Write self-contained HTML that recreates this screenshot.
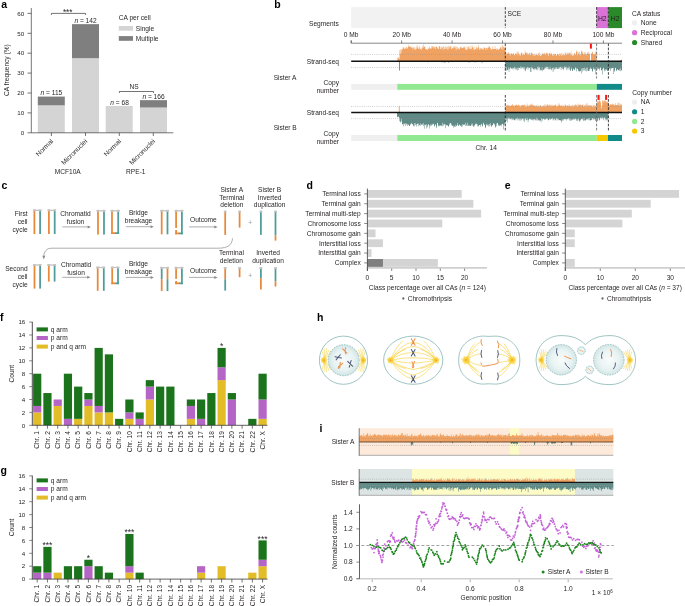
<!DOCTYPE html>
<html><head><meta charset="utf-8"><style>
html,body{margin:0;padding:0;background:#fff;}
body{width:685px;height:606px;overflow:hidden;font-family:"Liberation Sans",sans-serif;}
svg{display:block;will-change:transform;}
</style></head><body>
<svg width="685" height="606" viewBox="0 0 685 606" font-family="Liberation Sans, sans-serif" fill="#231f20"><defs><radialGradient id="nuc" cx="0.5" cy="0.5" r="0.5"><stop offset="0" stop-color="#f8fbfb"/><stop offset="0.65" stop-color="#e9f3f3"/><stop offset="1" stop-color="#d2e5e5"/></radialGradient><radialGradient id="ast" cx="0.5" cy="0.5" r="0.5"><stop offset="0" stop-color="#f9d040" stop-opacity="1"/><stop offset="0.55" stop-color="#fad84e" stop-opacity="0.75"/><stop offset="1" stop-color="#fbe680" stop-opacity="0"/></radialGradient></defs><text x="1.3" y="8.2" font-size="10.5" font-weight="bold" fill="#000">a</text>
<rect x="37.8" y="105.34" width="27" height="27.46" fill="#d4d4d4" />
<rect x="37.8" y="96.58" width="27" height="8.76" fill="#7f7f7f" />
<rect x="72" y="58.18" width="27" height="74.62" fill="#d4d4d4" />
<rect x="72" y="24.15" width="27" height="34.03" fill="#7f7f7f" />
<rect x="105.7" y="105.94" width="27" height="26.86" fill="#d4d4d4" />
<rect x="140" y="107.53" width="27" height="25.27" fill="#d4d4d4" />
<rect x="140" y="100.16" width="27" height="7.36" fill="#7f7f7f" />
<line x1="31.3" y1="8.1" x2="31.3" y2="132.8" stroke="#3a3a3a" stroke-width="0.7" />
<line x1="31.3" y1="132.8" x2="173.3" y2="132.8" stroke="#3a3a3a" stroke-width="0.7" />
<line x1="27.5" y1="132.8" x2="31.3" y2="132.8" stroke="#3a3a3a" stroke-width="0.7" />
<text x="24.2" y="135" font-size="6.2" text-anchor="end">0</text>
<line x1="27.5" y1="112.9" x2="31.3" y2="112.9" stroke="#3a3a3a" stroke-width="0.7" />
<text x="24.2" y="115.1" font-size="6.2" text-anchor="end">10</text>
<line x1="27.5" y1="93" x2="31.3" y2="93" stroke="#3a3a3a" stroke-width="0.7" />
<text x="24.2" y="95.2" font-size="6.2" text-anchor="end">20</text>
<line x1="27.5" y1="73.1" x2="31.3" y2="73.1" stroke="#3a3a3a" stroke-width="0.7" />
<text x="24.2" y="75.3" font-size="6.2" text-anchor="end">30</text>
<line x1="27.5" y1="53.2" x2="31.3" y2="53.2" stroke="#3a3a3a" stroke-width="0.7" />
<text x="24.2" y="55.4" font-size="6.2" text-anchor="end">40</text>
<line x1="27.5" y1="33.3" x2="31.3" y2="33.3" stroke="#3a3a3a" stroke-width="0.7" />
<text x="24.2" y="35.5" font-size="6.2" text-anchor="end">50</text>
<line x1="27.5" y1="13.4" x2="31.3" y2="13.4" stroke="#3a3a3a" stroke-width="0.7" />
<text x="24.2" y="15.6" font-size="6.2" text-anchor="end">60</text>
<line x1="51.4" y1="132.8" x2="51.4" y2="136" stroke="#3a3a3a" stroke-width="0.7" />
<line x1="85.5" y1="132.8" x2="85.5" y2="136" stroke="#3a3a3a" stroke-width="0.7" />
<line x1="119.3" y1="132.8" x2="119.3" y2="136" stroke="#3a3a3a" stroke-width="0.7" />
<line x1="153.3" y1="132.8" x2="153.3" y2="136" stroke="#3a3a3a" stroke-width="0.7" />
<text x="9.3" y="70.1" font-size="6.6" text-anchor="middle" transform="rotate(-90 9.3 70.1)">CA frequency (%)</text>
<text x="51.4" y="94.6" font-size="6.6" text-anchor="middle"><tspan font-style="italic">n</tspan> = 115</text>
<text x="85.5" y="22.7" font-size="6.6" text-anchor="middle"><tspan font-style="italic">n</tspan> = 142</text>
<text x="119.6" y="104.8" font-size="6.6" text-anchor="middle"><tspan font-style="italic">n</tspan> = 68</text>
<text x="153.5" y="99" font-size="6.6" text-anchor="middle"><tspan font-style="italic">n</tspan> = 166</text>
<path d="M51.4 15 V13.4 H85.6 V15" stroke="#3a3a3a" stroke-width="0.7" fill="none" />
<text x="67.7" y="14.6" font-size="8.2" text-anchor="middle">***</text>
<path d="M119.4 93 V91.5 H153.5 V93" stroke="#3a3a3a" stroke-width="0.7" fill="none" />
<text x="134.2" y="88.9" font-size="6.6" text-anchor="middle">NS</text>
<text x="118.8" y="20" font-size="6.6">CA per cell</text>
<rect x="118.8" y="26" width="14.2" height="4.7" fill="#d4d4d4" />
<rect x="118.8" y="36.1" width="14.2" height="4.7" fill="#7f7f7f" />
<text x="135.8" y="30.6" font-size="6.6">Single</text>
<text x="135.8" y="40.9" font-size="6.6">Multiple</text>
<text x="53.6" y="141.7" font-size="6.6" text-anchor="end" transform="rotate(-45 53.6 141.7)">Normal</text>
<text x="87.7" y="141.7" font-size="6.6" text-anchor="end" transform="rotate(-45 87.7 141.7)">Micronuclei</text>
<text x="121.5" y="141.7" font-size="6.6" text-anchor="end" transform="rotate(-45 121.5 141.7)">Normal</text>
<text x="155.5" y="141.7" font-size="6.6" text-anchor="end" transform="rotate(-45 155.5 141.7)">Micronuclei</text>
<text x="67.7" y="174" font-size="6.6" text-anchor="middle">MCF10A</text>
<text x="135.8" y="174" font-size="6.6" text-anchor="middle">RPE-1</text>
<text x="274.2" y="8" font-size="10.5" font-weight="bold" fill="#000">b</text>
<rect x="351.2" y="7.1" width="245.4" height="21" fill="#f2f2f2" />
<rect x="596.6" y="7.1" width="11.7" height="21" fill="#da72d8" />
<rect x="608.3" y="7.1" width="13.7" height="21" fill="#2a8a2a" />
<text x="338.7" y="25.8" font-size="6.6" text-anchor="end">Segments</text>
<text x="507.5" y="15.5" font-size="6.6">SCE</text>
<text x="602.3" y="20.6" font-size="6.8" text-anchor="middle">H2</text>
<text x="615.1" y="20.6" font-size="6.8" text-anchor="middle">H2</text>
<line x1="351.2" y1="43.2" x2="622" y2="43.2" stroke="#555" stroke-width="0.7" />
<line x1="351.2" y1="40.4" x2="351.2" y2="43.2" stroke="#555" stroke-width="0.7" />
<text x="351.2" y="37" font-size="6.6" text-anchor="middle">0 Mb</text>
<line x1="401.64" y1="40.4" x2="401.64" y2="43.2" stroke="#555" stroke-width="0.7" />
<text x="401.64" y="37" font-size="6.6" text-anchor="middle">20 Mb</text>
<line x1="452.08" y1="40.4" x2="452.08" y2="43.2" stroke="#555" stroke-width="0.7" />
<text x="452.08" y="37" font-size="6.6" text-anchor="middle">40 Mb</text>
<line x1="502.52" y1="40.4" x2="502.52" y2="43.2" stroke="#555" stroke-width="0.7" />
<text x="502.52" y="37" font-size="6.6" text-anchor="middle">60 Mb</text>
<line x1="552.96" y1="40.4" x2="552.96" y2="43.2" stroke="#555" stroke-width="0.7" />
<text x="552.96" y="37" font-size="6.6" text-anchor="middle">80 Mb</text>
<line x1="603.4" y1="40.4" x2="603.4" y2="43.2" stroke="#555" stroke-width="0.7" />
<text x="603.4" y="37" font-size="6.6" text-anchor="middle">100 Mb</text>
<line x1="351.2" y1="40.4" x2="351.2" y2="43.2" stroke="#555" stroke-width="0.7" />
<path d="M397.3 61.2 L397.3 58.55 L397.8 58.55 L397.8 57.04 L398.3 57.04 L398.3 57.66 L398.8 57.66 L398.8 59.13 L399.3 59.13 L399.3 58.38 L399.5 58.38 L399.5 50.24 L400 50.24 L400 53.86 L400.5 53.86 L400.5 49.51 L401 49.51 L401 52.82 L401.3 52.82 L401.3 49.81 L401.8 49.81 L401.8 48.84 L402.3 48.84 L402.3 49.53 L402.8 49.53 L402.8 46.74 L403.3 46.74 L403.3 47.67 L403.8 47.67 L403.8 48.51 L404.3 48.51 L404.3 49.09 L404.8 49.09 L404.8 47.28 L405.3 47.28 L405.3 48.74 L405.8 48.74 L405.8 48.19 L406.3 48.19 L406.3 46.82 L406.8 46.82 L406.8 49.02 L407.3 49.02 L407.3 47.9 L407.8 47.9 L407.8 47.08 L408.3 47.08 L408.3 44.74 L408.8 44.74 L408.8 46.97 L409.3 46.97 L409.3 45.91 L409.8 45.91 L409.8 46.94 L410.3 46.94 L410.3 46.5 L410.8 46.5 L410.8 47.22 L411.3 47.22 L411.3 47.68 L411.8 47.68 L411.8 46.64 L412.3 46.64 L412.3 48.1 L412.8 48.1 L412.8 49.76 L413.3 49.76 L413.3 47.41 L413.8 47.41 L413.8 46.71 L414.3 46.71 L414.3 48.46 L414.8 48.46 L414.8 49.91 L415.3 49.91 L415.3 49.14 L415.8 49.14 L415.8 46.93 L416.3 46.93 L416.3 49.01 L416.8 49.01 L416.8 45.08 L417.3 45.08 L417.3 47.8 L417.8 47.8 L417.8 46.72 L418.3 46.72 L418.3 48.89 L418.8 48.89 L418.8 48.56 L419.3 48.56 L419.3 46.17 L419.8 46.17 L419.8 49.3 L420.3 49.3 L420.3 49.07 L420.8 49.07 L420.8 47.64 L421.3 47.64 L421.3 49.98 L421.8 49.98 L421.8 48.52 L422.3 48.52 L422.3 46.19 L422.8 46.19 L422.8 47.94 L423.3 47.94 L423.3 44.42 L423.8 44.42 L423.8 46.88 L424.3 46.88 L424.3 46.81 L424.8 46.81 L424.8 46.37 L425.3 46.37 L425.3 49.08 L425.8 49.08 L425.8 49.35 L426.3 49.35 L426.3 49.31 L426.8 49.31 L426.8 49.59 L427.3 49.59 L427.3 49.9 L427.8 49.9 L427.8 47.54 L428.3 47.54 L428.3 48.99 L428.8 48.99 L428.8 48.54 L429.3 48.54 L429.3 46.6 L429.8 46.6 L429.8 48.14 L430.3 48.14 L430.3 48.56 L430.8 48.56 L430.8 48.94 L431.3 48.94 L431.3 46.31 L431.8 46.31 L431.8 47.89 L432.3 47.89 L432.3 46.14 L432.8 46.14 L432.8 46.09 L433.3 46.09 L433.3 47.22 L433.8 47.22 L433.8 48.53 L434.3 48.53 L434.3 46.91 L434.8 46.91 L434.8 46.88 L435.3 46.88 L435.3 49.11 L435.8 49.11 L435.8 46.06 L436.3 46.06 L436.3 46.78 L436.8 46.78 L436.8 47.04 L437.3 47.04 L437.3 47.93 L437.8 47.93 L437.8 48.99 L438.3 48.99 L438.3 48.96 L438.8 48.96 L438.8 46.17 L439.3 46.17 L439.3 46.25 L439.8 46.25 L439.8 46.18 L440.3 46.18 L440.3 49.12 L440.8 49.12 L440.8 49.21 L441.3 49.21 L441.3 47.5 L441.8 47.5 L441.8 46.64 L442.3 46.64 L442.3 47.39 L442.8 47.39 L442.8 49.66 L443.3 49.66 L443.3 46.36 L443.8 46.36 L443.8 47 L444.3 47 L444.3 49.29 L444.8 49.29 L444.8 48.67 L445.3 48.67 L445.3 46.11 L445.8 46.11 L445.8 48.39 L446.3 48.39 L446.3 47.1 L446.8 47.1 L446.8 49.49 L447.3 49.49 L447.3 46.38 L447.8 46.38 L447.8 49.42 L448.3 49.42 L448.3 46.08 L448.8 46.08 L448.8 48.6 L449.3 48.6 L449.3 46.37 L449.8 46.37 L449.8 47.4 L450.3 47.4 L450.3 46.27 L450.8 46.27 L450.8 46.51 L451.3 46.51 L451.3 49.16 L451.8 49.16 L451.8 48.83 L452.3 48.83 L452.3 47.65 L452.8 47.65 L452.8 48.32 L453.3 48.32 L453.3 46.36 L453.8 46.36 L453.8 48.17 L454.3 48.17 L454.3 46.38 L454.8 46.38 L454.8 46.33 L455.3 46.33 L455.3 47.87 L455.8 47.87 L455.8 49.93 L456.3 49.93 L456.3 46.71 L456.8 46.71 L456.8 49.31 L457.3 49.31 L457.3 47.1 L457.8 47.1 L457.8 48.7 L458.3 48.7 L458.3 47.78 L458.8 47.78 L458.8 49.58 L459.3 49.58 L459.3 49.01 L459.8 49.01 L459.8 46.91 L460.3 46.91 L460.3 47.75 L460.8 47.75 L460.8 46.35 L461.3 46.35 L461.3 47.55 L461.8 47.55 L461.8 47.95 L462.3 47.95 L462.3 48.19 L462.8 48.19 L462.8 48.09 L463.3 48.09 L463.3 47.2 L463.8 47.2 L463.8 46.23 L464.3 46.23 L464.3 47.76 L464.8 47.76 L464.8 46.64 L465.3 46.64 L465.3 49.51 L465.8 49.51 L465.8 49.71 L466.3 49.71 L466.3 49.71 L466.8 49.71 L466.8 46.86 L467.3 46.86 L467.3 49.38 L467.8 49.38 L467.8 47.36 L468.3 47.36 L468.3 46.47 L468.8 46.47 L468.8 49.12 L469.3 49.12 L469.3 48.41 L469.8 48.41 L469.8 46.04 L470.3 46.04 L470.3 49.35 L470.8 49.35 L470.8 47.94 L471.3 47.94 L471.3 49.22 L471.8 49.22 L471.8 45.34 L472.3 45.34 L472.3 47.18 L472.8 47.18 L472.8 47.5 L473.3 47.5 L473.3 49.74 L473.8 49.74 L473.8 46.85 L474.3 46.85 L474.3 49.58 L474.8 49.58 L474.8 49.84 L475.3 49.84 L475.3 48.92 L475.8 48.92 L475.8 48.31 L476.3 48.31 L476.3 46.72 L476.8 46.72 L476.8 49.4 L477.3 49.4 L477.3 47.72 L477.8 47.72 L477.8 47.44 L478.3 47.44 L478.3 45.3 L478.8 45.3 L478.8 47.46 L479.3 47.46 L479.3 49.67 L479.8 49.67 L479.8 49.73 L480.3 49.73 L480.3 48.18 L480.8 48.18 L480.8 47.79 L481.3 47.79 L481.3 48.93 L481.8 48.93 L481.8 47.89 L482.3 47.89 L482.3 49.56 L482.8 49.56 L482.8 49.8 L483.3 49.8 L483.3 48.75 L483.8 48.75 L483.8 46.96 L484.3 46.96 L484.3 48 L484.8 48 L484.8 47.81 L485.3 47.81 L485.3 49.94 L485.8 49.94 L485.8 47.8 L486.3 47.8 L486.3 48.1 L486.8 48.1 L486.8 49.57 L487.3 49.57 L487.3 48.27 L487.8 48.27 L487.8 46.66 L488.3 46.66 L488.3 47.97 L488.8 47.97 L488.8 46.07 L489.3 46.07 L489.3 46.67 L489.8 46.67 L489.8 47.46 L490.3 47.46 L490.3 48.19 L490.8 48.19 L490.8 49.72 L491.3 49.72 L491.3 48.98 L491.8 48.98 L491.8 49.66 L492.3 49.66 L492.3 46.52 L492.8 46.52 L492.8 48.87 L493.3 48.87 L493.3 48.83 L493.8 48.83 L493.8 49.37 L494.3 49.37 L494.3 48.95 L494.8 48.95 L494.8 46.11 L495.3 46.11 L495.3 49.02 L495.8 49.02 L495.8 48.76 L496.3 48.76 L496.3 50 L496.8 50 L496.8 48.1 L497.3 48.1 L497.3 49.2 L497.8 49.2 L497.8 49.98 L498.3 49.98 L498.3 49.64 L498.8 49.64 L498.8 48.86 L499.3 48.86 L499.3 49.07 L499.8 49.07 L499.8 47.88 L500.3 47.88 L500.3 47.37 L500.8 47.37 L500.8 46.48 L501.3 46.48 L501.3 48.7 L501.8 48.7 L501.8 49.4 L502.3 49.4 L502.3 44.75 L502.8 44.75 L502.8 46.43 L503.3 46.43 L503.3 47.06 L503.8 47.06 L503.8 49.44 L504.3 49.44 L504.3 47.98 L504.8 47.98 L504.8 46.78 L505.3 46.78 L505.3 53.9 L505.8 53.9 L505.8 53.54 L506.3 53.54 L506.3 54.79 L506.8 54.79 L506.8 52.29 L507.3 52.29 L507.3 53.99 L507.8 53.99 L507.8 53.75 L508.3 53.75 L508.3 51.94 L508.8 51.94 L508.8 53.31 L509.3 53.31 L509.3 54.07 L509.8 54.07 L509.8 55.76 L510.3 55.76 L510.3 54.33 L510.8 54.33 L510.8 53.37 L511.3 53.37 L511.3 53.34 L511.8 53.34 L511.8 54.22 L512.3 54.22 L512.3 54.28 L512.8 54.28 L512.8 53.24 L513.3 53.24 L513.3 53.26 L513.8 53.26 L513.8 55.09 L514.3 55.09 L514.3 54.9 L514.8 54.9 L514.8 55.18 L515.3 55.18 L515.3 53.58 L515.8 53.58 L515.8 53.57 L516.3 53.57 L516.3 54.14 L516.8 54.14 L516.8 51.75 L517.3 51.75 L517.3 55.28 L517.8 55.28 L517.8 51.31 L518.3 51.31 L518.3 53.05 L518.8 53.05 L518.8 54.38 L519.3 54.38 L519.3 55.24 L519.8 55.24 L519.8 55.24 L520.3 55.24 L520.3 55.49 L520.8 55.49 L520.8 52.57 L521.3 52.57 L521.3 53.05 L521.8 53.05 L521.8 52.81 L522.3 52.81 L522.3 55.17 L522.8 55.17 L522.8 54.24 L523.3 54.24 L523.3 54.23 L523.8 54.23 L523.8 54.91 L524.3 54.91 L524.3 54.76 L524.8 54.76 L524.8 50.81 L525.3 50.81 L525.3 52.98 L525.8 52.98 L525.8 52.66 L526.3 52.66 L526.3 52.75 L526.8 52.75 L526.8 54.66 L527.3 54.66 L527.3 52.4 L527.8 52.4 L527.8 54.7 L528.3 54.7 L528.3 54.72 L528.8 54.72 L528.8 53 L529.3 53 L529.3 52.63 L529.8 52.63 L529.8 55.04 L530.3 55.04 L530.3 55.32 L530.8 55.32 L530.8 52.56 L531.3 52.56 L531.3 53.08 L531.8 53.08 L531.8 52.71 L532.3 52.71 L532.3 54.02 L532.8 54.02 L532.8 55.82 L533.3 55.82 L533.3 54.38 L533.8 54.38 L533.8 53.68 L534.3 53.68 L534.3 55.82 L534.8 55.82 L534.8 55.54 L535.3 55.54 L535.3 54.76 L535.8 54.76 L535.8 53.34 L536.3 53.34 L536.3 55.06 L536.8 55.06 L536.8 54.92 L537.3 54.92 L537.3 54.58 L537.8 54.58 L537.8 55.42 L538.3 55.42 L538.3 52.74 L538.8 52.74 L538.8 55.21 L539.3 55.21 L539.3 52.41 L539.8 52.41 L539.8 55.5 L540.3 55.5 L540.3 55.67 L540.8 55.67 L540.8 55.67 L541.3 55.67 L541.3 55.07 L541.8 55.07 L541.8 52.81 L542.3 52.81 L542.3 54.51 L542.8 54.51 L542.8 54.11 L543.3 54.11 L543.3 53.98 L543.8 53.98 L543.8 52.52 L544.3 52.52 L544.3 54.19 L544.8 54.19 L544.8 52.89 L545.3 52.89 L545.3 55.02 L545.8 55.02 L545.8 54.56 L546.3 54.56 L546.3 52.57 L546.8 52.57 L546.8 52.76 L547.3 52.76 L547.3 53.45 L547.8 53.45 L547.8 54.3 L548.3 54.3 L548.3 56 L548.8 56 L548.8 52.66 L549.3 52.66 L549.3 52.92 L549.8 52.92 L549.8 54.66 L550.3 54.66 L550.3 54.12 L550.8 54.12 L550.8 52.61 L551.3 52.61 L551.3 53.67 L551.8 53.67 L551.8 54.35 L552.3 54.35 L552.3 55.86 L552.8 55.86 L552.8 55.16 L553.3 55.16 L553.3 53.68 L553.8 53.68 L553.8 55.54 L554.3 55.54 L554.3 53.71 L554.8 53.71 L554.8 54.09 L555.3 54.09 L555.3 53.9 L555.8 53.9 L555.8 55.2 L556.3 55.2 L556.3 55.96 L556.8 55.96 L556.8 54.34 L557.3 54.34 L557.3 53.68 L557.8 53.68 L557.8 54.29 L558.3 54.29 L558.3 55.11 L558.8 55.11 L558.8 53.46 L559.3 53.46 L559.3 55.92 L559.8 55.92 L559.8 53.57 L560.3 53.57 L560.3 55.07 L560.8 55.07 L560.8 52.67 L561.3 52.67 L561.3 55.88 L561.8 55.88 L561.8 54.49 L562.3 54.49 L562.3 55.29 L562.8 55.29 L562.8 53.34 L563.3 53.34 L563.3 55.26 L563.8 55.26 L563.8 54.88 L564.3 54.88 L564.3 55.17 L564.8 55.17 L564.8 53.26 L565.3 53.26 L565.3 52.57 L565.8 52.57 L565.8 55.33 L566.3 55.33 L566.3 54.5 L566.8 54.5 L566.8 52.58 L567.3 52.58 L567.3 54.58 L567.8 54.58 L567.8 52.49 L568.3 52.49 L568.3 54.68 L568.8 54.68 L568.8 52.77 L569.3 52.77 L569.3 53.36 L569.8 53.36 L569.8 52.65 L570.3 52.65 L570.3 55.33 L570.8 55.33 L570.8 51.4 L571.3 51.4 L571.3 54.64 L571.8 54.64 L571.8 54.81 L572.3 54.81 L572.3 55.99 L572.8 55.99 L572.8 54.73 L573.3 54.73 L573.3 55.55 L573.8 55.55 L573.8 55.25 L574.3 55.25 L574.3 53.04 L574.8 53.04 L574.8 53.08 L575 53.08 L575 53.96 L575.5 53.96 L575.5 54.75 L576 54.75 L576 50.21 L576.5 50.21 L576.5 52.03 L577 52.03 L577 55.2 L577.5 55.2 L577.5 51.55 L578 51.55 L578 52.31 L578.5 52.31 L578.5 54.11 L579 54.11 L579 51.39 L579.5 51.39 L579.5 54.45 L580 54.45 L580 54.21 L580.5 54.21 L580.5 55.58 L581 55.58 L581 51.57 L581.5 51.57 L581.5 50.63 L582 50.63 L582 53.51 L582.5 53.51 L582.5 51.4 L583 51.4 L583 54.5 L583.5 54.5 L583.5 53.43 L584 53.43 L584 54.8 L584.5 54.8 L584.5 52.35 L585 52.35 L585 52.2 L585.5 52.2 L585.5 54.16 L586 54.16 L586 54.01 L586.5 54.01 L586.5 55.25 L587 55.25 L587 52.29 L587.5 52.29 L587.5 53.37 L588 53.37 L588 54.17 L588.5 54.17 L588.5 51.71 L589 51.71 L589 54.1 L589.5 54.1 L589.5 53.41 L590 53.41 L590 61.2 Z" stroke="none" stroke-width="0.7" fill="#f0a262" />
<path d="M591 61.2 L591 53.43 L591.5 53.43 L591.5 53.57 L592 53.57 L592 52.43 L592.5 52.43 L592.5 51.67 L593 51.67 L593 54.87 L593.5 54.87 L593.5 54.11 L594 54.11 L594 53.76 L594.5 53.76 L594.5 54.52 L595 54.52 L595 54.32 L595.5 54.32 L595.5 51.51 L596 51.51 L596 53.96 L596.5 53.96 L596.5 51.03 L596.6 51.03 L596.6 61.2 Z" stroke="none" stroke-width="0.7" fill="#f0a262" />
<path d="M620.5 61.2 L620.5 59.97 L621 59.97 L621 59.55 L621.5 59.55 L621.5 60.1 L622 60.1 L622 61.2 Z" stroke="none" stroke-width="0.7" fill="#f0a262" />
<path d="M505.3 61.2 L505.3 69.68 L505.8 69.68 L505.8 71 L506.3 71 L506.3 66.88 L506.8 66.88 L506.8 70.29 L507.3 70.29 L507.3 70.12 L507.8 70.12 L507.8 69.86 L508.3 69.86 L508.3 67.44 L508.8 67.44 L508.8 72.09 L509.3 72.09 L509.3 68.88 L509.8 68.88 L509.8 67.87 L510.3 67.87 L510.3 67.22 L510.8 67.22 L510.8 68.8 L511.3 68.8 L511.3 68.26 L511.8 68.26 L511.8 69.11 L512.3 69.11 L512.3 67.65 L512.8 67.65 L512.8 69.58 L513.3 69.58 L513.3 67.92 L513.8 67.92 L513.8 68.6 L514.3 68.6 L514.3 66.76 L514.8 66.76 L514.8 69.18 L515.3 69.18 L515.3 67.53 L515.8 67.53 L515.8 70.21 L516.3 70.21 L516.3 68.67 L516.8 68.67 L516.8 68.07 L517.3 68.07 L517.3 70.39 L517.8 70.39 L517.8 67.19 L518.3 67.19 L518.3 70.1 L518.8 70.1 L518.8 68.1 L519.3 68.1 L519.3 68.02 L519.8 68.02 L519.8 68.24 L520.3 68.24 L520.3 66.46 L520.8 66.46 L520.8 68.96 L521.3 68.96 L521.3 66.76 L521.8 66.76 L521.8 67.88 L522.3 67.88 L522.3 66.98 L522.8 66.98 L522.8 68.48 L523.3 68.48 L523.3 66.84 L523.8 66.84 L523.8 69.62 L524.3 69.62 L524.3 67.19 L524.8 67.19 L524.8 70.17 L525.3 70.17 L525.3 71.29 L525.8 71.29 L525.8 67.95 L526.3 67.95 L526.3 68.88 L526.8 68.88 L526.8 67.04 L527.3 67.04 L527.3 67.29 L527.8 67.29 L527.8 69.79 L528.3 69.79 L528.3 67.13 L528.8 67.13 L528.8 68 L529.3 68 L529.3 67.93 L529.8 67.93 L529.8 67.39 L530.3 67.39 L530.3 71.79 L530.8 71.79 L530.8 72.11 L531.3 72.11 L531.3 66.87 L531.8 66.87 L531.8 68.6 L532.3 68.6 L532.3 67.62 L532.8 67.62 L532.8 68.73 L533.3 68.73 L533.3 69.04 L533.8 69.04 L533.8 70.13 L534.3 70.13 L534.3 68.36 L534.8 68.36 L534.8 69.45 L535.3 69.45 L535.3 68.23 L535.8 68.23 L535.8 68.7 L536.3 68.7 L536.3 69.54 L536.8 69.54 L536.8 70.48 L537.3 70.48 L537.3 66.73 L537.8 66.73 L537.8 69.51 L538.3 69.51 L538.3 66.62 L538.8 66.62 L538.8 67.91 L539.3 67.91 L539.3 66.94 L539.8 66.94 L539.8 70.38 L540.3 70.38 L540.3 69.66 L540.8 69.66 L540.8 70.33 L541.3 70.33 L541.3 70.23 L541.8 70.23 L541.8 67.06 L542.3 67.06 L542.3 71.25 L542.8 71.25 L542.8 69.42 L543.3 69.42 L543.3 69.99 L543.8 69.99 L543.8 69.66 L544.3 69.66 L544.3 68.41 L544.8 68.41 L544.8 67.23 L545.3 67.23 L545.3 68.42 L545.8 68.42 L545.8 66.55 L546.3 66.55 L546.3 67.04 L546.8 67.04 L546.8 69.12 L547.3 69.12 L547.3 67.07 L547.8 67.07 L547.8 66.86 L548.3 66.86 L548.3 68.95 L548.8 68.95 L548.8 69.89 L549.3 69.89 L549.3 68.72 L549.8 68.72 L549.8 66.82 L550.3 66.82 L550.3 68.92 L550.8 68.92 L550.8 69.59 L551.3 69.59 L551.3 70.36 L551.8 70.36 L551.8 67.84 L552.3 67.84 L552.3 68.17 L552.8 68.17 L552.8 72 L553.3 72 L553.3 67.41 L553.8 67.41 L553.8 70.34 L554.3 70.34 L554.3 69.05 L554.8 69.05 L554.8 66.89 L555.3 66.89 L555.3 68.86 L555.8 68.86 L555.8 68.45 L556.3 68.45 L556.3 66.93 L556.8 66.93 L556.8 69.02 L557.3 69.02 L557.3 68.96 L557.8 68.96 L557.8 67.3 L558.3 67.3 L558.3 68.76 L558.8 68.76 L558.8 68.9 L559.3 68.9 L559.3 66.94 L559.8 66.94 L559.8 67.37 L560.3 67.37 L560.3 66.78 L560.8 66.78 L560.8 69.89 L561.3 69.89 L561.3 68.01 L561.8 68.01 L561.8 66.45 L562.3 66.45 L562.3 68.65 L562.8 68.65 L562.8 68.98 L563.3 68.98 L563.3 70.15 L563.8 70.15 L563.8 67.39 L564.3 67.39 L564.3 66.58 L564.8 66.58 L564.8 68.02 L565.3 68.02 L565.3 66.63 L565.8 66.63 L565.8 66.45 L566.3 66.45 L566.3 70.16 L566.8 70.16 L566.8 67.2 L567.3 67.2 L567.3 68.43 L567.8 68.43 L567.8 69.65 L568.3 69.65 L568.3 67.64 L568.8 67.64 L568.8 66.59 L569.3 66.59 L569.3 69.53 L569.8 69.53 L569.8 66.43 L570 66.43 L570 70.63 L570.5 70.63 L570.5 70.61 L571 70.61 L571 69.09 L571.5 69.09 L571.5 67.38 L572 67.38 L572 70.65 L572.5 70.65 L572.5 71.09 L573 71.09 L573 68.42 L573.5 68.42 L573.5 69.21 L574 69.21 L574 69.61 L574.5 69.61 L574.5 70.15 L575 70.15 L575 68.2 L575.5 68.2 L575.5 67.27 L576 67.27 L576 68.29 L576.5 68.29 L576.5 71.55 L577 71.55 L577 68.7 L577.5 68.7 L577.5 68.71 L578 68.71 L578 71.37 L578.5 71.37 L578.5 70.39 L579 70.39 L579 71.7 L579.5 71.7 L579.5 71.06 L580 71.06 L580 71.14 L580.5 71.14 L580.5 70.53 L581 70.53 L581 68.62 L581.5 68.62 L581.5 73.42 L582 73.42 L582 68.26 L582.5 68.26 L582.5 71.47 L583 71.47 L583 68.01 L583.5 68.01 L583.5 70.39 L584 70.39 L584 70.41 L584.5 70.41 L584.5 67.5 L585 67.5 L585 68.87 L585.5 68.87 L585.5 70.97 L586 70.97 L586 67.5 L586.5 67.5 L586.5 71.41 L587 71.41 L587 67.69 L587.5 67.69 L587.5 70.83 L588 70.83 L588 70.94 L588.5 70.94 L588.5 71 L589 71 L589 68.88 L589.5 68.88 L589.5 70.68 L590 70.68 L590 68.67 L590.5 68.67 L590.5 67.3 L591 67.3 L591 68.5 L591.5 68.5 L591.5 68.89 L592 68.89 L592 71.63 L592.5 71.63 L592.5 71.12 L593 71.12 L593 67.34 L593.5 67.34 L593.5 69.21 L594 69.21 L594 68.8 L594.5 68.8 L594.5 69.67 L595 69.67 L595 74.18 L595.5 74.18 L595.5 68.73 L596 68.73 L596 70.71 L596.5 70.71 L596.5 67.22 L597 67.22 L597 69.46 L597.5 69.46 L597.5 68.05 L598 68.05 L598 68.8 L598.5 68.8 L598.5 68.4 L599 68.4 L599 68.51 L599.5 68.51 L599.5 70.42 L600 70.42 L600 67.71 L600.5 67.71 L600.5 67.57 L601 67.57 L601 70.41 L601.5 70.41 L601.5 70.09 L602 70.09 L602 69.05 L602.5 69.05 L602.5 74.57 L603 74.57 L603 67.32 L603.5 67.32 L603.5 68.41 L604 68.41 L604 69.51 L604.5 69.51 L604.5 71.27 L605 71.27 L605 69.32 L605.5 69.32 L605.5 70.67 L606 70.67 L606 70.17 L606.5 70.17 L606.5 68.7 L607 68.7 L607 71.08 L607.5 71.08 L607.5 70.61 L608 70.61 L608 69.22 L608.5 69.22 L608.5 69.86 L609 69.86 L609 69.33 L609.5 69.33 L609.5 68.29 L610 68.29 L610 68.59 L610.5 68.59 L610.5 71.08 L611 71.08 L611 67.92 L611.5 67.92 L611.5 68.7 L612 68.7 L612 67.94 L612.5 67.94 L612.5 68.07 L613 68.07 L613 74.09 L613.5 74.09 L613.5 67.67 L614 67.67 L614 71.73 L614.5 71.73 L614.5 70.57 L615 70.57 L615 68.1 L615.5 68.1 L615.5 67.69 L616 67.69 L616 70.45 L616.5 70.45 L616.5 70.84 L617 70.84 L617 69.5 L617.5 69.5 L617.5 69.33 L618 69.33 L618 69.98 L618.5 69.98 L618.5 70.61 L619 70.61 L619 69.18 L619.5 69.18 L619.5 70.65 L620 70.65 L620 68.25 L620.5 68.25 L620.5 71.25 L621 71.25 L621 70.42 L621.5 70.42 L621.5 70.33 L622 70.33 L622 61.2 Z" stroke="none" stroke-width="0.7" fill="#5f8a86" />
<rect x="448.3" y="61.2" width="0.6" height="1.04" fill="#5f8a86" />
<rect x="466.08" y="61.2" width="0.6" height="0.74" fill="#5f8a86" />
<rect x="444.8" y="61.2" width="0.6" height="1.7" fill="#5f8a86" />
<rect x="474.74" y="61.2" width="0.6" height="1.48" fill="#5f8a86" />
<rect x="427.51" y="61.2" width="0.6" height="1.19" fill="#5f8a86" />
<rect x="448.43" y="61.2" width="0.6" height="1.47" fill="#5f8a86" />
<rect x="443.75" y="61.2" width="0.6" height="1.55" fill="#5f8a86" />
<rect x="496.88" y="61.2" width="0.6" height="0.86" fill="#5f8a86" />
<rect x="468.76" y="61.2" width="0.6" height="1.69" fill="#5f8a86" />
<rect x="441.65" y="61.2" width="0.6" height="1.29" fill="#5f8a86" />
<rect x="501.41" y="61.2" width="0.6" height="0.65" fill="#5f8a86" />
<rect x="457.42" y="61.2" width="0.6" height="0.83" fill="#5f8a86" />
<rect x="481.74" y="61.2" width="0.6" height="1.92" fill="#5f8a86" />
<rect x="454.96" y="61.2" width="0.6" height="0.74" fill="#5f8a86" />
<rect x="399" y="61.2" width="0.9" height="9.3" fill="#5f8a86" />
<line x1="351.2" y1="54.4" x2="622" y2="54.4" stroke="#8c8c8c" stroke-width="0.6" stroke-dasharray="0.8 1.3" stroke-opacity="0.85"/>
<line x1="351.2" y1="67.5" x2="622" y2="67.5" stroke="#8c8c8c" stroke-width="0.6" stroke-dasharray="0.8 1.3" stroke-opacity="0.85"/>
<line x1="351.2" y1="61.2" x2="622" y2="61.2" stroke="#111" stroke-width="1.35" />
<rect x="589.9" y="43.6" width="2" height="5" fill="#ff1414" />
<path d="M397 112.5 L397 116.72 L397.5 116.72 L397.5 117.15 L398 117.15 L398 116.92 L398.5 116.92 L398.5 116.57 L399 116.57 L399 117.84 L399.5 117.84 L399.5 121.24 L400 121.24 L400 121.55 L400.5 121.55 L400.5 122.44 L401 122.44 L401 118.73 L401.5 118.73 L401.5 121.44 L402 121.44 L402 124.38 L402.5 124.38 L402.5 124.11 L403 124.11 L403 123.6 L403.5 123.6 L403.5 126.46 L404 126.46 L404 123.58 L404.5 123.58 L404.5 124.27 L405 124.27 L405 123.22 L405.5 123.22 L405.5 125.94 L406 125.94 L406 124.58 L406.5 124.58 L406.5 123.6 L407 123.6 L407 124.11 L407.5 124.11 L407.5 125.97 L408 125.97 L408 124.57 L408.5 124.57 L408.5 124.89 L409 124.89 L409 126.03 L409.5 126.03 L409.5 126.1 L410 126.1 L410 124.2 L410.5 124.2 L410.5 124.4 L411 124.4 L411 122.71 L411.5 122.71 L411.5 123.82 L412 123.82 L412 123.91 L412.5 123.91 L412.5 124.41 L413 124.41 L413 125.34 L413.5 125.34 L413.5 126.41 L414 126.41 L414 122.93 L414.5 122.93 L414.5 126.32 L415 126.32 L415 123.26 L415.5 123.26 L415.5 125.27 L416 125.27 L416 126.51 L416.5 126.51 L416.5 124.16 L417 124.16 L417 123.63 L417.5 123.63 L417.5 124.09 L418 124.09 L418 126.32 L418.5 126.32 L418.5 123.37 L419 123.37 L419 125.13 L419.5 125.13 L419.5 125.37 L420 125.37 L420 125.85 L420.5 125.85 L420.5 123.49 L421 123.49 L421 124.82 L421.5 124.82 L421.5 124.45 L422 124.45 L422 124.92 L422.5 124.92 L422.5 123.64 L423 123.64 L423 126.17 L423.5 126.17 L423.5 123.28 L424 123.28 L424 124.69 L424.5 124.69 L424.5 128.84 L425 128.84 L425 124.57 L425.5 124.57 L425.5 125.36 L426 125.36 L426 124.2 L426.5 124.2 L426.5 128.58 L427 128.58 L427 127.2 L427.5 127.2 L427.5 125.43 L428 125.43 L428 124.02 L428.5 124.02 L428.5 124.74 L429 124.74 L429 128.59 L429.5 128.59 L429.5 125.2 L430 125.2 L430 126.15 L430.5 126.15 L430.5 124.6 L431 124.6 L431 125.78 L431.5 125.78 L431.5 124.44 L432 124.44 L432 124.92 L432.5 124.92 L432.5 123.87 L433 123.87 L433 124.31 L433.5 124.31 L433.5 123.79 L434 123.79 L434 126.6 L434.5 126.6 L434.5 125.87 L435 125.87 L435 123.97 L435.5 123.97 L435.5 125.05 L436 125.05 L436 128.15 L436.5 128.15 L436.5 126.24 L437 126.24 L437 122.9 L437.5 122.9 L437.5 122.72 L438 122.72 L438 126.39 L438.5 126.39 L438.5 125.33 L439 125.33 L439 126.34 L439.5 126.34 L439.5 125.17 L440 125.17 L440 125.49 L440.5 125.49 L440.5 125.42 L441 125.42 L441 125.37 L441.5 125.37 L441.5 126.33 L442 126.33 L442 122.85 L442.5 122.85 L442.5 126.36 L443 126.36 L443 124.18 L443.5 124.18 L443.5 125.85 L444 125.85 L444 123.73 L444.5 123.73 L444.5 124.39 L445 124.39 L445 124.42 L445.5 124.42 L445.5 128.25 L446 128.25 L446 125.45 L446.5 125.45 L446.5 125 L447 125 L447 125.72 L447.5 125.72 L447.5 125.07 L448 125.07 L448 126.62 L448.5 126.62 L448.5 126.41 L449 126.41 L449 123.55 L449.5 123.55 L449.5 124.95 L450 124.95 L450 123.19 L450.5 123.19 L450.5 123.05 L451 123.05 L451 125.52 L451.5 125.52 L451.5 123.67 L452 123.67 L452 125.93 L452.5 125.93 L452.5 125.55 L453 125.55 L453 127.63 L453.5 127.63 L453.5 125.54 L454 125.54 L454 126.43 L454.5 126.43 L454.5 126.56 L455 126.56 L455 124.83 L455.5 124.83 L455.5 126.96 L456 126.96 L456 125.62 L456.5 125.62 L456.5 126.14 L457 126.14 L457 122.94 L457.5 122.94 L457.5 125 L458 125 L458 125.41 L458.5 125.41 L458.5 125.89 L459 125.89 L459 125.28 L459.5 125.28 L459.5 124.37 L460 124.37 L460 125.84 L460.5 125.84 L460.5 125.84 L461 125.84 L461 126.99 L461.5 126.99 L461.5 125.51 L462 125.51 L462 124.03 L462.5 124.03 L462.5 126.61 L463 126.61 L463 125.1 L463.5 125.1 L463.5 124.41 L464 124.41 L464 124.21 L464.5 124.21 L464.5 125.11 L465 125.11 L465 125.93 L465.5 125.93 L465.5 122.71 L466 122.71 L466 124.39 L466.5 124.39 L466.5 125.96 L467 125.96 L467 122.87 L467.5 122.87 L467.5 125.95 L468 125.95 L468 124.99 L468.5 124.99 L468.5 126.1 L469 126.1 L469 125.44 L469.5 125.44 L469.5 125.86 L470 125.86 L470 125.89 L470.5 125.89 L470.5 125.7 L471 125.7 L471 123.64 L471.5 123.64 L471.5 125.41 L472 125.41 L472 123.53 L472.5 123.53 L472.5 125.7 L473 125.7 L473 127.12 L473.5 127.12 L473.5 125.79 L474 125.79 L474 125.02 L474.5 125.02 L474.5 126.24 L475 126.24 L475 124.61 L475.5 124.61 L475.5 123.46 L476 123.46 L476 123.42 L476.5 123.42 L476.5 124.15 L477 124.15 L477 124.31 L477.5 124.31 L477.5 126.49 L478 126.49 L478 126.22 L478.5 126.22 L478.5 125.85 L479 125.85 L479 125.09 L479.5 125.09 L479.5 124.89 L480 124.89 L480 126.66 L480.5 126.66 L480.5 124.65 L481 124.65 L481 123.75 L481.5 123.75 L481.5 124.4 L482 124.4 L482 125.77 L482.5 125.77 L482.5 126.55 L483 126.55 L483 122.85 L483.5 122.85 L483.5 123.59 L484 123.59 L484 124.93 L484.5 124.93 L484.5 124.53 L485 124.53 L485 128.25 L485.5 128.25 L485.5 127.36 L486 127.36 L486 123.73 L486.5 123.73 L486.5 125.26 L487 125.26 L487 125.38 L487.5 125.38 L487.5 124.49 L488 124.49 L488 126.56 L488.5 126.56 L488.5 124.41 L489 124.41 L489 124.11 L489.5 124.11 L489.5 126.32 L490 126.32 L490 122.89 L490.5 122.89 L490.5 125.54 L491 125.54 L491 127.11 L491.5 127.11 L491.5 125.72 L492 125.72 L492 125.41 L492.5 125.41 L492.5 125.07 L493 125.07 L493 123.12 L493.5 123.12 L493.5 123.73 L494 123.73 L494 124.63 L494.5 124.63 L494.5 123.65 L495 123.65 L495 127.71 L495.5 127.71 L495.5 126.45 L496 126.45 L496 123.58 L496.5 123.58 L496.5 126.17 L497 126.17 L497 123.26 L497.5 123.26 L497.5 123.09 L498 123.09 L498 126.07 L498.5 126.07 L498.5 124.51 L499 124.51 L499 125.99 L499.5 125.99 L499.5 125.21 L500 125.21 L500 125.87 L500.5 125.87 L500.5 124.91 L501 124.91 L501 126.18 L501.5 126.18 L501.5 124.35 L502 124.35 L502 123.78 L502.5 123.78 L502.5 124.04 L503 124.04 L503 124.66 L503.5 124.66 L503.5 129.44 L504 129.44 L504 122.93 L504.5 122.93 L504.5 125.37 L505 125.37 L505 124.61 L505.3 124.61 L505.3 118.52 L505.8 118.52 L505.8 118.87 L506.3 118.87 L506.3 120.89 L506.8 120.89 L506.8 118.01 L507.3 118.01 L507.3 122.43 L507.8 122.43 L507.8 118.64 L508.3 118.64 L508.3 117.75 L508.8 117.75 L508.8 118.79 L509.3 118.79 L509.3 117.71 L509.8 117.71 L509.8 119.39 L510.3 119.39 L510.3 119.09 L510.8 119.09 L510.8 118.4 L511.3 118.4 L511.3 118.14 L511.8 118.14 L511.8 120.17 L512.3 120.17 L512.3 118.55 L512.8 118.55 L512.8 119.65 L513.3 119.65 L513.3 118.58 L513.8 118.58 L513.8 119.66 L514.3 119.66 L514.3 120.3 L514.8 120.3 L514.8 120.22 L515.3 120.22 L515.3 119.01 L515.8 119.01 L515.8 117.88 L516.3 117.88 L516.3 118.77 L516.8 118.77 L516.8 120.47 L517.3 120.47 L517.3 117.75 L517.8 117.75 L517.8 119.23 L518.3 119.23 L518.3 118.55 L518.8 118.55 L518.8 120.36 L519.3 120.36 L519.3 118.22 L519.8 118.22 L519.8 120.93 L520.3 120.93 L520.3 119.13 L520.8 119.13 L520.8 118.09 L521.3 118.09 L521.3 120.31 L521.8 120.31 L521.8 118.73 L522.3 118.73 L522.3 118.92 L522.8 118.92 L522.8 117.9 L523.3 117.9 L523.3 120.75 L523.8 120.75 L523.8 119.34 L524.3 119.34 L524.3 121.9 L524.8 121.9 L524.8 118.42 L525.3 118.42 L525.3 118.03 L525.8 118.03 L525.8 120.56 L526.3 120.56 L526.3 119.94 L526.8 119.94 L526.8 117.76 L527.3 117.76 L527.3 119.54 L527.8 119.54 L527.8 122.17 L528.3 122.17 L528.3 120.31 L528.8 120.31 L528.8 119.28 L529.3 119.28 L529.3 118.59 L529.8 118.59 L529.8 119 L530.3 119 L530.3 119.59 L530.8 119.59 L530.8 118.17 L531.3 118.17 L531.3 120.09 L531.8 120.09 L531.8 120.34 L532.3 120.34 L532.3 118.94 L532.8 118.94 L532.8 120.39 L533.3 120.39 L533.3 118.97 L533.8 118.97 L533.8 120.19 L534.3 120.19 L534.3 118.47 L534.8 118.47 L534.8 119.09 L535.3 119.09 L535.3 120.27 L535.8 120.27 L535.8 120.31 L536.3 120.31 L536.3 117.87 L536.8 117.87 L536.8 120.77 L537.3 120.77 L537.3 118.5 L537.8 118.5 L537.8 119.72 L538.3 119.72 L538.3 120.51 L538.8 120.51 L538.8 119.67 L539.3 119.67 L539.3 120.8 L539.8 120.8 L539.8 120.7 L540.3 120.7 L540.3 120.29 L540.8 120.29 L540.8 122.17 L541.3 122.17 L541.3 118.55 L541.8 118.55 L541.8 118.57 L542.3 118.57 L542.3 120.66 L542.8 120.66 L542.8 118.5 L543.3 118.5 L543.3 119.09 L543.8 119.09 L543.8 118.62 L544.3 118.62 L544.3 119.77 L544.8 119.77 L544.8 119.6 L545.3 119.6 L545.3 119.34 L545.8 119.34 L545.8 119.19 L546.3 119.19 L546.3 118.17 L546.8 118.17 L546.8 118.12 L547.3 118.12 L547.3 119 L547.8 119 L547.8 119.88 L548.3 119.88 L548.3 120.39 L548.8 120.39 L548.8 119.52 L549.3 119.52 L549.3 118.34 L549.8 118.34 L549.8 119.17 L550.3 119.17 L550.3 119.66 L550.8 119.66 L550.8 118.69 L551.3 118.69 L551.3 118.41 L551.8 118.41 L551.8 118.93 L552.3 118.93 L552.3 117.74 L552.8 117.74 L552.8 120.46 L553.3 120.46 L553.3 119.48 L553.8 119.48 L553.8 118.61 L554.3 118.61 L554.3 118.65 L554.8 118.65 L554.8 120.44 L555.3 120.44 L555.3 120.1 L555.8 120.1 L555.8 119.11 L556.3 119.11 L556.3 118.05 L556.8 118.05 L556.8 120.77 L557.3 120.77 L557.3 118.19 L557.8 118.19 L557.8 118.83 L558.3 118.83 L558.3 119.67 L558.8 119.67 L558.8 120.33 L559.3 120.33 L559.3 120.06 L559.8 120.06 L559.8 120.13 L560.3 120.13 L560.3 120.21 L560.8 120.21 L560.8 120.63 L561.3 120.63 L561.3 122.45 L561.8 122.45 L561.8 119.57 L562.3 119.57 L562.3 120.78 L562.8 120.78 L562.8 119.04 L563.3 119.04 L563.3 120.49 L563.8 120.49 L563.8 118.91 L564.3 118.91 L564.3 119.17 L564.8 119.17 L564.8 118.64 L565.3 118.64 L565.3 119.48 L565.8 119.48 L565.8 118.73 L566.3 118.73 L566.3 120.42 L566.8 120.42 L566.8 119.12 L567.3 119.12 L567.3 118.67 L567.8 118.67 L567.8 119.54 L568.3 119.54 L568.3 117.98 L568.8 117.98 L568.8 118.74 L569.3 118.74 L569.3 120.38 L569.8 120.38 L569.8 118.35 L570.3 118.35 L570.3 120.74 L570.8 120.74 L570.8 119.51 L571.3 119.51 L571.3 120.64 L571.8 120.64 L571.8 119.42 L572.3 119.42 L572.3 119.36 L572.8 119.36 L572.8 119.89 L573.3 119.89 L573.3 118.84 L573.8 118.84 L573.8 118.82 L574.3 118.82 L574.3 119.86 L574.8 119.86 L574.8 118.02 L575.3 118.02 L575.3 118.98 L575.8 118.98 L575.8 119.54 L576.3 119.54 L576.3 120.79 L576.8 120.79 L576.8 119.11 L577.3 119.11 L577.3 120.89 L577.8 120.89 L577.8 119.4 L578.3 119.4 L578.3 118.25 L578.8 118.25 L578.8 120.83 L579.3 120.83 L579.3 121.63 L579.8 121.63 L579.8 119.91 L580.3 119.91 L580.3 120.87 L580.8 120.87 L580.8 119.05 L581.3 119.05 L581.3 118.63 L581.8 118.63 L581.8 119.32 L582.3 119.32 L582.3 118.28 L582.8 118.28 L582.8 119.63 L583.3 119.63 L583.3 120.88 L583.8 120.88 L583.8 117.84 L584.3 117.84 L584.3 120.22 L584.8 120.22 L584.8 120.69 L585.3 120.69 L585.3 120.39 L585.8 120.39 L585.8 119.84 L586.3 119.84 L586.3 119.29 L586.8 119.29 L586.8 118.55 L587.3 118.55 L587.3 119.4 L587.8 119.4 L587.8 119.54 L588.3 119.54 L588.3 118.09 L588.8 118.09 L588.8 120.39 L589.3 120.39 L589.3 118.25 L589.8 118.25 L589.8 120.33 L590.3 120.33 L590.3 120.31 L590.8 120.31 L590.8 120.17 L591.3 120.17 L591.3 119.99 L591.8 119.99 L591.8 118.24 L592.3 118.24 L592.3 118.02 L592.8 118.02 L592.8 119.56 L593.3 119.56 L593.3 119.14 L593.8 119.14 L593.8 117.87 L594.3 117.87 L594.3 119.56 L594.8 119.56 L594.8 119.11 L595.3 119.11 L595.3 120.88 L595.8 120.88 L595.8 120.44 L596.3 120.44 L596.3 120.58 L596.6 120.58 L596.6 118.25 L597.1 118.25 L597.1 120.75 L597.6 120.75 L597.6 120.71 L598.1 120.71 L598.1 118.58 L598.6 118.58 L598.6 117.94 L599.1 117.94 L599.1 120.43 L599.6 120.43 L599.6 120.11 L600.1 120.11 L600.1 117.76 L600.6 117.76 L600.6 117.81 L601.1 117.81 L601.1 118.2 L601.6 118.2 L601.6 117.54 L602.1 117.54 L602.1 118.57 L602.6 118.57 L602.6 117.35 L603.1 117.35 L603.1 120.24 L603.6 120.24 L603.6 118.03 L604.1 118.03 L604.1 118.18 L604.6 118.18 L604.6 117.23 L605.1 117.23 L605.1 118.4 L605.6 118.4 L605.6 120.6 L606.1 120.6 L606.1 120.27 L606.6 120.27 L606.6 118.78 L607.1 118.78 L607.1 120.16 L607.6 120.16 L607.6 118.44 L608.1 118.44 L608.1 118.53 L608.4 118.53 L608.4 112.5 Z" stroke="none" stroke-width="0.7" fill="#5f8a86" />
<path d="M505.3 112.5 L505.3 106.46 L505.8 106.46 L505.8 105.69 L506.3 105.69 L506.3 105.82 L506.8 105.82 L506.8 105.16 L507.3 105.16 L507.3 104.66 L507.8 104.66 L507.8 106.04 L508.3 106.04 L508.3 105.42 L508.8 105.42 L508.8 104.73 L509.3 104.73 L509.3 105.67 L509.8 105.67 L509.8 106.3 L510.3 106.3 L510.3 106 L510.8 106 L510.8 105.52 L511.3 105.52 L511.3 105.62 L511.8 105.62 L511.8 104.79 L512.3 104.79 L512.3 104.11 L512.8 104.11 L512.8 106.06 L513.3 106.06 L513.3 105.58 L513.8 105.58 L513.8 106.41 L514.3 106.41 L514.3 105.14 L514.8 105.14 L514.8 105.95 L515.3 105.95 L515.3 104.99 L515.8 104.99 L515.8 104.76 L516.3 104.76 L516.3 104.87 L516.8 104.87 L516.8 105.27 L517.3 105.27 L517.3 105.93 L517.8 105.93 L517.8 105.18 L518.3 105.18 L518.3 104.8 L518.8 104.8 L518.8 105.37 L519.3 105.37 L519.3 106.7 L519.8 106.7 L519.8 105.09 L520.3 105.09 L520.3 106.56 L520.8 106.56 L520.8 106.48 L521.3 106.48 L521.3 105.36 L521.8 105.36 L521.8 105.34 L522.3 105.34 L522.3 104.82 L522.8 104.82 L522.8 105.14 L523.3 105.14 L523.3 105.87 L523.8 105.87 L523.8 104.36 L524.3 104.36 L524.3 104.98 L524.8 104.98 L524.8 106.89 L525.3 106.89 L525.3 104.91 L525.8 104.91 L525.8 106.71 L526.3 106.71 L526.3 106.45 L526.8 106.45 L526.8 103.61 L527.3 103.61 L527.3 105.98 L527.8 105.98 L527.8 104.85 L528.3 104.85 L528.3 106.77 L528.8 106.77 L528.8 105.9 L529.3 105.9 L529.3 105.2 L529.8 105.2 L529.8 104.84 L530.3 104.84 L530.3 104.37 L530.8 104.37 L530.8 105.89 L531.3 105.89 L531.3 104.59 L531.8 104.59 L531.8 103.56 L532.3 103.56 L532.3 104.91 L532.8 104.91 L532.8 105.58 L533.3 105.58 L533.3 105.34 L533.8 105.34 L533.8 105.61 L534.3 105.61 L534.3 105.93 L534.8 105.93 L534.8 106.19 L535.3 106.19 L535.3 105.16 L535.8 105.16 L535.8 106.38 L536.3 106.38 L536.3 105.66 L536.8 105.66 L536.8 104.57 L537.3 104.57 L537.3 106.22 L537.8 106.22 L537.8 106.63 L538.3 106.63 L538.3 106.13 L538.8 106.13 L538.8 105.57 L539.3 105.57 L539.3 106.56 L539.8 106.56 L539.8 105.44 L540.3 105.44 L540.3 105.01 L540.8 105.01 L540.8 106.7 L541.3 106.7 L541.3 106.06 L541.8 106.06 L541.8 106.84 L542.3 106.84 L542.3 106.49 L542.8 106.49 L542.8 105.16 L543.3 105.16 L543.3 105.78 L543.8 105.78 L543.8 106.54 L544.3 106.54 L544.3 104.42 L544.8 104.42 L544.8 106.78 L545.3 106.78 L545.3 104.45 L545.8 104.45 L545.8 106.72 L546.3 106.72 L546.3 105.87 L546.8 105.87 L546.8 103.68 L547.3 103.68 L547.3 105.32 L547.8 105.32 L547.8 104.57 L548.3 104.57 L548.3 106.35 L548.8 106.35 L548.8 105.03 L549.3 105.03 L549.3 104.82 L549.8 104.82 L549.8 106.52 L550.3 106.52 L550.3 104.8 L550.8 104.8 L550.8 106.56 L551.3 106.56 L551.3 104.84 L551.8 104.84 L551.8 106.15 L552.3 106.15 L552.3 104.85 L552.8 104.85 L552.8 106.04 L553.3 106.04 L553.3 106.04 L553.8 106.04 L553.8 105.2 L554.3 105.2 L554.3 105.37 L554.8 105.37 L554.8 105.17 L555.3 105.17 L555.3 104.54 L555.8 104.54 L555.8 105.7 L556.3 105.7 L556.3 106.22 L556.8 106.22 L556.8 106.79 L557.3 106.79 L557.3 106.57 L557.8 106.57 L557.8 104.4 L558.3 104.4 L558.3 105.86 L558.8 105.86 L558.8 103.37 L559.3 103.37 L559.3 104.78 L559.8 104.78 L559.8 105.89 L560.3 105.89 L560.3 105.28 L560.8 105.28 L560.8 105.9 L561.3 105.9 L561.3 105.86 L561.8 105.86 L561.8 104.85 L562.3 104.85 L562.3 106.57 L562.8 106.57 L562.8 105.85 L563.3 105.85 L563.3 106.09 L563.8 106.09 L563.8 106.78 L564.3 106.78 L564.3 105.8 L564.8 105.8 L564.8 104.64 L565.3 104.64 L565.3 104.47 L565.8 104.47 L565.8 105.39 L566.3 105.39 L566.3 106.84 L566.8 106.84 L566.8 105.42 L567.3 105.42 L567.3 105.52 L567.8 105.52 L567.8 105.75 L568.3 105.75 L568.3 106.22 L568.8 106.22 L568.8 104.31 L569.3 104.31 L569.3 105.24 L569.8 105.24 L569.8 106.78 L570.3 106.78 L570.3 106.03 L570.8 106.03 L570.8 105.92 L571.3 105.92 L571.3 105.53 L571.8 105.53 L571.8 106.7 L572.3 106.7 L572.3 104.69 L572.8 104.69 L572.8 106.71 L573.3 106.71 L573.3 105.24 L573.8 105.24 L573.8 106.35 L574.3 106.35 L574.3 105.56 L574.8 105.56 L574.8 104.44 L575.3 104.44 L575.3 104.62 L575.8 104.62 L575.8 106.81 L576.3 106.81 L576.3 104.75 L576.8 104.75 L576.8 105.14 L577.3 105.14 L577.3 106.7 L577.8 106.7 L577.8 103.4 L578.3 103.4 L578.3 105.98 L578.8 105.98 L578.8 104.5 L579.3 104.5 L579.3 104.99 L579.8 104.99 L579.8 104.49 L580.3 104.49 L580.3 104.8 L580.8 104.8 L580.8 106.45 L581.3 106.45 L581.3 105.16 L581.8 105.16 L581.8 104.69 L582.3 104.69 L582.3 104.73 L582.8 104.73 L582.8 104.61 L583.3 104.61 L583.3 106.56 L583.8 106.56 L583.8 106.11 L584.3 106.11 L584.3 105.23 L584.8 105.23 L584.8 106.68 L585.3 106.68 L585.3 105.08 L585.8 105.08 L585.8 103.87 L586.3 103.87 L586.3 106.74 L586.8 106.74 L586.8 102.99 L587.3 102.99 L587.3 105.24 L587.8 105.24 L587.8 106.5 L588.3 106.5 L588.3 104.82 L588.8 104.82 L588.8 106.48 L589.3 106.48 L589.3 104.92 L589.8 104.92 L589.8 105.56 L590.3 105.56 L590.3 105.21 L590.8 105.21 L590.8 106.62 L591.3 106.62 L591.3 105.6 L591.8 105.6 L591.8 104.9 L592.3 104.9 L592.3 106.96 L592.8 106.96 L592.8 106.61 L593.3 106.61 L593.3 104.73 L593.8 104.73 L593.8 106.91 L594.3 106.91 L594.3 104.87 L594.8 104.87 L594.8 105.98 L595.3 105.98 L595.3 106.59 L595.8 106.59 L595.8 105.98 L596.3 105.98 L596.3 104.73 L596.6 104.73 L596.6 103.25 L597.1 103.25 L597.1 101.01 L597.6 101.01 L597.6 102.61 L598.1 102.61 L598.1 101.66 L598.6 101.66 L598.6 100.61 L599.1 100.61 L599.1 101.11 L599.6 101.11 L599.6 99.35 L600.1 99.35 L600.1 101.25 L600.6 101.25 L600.6 103 L601 103 L601 107.98 L601.5 107.98 L601.5 107.44 L602 107.44 L602 105.62 L602.2 105.62 L602.2 100.51 L602.7 100.51 L602.7 100.49 L603.2 100.49 L603.2 101.11 L603.7 101.11 L603.7 102.66 L604.2 102.66 L604.2 100.06 L604.7 100.06 L604.7 100.9 L605.2 100.9 L605.2 100.54 L605.7 100.54 L605.7 101.66 L606.2 101.66 L606.2 102.36 L606.7 102.36 L606.7 100.93 L607.2 100.93 L607.2 102.48 L607.7 102.48 L607.7 101.78 L608.2 101.78 L608.2 102.83 L608.4 102.83 L608.4 104.78 L608.9 104.78 L608.9 105.88 L609.4 105.88 L609.4 104.45 L609.9 104.45 L609.9 104.08 L610.4 104.08 L610.4 104.59 L610.9 104.59 L610.9 104.91 L611.4 104.91 L611.4 104.14 L611.9 104.14 L611.9 104.81 L612.4 104.81 L612.4 103.58 L612.9 103.58 L612.9 104.04 L613.4 104.04 L613.4 104.76 L613.9 104.76 L613.9 104.53 L614.4 104.53 L614.4 105.68 L614.9 105.68 L614.9 103.02 L615.4 103.02 L615.4 104.65 L615.9 104.65 L615.9 105.04 L616.4 105.04 L616.4 105.2 L616.9 105.2 L616.9 105.26 L617.4 105.26 L617.4 103.13 L617.9 103.13 L617.9 105.27 L618.4 105.27 L618.4 102.82 L618.9 102.82 L618.9 105.65 L619.4 105.65 L619.4 103.1 L619.9 103.1 L619.9 105.46 L620.4 105.46 L620.4 104.18 L620.9 104.18 L620.9 103.85 L621.4 103.85 L621.4 105.22 L621.9 105.22 L621.9 103.5 L622 103.5 L622 112.5 Z" stroke="none" stroke-width="0.7" fill="#f0a262" />
<rect x="398.8" y="106" width="0.9" height="6.5" fill="#f0a262" />
<line x1="351.2" y1="106.4" x2="622" y2="106.4" stroke="#8c8c8c" stroke-width="0.6" stroke-dasharray="0.8 1.3" stroke-opacity="0.85"/>
<line x1="351.2" y1="118.6" x2="622" y2="118.6" stroke="#8c8c8c" stroke-width="0.6" stroke-dasharray="0.8 1.3" stroke-opacity="0.85"/>
<line x1="351.2" y1="112.5" x2="622" y2="112.5" stroke="#111" stroke-width="1.35" />
<rect x="597.5" y="94.9" width="2.1" height="5" fill="#ff1414" />
<rect x="605.1" y="94.9" width="2" height="5" fill="#ff1414" />
<line x1="505.3" y1="7.1" x2="505.3" y2="28.1" stroke="#222" stroke-width="0.85" stroke-dasharray="2.6 1.5"/>
<line x1="596.6" y1="7.1" x2="596.6" y2="28.1" stroke="#222" stroke-width="0.85" stroke-dasharray="2.6 1.5"/>
<line x1="608.3" y1="7.1" x2="608.3" y2="28.1" stroke="#222" stroke-width="0.85" stroke-dasharray="2.6 1.5"/>
<line x1="505.3" y1="43.5" x2="505.3" y2="78.5" stroke="#222" stroke-width="0.85" stroke-dasharray="2.6 1.5"/>
<line x1="505.3" y1="95" x2="505.3" y2="130.5" stroke="#222" stroke-width="0.85" stroke-dasharray="2.6 1.5"/>
<line x1="596.6" y1="43.5" x2="596.6" y2="78.5" stroke="#666" stroke-width="0.85" stroke-dasharray="2.6 1.5"/>
<line x1="596.6" y1="95" x2="596.6" y2="130.5" stroke="#666" stroke-width="0.85" stroke-dasharray="2.6 1.5"/>
<line x1="608.4" y1="43.5" x2="608.4" y2="78.5" stroke="#222" stroke-width="0.85" stroke-dasharray="2.6 1.5"/>
<line x1="608.4" y1="95" x2="608.4" y2="130.5" stroke="#222" stroke-width="0.85" stroke-dasharray="2.6 1.5"/>
<rect x="351.2" y="83.9" width="46.1" height="5.9" fill="#efefef" />
<rect x="397.3" y="83.9" width="199.5" height="5.9" fill="#90e890" />
<rect x="596.8" y="83.9" width="25.2" height="5.9" fill="#118a8a" />
<rect x="351.2" y="135" width="46.1" height="6" fill="#efefef" />
<rect x="397.3" y="135" width="199.5" height="6" fill="#90e890" />
<rect x="596.8" y="135" width="11.2" height="6" fill="#f5c800" />
<rect x="608" y="135" width="14" height="6" fill="#118a8a" />
<text x="339" y="63.9" font-size="6.6" text-anchor="end">Strand-seq</text>
<text x="339" y="115.2" font-size="6.6" text-anchor="end">Strand-seq</text>
<text x="273.7" y="79.8" font-size="6.6">Sister A</text>
<text x="273.7" y="130.3" font-size="6.6">Sister B</text>
<text x="339" y="84.6" font-size="6.6" text-anchor="end">Copy</text>
<text x="339" y="92.5" font-size="6.6" text-anchor="end">number</text>
<text x="339" y="136.3" font-size="6.6" text-anchor="end">Copy</text>
<text x="339" y="143.9" font-size="6.6" text-anchor="end">number</text>
<text x="486.2" y="149.7" font-size="6.6" text-anchor="middle">Chr. 14</text>
<text x="632" y="15.9" font-size="6.6">CA status</text>
<circle cx="634.6" cy="22.8" r="2.6" fill="#efefef" />
<text x="640.8" y="25" font-size="6.6">None</text>
<circle cx="634.6" cy="32.65" r="2.6" fill="#da72d8" />
<text x="640.8" y="34.85" font-size="6.6">Reciprocal</text>
<circle cx="634.6" cy="42.5" r="2.6" fill="#2a8a2a" />
<text x="640.8" y="44.7" font-size="6.6">Shared</text>
<text x="632.3" y="95" font-size="6.6">Copy number</text>
<circle cx="634.6" cy="102.1" r="2.6" fill="#efefef" />
<text x="640.8" y="104.3" font-size="6.6">NA</text>
<circle cx="634.6" cy="111.75" r="2.6" fill="#118a8a" />
<text x="640.8" y="113.95" font-size="6.6">1</text>
<circle cx="634.6" cy="121.4" r="2.6" fill="#90e890" />
<text x="640.8" y="123.6" font-size="6.6">2</text>
<circle cx="634.6" cy="131.05" r="2.6" fill="#f5c800" />
<text x="640.8" y="133.25" font-size="6.6">3</text>
<text x="1.5" y="189.2" font-size="10.5" font-weight="bold" fill="#000">c</text>
<rect x="33.52" y="210.3" width="1.75" height="23.7" fill="#e8893a" />
<rect x="39.23" y="210.3" width="1.75" height="23.7" fill="#4f9c9a" />
<rect x="33.25" y="209.7" width="8" height="1.3" fill="#c4c4c4" />
<rect x="32.95" y="209.3" width="2.9" height="2" fill="#c4c4c4" rx="0.5"/>
<rect x="38.65" y="209.3" width="2.9" height="2" fill="#c4c4c4" rx="0.5"/>
<rect x="48.02" y="210.3" width="1.75" height="23.7" fill="#e8893a" />
<rect x="53.83" y="210.3" width="1.75" height="23.7" fill="#4f9c9a" />
<rect x="47.75" y="209.7" width="8.1" height="1.3" fill="#c4c4c4" />
<rect x="47.45" y="209.3" width="2.9" height="2" fill="#c4c4c4" rx="0.5"/>
<rect x="53.25" y="209.3" width="2.9" height="2" fill="#c4c4c4" rx="0.5"/>
<line x1="62.4" y1="226.9" x2="88.4" y2="226.9" stroke="#8a8a8a" stroke-width="0.7" />
<path d="M90.9 226.9 L87.7 225.4 L87.7 228.4 Z" stroke="none" stroke-width="0.7" fill="#8a8a8a" />
<rect x="97.12" y="210.7" width="1.75" height="23.9" fill="#e8893a" />
<rect x="103.12" y="210.7" width="1.75" height="23.9" fill="#4f9c9a" />
<rect x="96.85" y="210.1" width="8.3" height="1.3" fill="#c4c4c4" />
<rect x="96.55" y="209.7" width="2.9" height="2" fill="#c4c4c4" rx="0.5"/>
<rect x="102.55" y="209.7" width="2.9" height="2" fill="#c4c4c4" rx="0.5"/>
<rect x="111.12" y="210.7" width="1.75" height="23.3" fill="#e8893a" />
<rect x="117.33" y="210.7" width="1.75" height="23.3" fill="#4f9c9a" />
<rect x="111.12" y="232.25" width="3.97" height="1.75" fill="#e8893a" />
<rect x="115.1" y="232.25" width="3.98" height="1.75" fill="#4f9c9a" />
<rect x="110.85" y="210.1" width="8.5" height="1.3" fill="#c4c4c4" />
<rect x="110.55" y="209.7" width="2.9" height="2" fill="#c4c4c4" rx="0.5"/>
<rect x="116.75" y="209.7" width="2.9" height="2" fill="#c4c4c4" rx="0.5"/>
<line x1="125.8" y1="226.7" x2="151.3" y2="226.7" stroke="#8a8a8a" stroke-width="0.7" />
<path d="M153.8 226.7 L150.6 225.2 L150.6 228.2 Z" stroke="none" stroke-width="0.7" fill="#8a8a8a" />
<rect x="160.82" y="210.7" width="1.75" height="23.6" fill="#e8893a" />
<rect x="166.62" y="210.7" width="1.75" height="23.6" fill="#4f9c9a" />
<rect x="160.55" y="210.1" width="8.1" height="1.3" fill="#c4c4c4" />
<rect x="160.25" y="209.7" width="2.9" height="2" fill="#c4c4c4" rx="0.5"/>
<rect x="166.05" y="209.7" width="2.9" height="2" fill="#c4c4c4" rx="0.5"/>
<rect x="175.22" y="210.7" width="1.75" height="17.3" fill="#e8893a" />
<rect x="175.22" y="230" width="1.75" height="4.3" fill="#e8893a" />
<rect x="181.03" y="210.7" width="1.75" height="23.6" fill="#4f9c9a" />
<rect x="175.22" y="232.55" width="3.78" height="1.75" fill="#e8893a" />
<rect x="179" y="232.55" width="3.78" height="1.75" fill="#4f9c9a" />
<rect x="174.95" y="210.1" width="8.1" height="1.3" fill="#c4c4c4" />
<rect x="174.65" y="209.7" width="2.9" height="2" fill="#c4c4c4" rx="0.5"/>
<rect x="180.45" y="209.7" width="2.9" height="2" fill="#c4c4c4" rx="0.5"/>
<line x1="189.1" y1="226.9" x2="215.1" y2="226.9" stroke="#8a8a8a" stroke-width="0.7" />
<path d="M217.6 226.9 L214.4 225.4 L214.4 228.4 Z" stroke="none" stroke-width="0.7" fill="#8a8a8a" />
<rect x="224.32" y="211.4" width="1.75" height="23.5" fill="#e8893a" />
<rect x="223.75" y="210.4" width="2.9" height="2" fill="#c4c4c4" rx="0.5"/>
<rect x="238.72" y="211.4" width="1.75" height="16.2" fill="#e8893a" />
<rect x="238.15" y="210.4" width="2.9" height="2" fill="#c4c4c4" rx="0.5"/>
<text x="250.2" y="225.3" font-size="6.6" text-anchor="middle" fill="#999">+</text>
<rect x="260.02" y="211.4" width="1.75" height="23.5" fill="#4f9c9a" />
<rect x="259.45" y="210.4" width="2.9" height="2" fill="#c4c4c4" rx="0.5"/>
<rect x="274.62" y="211.4" width="1.75" height="23.9" fill="#4f9c9a" />
<rect x="274.62" y="235.3" width="1.75" height="5.3" fill="#e8893a" />
<rect x="274.05" y="210.4" width="2.9" height="2" fill="#c4c4c4" rx="0.5"/>
<rect x="33.62" y="265" width="1.75" height="23.6" fill="#e8893a" />
<rect x="39.23" y="265" width="1.75" height="23.6" fill="#4f9c9a" />
<rect x="33.35" y="264.4" width="7.9" height="1.3" fill="#c4c4c4" />
<rect x="33.05" y="264" width="2.9" height="2" fill="#c4c4c4" rx="0.5"/>
<rect x="38.65" y="264" width="2.9" height="2" fill="#c4c4c4" rx="0.5"/>
<rect x="47.92" y="265" width="1.75" height="16.6" fill="#e8893a" />
<rect x="53.73" y="265" width="1.75" height="16.6" fill="#4f9c9a" />
<rect x="47.65" y="264.4" width="8.1" height="1.3" fill="#c4c4c4" />
<rect x="47.35" y="264" width="2.9" height="2" fill="#c4c4c4" rx="0.5"/>
<rect x="53.15" y="264" width="2.9" height="2" fill="#c4c4c4" rx="0.5"/>
<line x1="62.2" y1="277.3" x2="87.9" y2="277.3" stroke="#8a8a8a" stroke-width="0.7" />
<path d="M90.4 277.3 L87.2 275.8 L87.2 278.8 Z" stroke="none" stroke-width="0.7" fill="#8a8a8a" />
<rect x="96.83" y="267.4" width="1.75" height="23.4" fill="#e8893a" />
<rect x="102.92" y="267.4" width="1.75" height="23.4" fill="#4f9c9a" />
<rect x="96.55" y="266.8" width="8.4" height="1.3" fill="#c4c4c4" />
<rect x="96.25" y="266.4" width="2.9" height="2" fill="#c4c4c4" rx="0.5"/>
<rect x="102.35" y="266.4" width="2.9" height="2" fill="#c4c4c4" rx="0.5"/>
<rect x="111.33" y="267.4" width="1.75" height="16.8" fill="#e8893a" />
<rect x="117.12" y="267.4" width="1.75" height="16.8" fill="#4f9c9a" />
<rect x="111.33" y="282.45" width="3.77" height="1.75" fill="#e8893a" />
<rect x="115.1" y="282.45" width="3.78" height="1.75" fill="#4f9c9a" />
<rect x="111.05" y="266.8" width="8.1" height="1.3" fill="#c4c4c4" />
<rect x="110.75" y="266.4" width="2.9" height="2" fill="#c4c4c4" rx="0.5"/>
<rect x="116.55" y="266.4" width="2.9" height="2" fill="#c4c4c4" rx="0.5"/>
<line x1="125.8" y1="277.4" x2="151.3" y2="277.4" stroke="#8a8a8a" stroke-width="0.7" />
<path d="M153.8 277.4 L150.6 275.9 L150.6 278.9 Z" stroke="none" stroke-width="0.7" fill="#8a8a8a" />
<rect x="160.82" y="267.7" width="1.75" height="11.5" fill="#4f9c9a" />
<rect x="160.82" y="279.2" width="1.75" height="11.9" fill="#e8893a" />
<rect x="166.62" y="267.7" width="1.75" height="11.5" fill="#e8893a" />
<rect x="166.62" y="279.2" width="1.75" height="11.9" fill="#4f9c9a" />
<rect x="160.55" y="267.1" width="8.1" height="1.3" fill="#c4c4c4" />
<rect x="160.25" y="266.7" width="2.9" height="2" fill="#c4c4c4" rx="0.5"/>
<rect x="166.05" y="266.7" width="2.9" height="2" fill="#c4c4c4" rx="0.5"/>
<rect x="175.22" y="267.7" width="1.75" height="11.2" fill="#e8893a" />
<rect x="175.22" y="281" width="1.75" height="3.2" fill="#e8893a" />
<rect x="181.03" y="267.7" width="1.75" height="16.5" fill="#4f9c9a" />
<rect x="175.22" y="282.45" width="3.78" height="1.75" fill="#e8893a" />
<rect x="179" y="282.45" width="3.78" height="1.75" fill="#4f9c9a" />
<rect x="174.95" y="267.1" width="8.1" height="1.3" fill="#c4c4c4" />
<rect x="174.65" y="266.7" width="2.9" height="2" fill="#c4c4c4" rx="0.5"/>
<rect x="180.45" y="266.7" width="2.9" height="2" fill="#c4c4c4" rx="0.5"/>
<line x1="189.1" y1="277.4" x2="215.1" y2="277.4" stroke="#8a8a8a" stroke-width="0.7" />
<path d="M217.6 277.4 L214.4 275.9 L214.4 278.9 Z" stroke="none" stroke-width="0.7" fill="#8a8a8a" />
<rect x="224.32" y="267.9" width="1.75" height="11.3" fill="#e8893a" />
<rect x="224.32" y="279.2" width="1.75" height="11.4" fill="#4f9c9a" />
<rect x="223.75" y="266.9" width="2.9" height="2" fill="#c4c4c4" rx="0.5"/>
<rect x="238.72" y="267.9" width="1.75" height="9.3" fill="#e8893a" />
<rect x="238.15" y="266.9" width="2.9" height="2" fill="#c4c4c4" rx="0.5"/>
<text x="250.2" y="278.3" font-size="6.6" text-anchor="middle" fill="#999">+</text>
<rect x="260.02" y="267.9" width="1.75" height="10.3" fill="#4f9c9a" />
<rect x="260.02" y="278.2" width="1.75" height="11.3" fill="#e8893a" />
<rect x="259.45" y="266.9" width="2.9" height="2" fill="#c4c4c4" rx="0.5"/>
<rect x="274.62" y="267.9" width="1.75" height="13.4" fill="#4f9c9a" />
<rect x="274.62" y="281.3" width="1.75" height="5.2" fill="#e8893a" />
<rect x="274.05" y="266.9" width="2.9" height="2" fill="#c4c4c4" rx="0.5"/>
<path d="M232.5 238.3 C232 245 228 248.2 218 248.2 L52 248.2 C46 248.2 44 252 43.8 256.5" stroke="#8a8a8a" stroke-width="0.7" fill="none" />
<path d="M43.8 259.6 L42.3 255.8 L45.3 255.8 Z" stroke="none" stroke-width="0.7" fill="#8a8a8a" />
<text x="27.6" y="216.2" font-size="6.6" text-anchor="end">First</text>
<text x="27.6" y="223.8" font-size="6.6" text-anchor="end">cell</text>
<text x="27.6" y="231.9" font-size="6.6" text-anchor="end">cycle</text>
<text x="27.6" y="270.8" font-size="6.6" text-anchor="end">Second</text>
<text x="27.6" y="279.2" font-size="6.6" text-anchor="end">cell</text>
<text x="27.6" y="286.9" font-size="6.6" text-anchor="end">cycle</text>
<text x="75.5" y="216.2" font-size="6.6" text-anchor="middle">Chromatid</text>
<text x="75.5" y="223.8" font-size="6.6" text-anchor="middle">fusion</text>
<text x="76.1" y="267.1" font-size="6.6" text-anchor="middle">Chromatid</text>
<text x="76.1" y="274.7" font-size="6.6" text-anchor="middle">fusion</text>
<text x="138.5" y="215.1" font-size="6.6" text-anchor="middle">Bridge</text>
<text x="138.5" y="222.8" font-size="6.6" text-anchor="middle">breakage</text>
<text x="138.5" y="265.9" font-size="6.6" text-anchor="middle">Bridge</text>
<text x="138.5" y="273.5" font-size="6.6" text-anchor="middle">breakage</text>
<text x="203.4" y="222.1" font-size="6.6" text-anchor="middle">Outcome</text>
<text x="203.4" y="272.9" font-size="6.6" text-anchor="middle">Outcome</text>
<text x="231.8" y="191.7" font-size="6.6" text-anchor="middle">Sister A</text>
<text x="231.8" y="199.5" font-size="6.6" text-anchor="middle">Terminal</text>
<text x="231.8" y="207.4" font-size="6.6" text-anchor="middle">deletion</text>
<text x="269.6" y="191.7" font-size="6.6" text-anchor="middle">Sister B</text>
<text x="269.6" y="199.5" font-size="6.6" text-anchor="middle">Inverted</text>
<text x="269.6" y="207.4" font-size="6.6" text-anchor="middle">duplication</text>
<text x="231.4" y="255.2" font-size="6.6" text-anchor="middle">Terminal</text>
<text x="231.4" y="262.9" font-size="6.6" text-anchor="middle">deletion</text>
<text x="268.1" y="255.2" font-size="6.6" text-anchor="middle">Inverted</text>
<text x="268.1" y="262.9" font-size="6.6" text-anchor="middle">duplication</text>
<text x="306.4" y="189" font-size="10.5" font-weight="bold" fill="#000">d</text>
<rect x="367.4" y="190" width="94.28" height="7.8" fill="#d4d4d4" />
<line x1="364.2" y1="193.9" x2="367.4" y2="193.9" stroke="#3a3a3a" stroke-width="0.6" />
<text x="360.7" y="196.2" font-size="6.6" text-anchor="end">Terminal loss</text>
<rect x="367.4" y="199.86" width="105.95" height="7.8" fill="#d4d4d4" />
<line x1="364.2" y1="203.76" x2="367.4" y2="203.76" stroke="#3a3a3a" stroke-width="0.6" />
<text x="360.7" y="206.06" font-size="6.6" text-anchor="end">Terminal gain</text>
<rect x="367.4" y="209.72" width="113.72" height="7.8" fill="#d4d4d4" />
<line x1="364.2" y1="213.62" x2="367.4" y2="213.62" stroke="#3a3a3a" stroke-width="0.6" />
<text x="360.7" y="215.92" font-size="6.6" text-anchor="end">Terminal multi-step</text>
<rect x="367.4" y="219.58" width="74.84" height="7.8" fill="#d4d4d4" />
<line x1="364.2" y1="223.48" x2="367.4" y2="223.48" stroke="#3a3a3a" stroke-width="0.6" />
<text x="360.7" y="225.78" font-size="6.6" text-anchor="end">Chromosome loss</text>
<rect x="367.4" y="229.44" width="8.12" height="7.8" fill="#d4d4d4" />
<line x1="364.2" y1="233.34" x2="367.4" y2="233.34" stroke="#3a3a3a" stroke-width="0.6" />
<text x="360.7" y="235.64" font-size="6.6" text-anchor="end">Chromosome gain</text>
<rect x="367.4" y="239.3" width="15.55" height="7.8" fill="#d4d4d4" />
<line x1="364.2" y1="243.2" x2="367.4" y2="243.2" stroke="#3a3a3a" stroke-width="0.6" />
<text x="360.7" y="245.5" font-size="6.6" text-anchor="end">Interstitial loss</text>
<rect x="367.4" y="249.16" width="4.08" height="7.8" fill="#d4d4d4" />
<line x1="364.2" y1="253.06" x2="367.4" y2="253.06" stroke="#3a3a3a" stroke-width="0.6" />
<text x="360.7" y="255.36" font-size="6.6" text-anchor="end">Interstitial gain</text>
<rect x="367.4" y="259.02" width="70.47" height="7.8" fill="#d4d4d4" />
<line x1="364.2" y1="262.92" x2="367.4" y2="262.92" stroke="#3a3a3a" stroke-width="0.6" />
<text x="360.7" y="265.22" font-size="6.6" text-anchor="end">Complex</text>
<rect x="367.4" y="259.02" width="15.55" height="7.8" fill="#7f7f7f" />
<line x1="366.6" y1="267.9" x2="486.9" y2="267.9" stroke="#cfcfcf" stroke-width="1.6" />
<line x1="367.4" y1="188.6" x2="367.4" y2="271" stroke="#3a3a3a" stroke-width="0.8" />
<line x1="367.4" y1="268.5" x2="367.4" y2="271" stroke="#3a3a3a" stroke-width="0.6" />
<text x="367.4" y="279.5" font-size="6.6" text-anchor="middle">0</text>
<line x1="391.7" y1="268.5" x2="391.7" y2="271" stroke="#3a3a3a" stroke-width="0.6" />
<text x="391.7" y="279.5" font-size="6.6" text-anchor="middle">5</text>
<line x1="416" y1="268.5" x2="416" y2="271" stroke="#3a3a3a" stroke-width="0.6" />
<text x="416" y="279.5" font-size="6.6" text-anchor="middle">10</text>
<line x1="440.3" y1="268.5" x2="440.3" y2="271" stroke="#3a3a3a" stroke-width="0.6" />
<text x="440.3" y="279.5" font-size="6.6" text-anchor="middle">15</text>
<line x1="464.6" y1="268.5" x2="464.6" y2="271" stroke="#3a3a3a" stroke-width="0.6" />
<text x="464.6" y="279.5" font-size="6.6" text-anchor="middle">20</text>
<text x="427.3" y="289.7" font-size="6.6" text-anchor="middle">Class percentage over all CAs (<tspan font-style="italic">n</tspan> = 124)</text>
<circle cx="403.3" cy="298.5" r="1.15" fill="#6a6a6a" />
<text x="407.7" y="300.8" font-size="6.6">Chromothripsis</text>
<text x="504.8" y="189" font-size="10.5" font-weight="bold" fill="#000">e</text>
<rect x="565.3" y="190" width="113.75" height="7.8" fill="#d4d4d4" />
<line x1="562.1" y1="193.9" x2="565.3" y2="193.9" stroke="#3a3a3a" stroke-width="0.6" />
<text x="558.9" y="196.2" font-size="6.6" text-anchor="end">Terminal loss</text>
<rect x="565.3" y="199.86" width="85.4" height="7.8" fill="#d4d4d4" />
<line x1="562.1" y1="203.76" x2="565.3" y2="203.76" stroke="#3a3a3a" stroke-width="0.6" />
<text x="558.9" y="206.06" font-size="6.6" text-anchor="end">Terminal gain</text>
<rect x="565.3" y="209.72" width="66.5" height="7.8" fill="#d4d4d4" />
<line x1="562.1" y1="213.62" x2="565.3" y2="213.62" stroke="#3a3a3a" stroke-width="0.6" />
<text x="558.9" y="215.92" font-size="6.6" text-anchor="end">Terminal multi-step</text>
<rect x="565.3" y="219.58" width="57.05" height="7.8" fill="#d4d4d4" />
<line x1="562.1" y1="223.48" x2="565.3" y2="223.48" stroke="#3a3a3a" stroke-width="0.6" />
<text x="558.9" y="225.78" font-size="6.6" text-anchor="end">Chromosome loss</text>
<rect x="565.3" y="229.44" width="9.45" height="7.8" fill="#d4d4d4" />
<line x1="562.1" y1="233.34" x2="565.3" y2="233.34" stroke="#3a3a3a" stroke-width="0.6" />
<text x="558.9" y="235.64" font-size="6.6" text-anchor="end">Chromosome gain</text>
<rect x="565.3" y="239.3" width="9.45" height="7.8" fill="#d4d4d4" />
<line x1="562.1" y1="243.2" x2="565.3" y2="243.2" stroke="#3a3a3a" stroke-width="0.6" />
<text x="558.9" y="245.5" font-size="6.6" text-anchor="end">Interstitial loss</text>
<line x1="562.1" y1="253.06" x2="565.3" y2="253.06" stroke="#3a3a3a" stroke-width="0.6" />
<text x="558.9" y="255.36" font-size="6.6" text-anchor="end">Interstitial gain</text>
<rect x="565.3" y="259.02" width="9.45" height="7.8" fill="#d4d4d4" />
<line x1="562.1" y1="262.92" x2="565.3" y2="262.92" stroke="#3a3a3a" stroke-width="0.6" />
<text x="558.9" y="265.22" font-size="6.6" text-anchor="end">Complex</text>
<line x1="564.5" y1="267.9" x2="685" y2="267.9" stroke="#cfcfcf" stroke-width="1.6" />
<line x1="565.3" y1="188.6" x2="565.3" y2="271" stroke="#3a3a3a" stroke-width="0.8" />
<line x1="565.3" y1="268.5" x2="565.3" y2="271" stroke="#3a3a3a" stroke-width="0.6" />
<text x="565.3" y="279.5" font-size="6.6" text-anchor="middle">0</text>
<line x1="600.3" y1="268.5" x2="600.3" y2="271" stroke="#3a3a3a" stroke-width="0.6" />
<text x="600.3" y="279.5" font-size="6.6" text-anchor="middle">10</text>
<line x1="635.3" y1="268.5" x2="635.3" y2="271" stroke="#3a3a3a" stroke-width="0.6" />
<text x="635.3" y="279.5" font-size="6.6" text-anchor="middle">20</text>
<line x1="670.3" y1="268.5" x2="670.3" y2="271" stroke="#3a3a3a" stroke-width="0.6" />
<text x="670.3" y="279.5" font-size="6.6" text-anchor="middle">30</text>
<text x="625.2" y="289.7" font-size="6.6" text-anchor="middle">Class percentage over all CAs (<tspan font-style="italic">n</tspan> = 37)</text>
<circle cx="602.5" cy="298.5" r="1.15" fill="#6a6a6a" />
<text x="606.9" y="300.8" font-size="6.6">Chromothripsis</text>
<text x="0" y="320.5" font-size="10.5" font-weight="bold" fill="#000">f</text>
<rect x="33.1" y="412.4" width="8.2" height="12.9" fill="#e2bd28" />
<rect x="33.1" y="405.95" width="8.2" height="6.45" fill="#b565c6" />
<rect x="33.1" y="373.7" width="8.2" height="32.25" fill="#1b731b" />
<line x1="37.2" y1="425.3" x2="37.2" y2="428.7" stroke="#3a3a3a" stroke-width="0.7" />
<text x="39.5" y="431.1" font-size="6.6" text-anchor="end" transform="rotate(-90 39.5 431.1)">Chr. 1</text>
<rect x="43.34" y="393.05" width="8.2" height="32.25" fill="#1b731b" />
<line x1="47.45" y1="425.3" x2="47.45" y2="428.7" stroke="#3a3a3a" stroke-width="0.7" />
<text x="49.74" y="431.1" font-size="6.6" text-anchor="end" transform="rotate(-90 49.74 431.1)">Chr. 2</text>
<rect x="53.59" y="405.95" width="8.2" height="19.35" fill="#e2bd28" />
<rect x="53.59" y="399.5" width="8.2" height="6.45" fill="#b565c6" />
<line x1="57.69" y1="425.3" x2="57.69" y2="428.7" stroke="#3a3a3a" stroke-width="0.7" />
<text x="59.99" y="431.1" font-size="6.6" text-anchor="end" transform="rotate(-90 59.99 431.1)">Chr. 3</text>
<rect x="63.84" y="418.85" width="8.2" height="6.45" fill="#b565c6" />
<rect x="63.84" y="373.7" width="8.2" height="45.15" fill="#1b731b" />
<line x1="67.94" y1="425.3" x2="67.94" y2="428.7" stroke="#3a3a3a" stroke-width="0.7" />
<text x="70.23" y="431.1" font-size="6.6" text-anchor="end" transform="rotate(-90 70.23 431.1)">Chr. 4</text>
<rect x="74.08" y="418.85" width="8.2" height="6.45" fill="#e2bd28" />
<rect x="74.08" y="386.6" width="8.2" height="32.25" fill="#1b731b" />
<line x1="78.18" y1="425.3" x2="78.18" y2="428.7" stroke="#3a3a3a" stroke-width="0.7" />
<text x="80.48" y="431.1" font-size="6.6" text-anchor="end" transform="rotate(-90 80.48 431.1)">Chr. 5</text>
<rect x="84.33" y="405.95" width="8.2" height="19.35" fill="#e2bd28" />
<rect x="84.33" y="399.5" width="8.2" height="6.45" fill="#b565c6" />
<rect x="84.33" y="393.05" width="8.2" height="6.45" fill="#1b731b" />
<line x1="88.42" y1="425.3" x2="88.42" y2="428.7" stroke="#3a3a3a" stroke-width="0.7" />
<text x="90.72" y="431.1" font-size="6.6" text-anchor="end" transform="rotate(-90 90.72 431.1)">Chr. 6</text>
<rect x="94.57" y="412.4" width="8.2" height="12.9" fill="#e2bd28" />
<rect x="94.57" y="405.95" width="8.2" height="6.45" fill="#b565c6" />
<rect x="94.57" y="347.9" width="8.2" height="58.05" fill="#1b731b" />
<line x1="98.67" y1="425.3" x2="98.67" y2="428.7" stroke="#3a3a3a" stroke-width="0.7" />
<text x="100.97" y="431.1" font-size="6.6" text-anchor="end" transform="rotate(-90 100.97 431.1)">Chr. 7</text>
<rect x="104.81" y="412.4" width="8.2" height="12.9" fill="#e2bd28" />
<rect x="104.81" y="354.35" width="8.2" height="58.05" fill="#1b731b" />
<line x1="108.91" y1="425.3" x2="108.91" y2="428.7" stroke="#3a3a3a" stroke-width="0.7" />
<text x="111.21" y="431.1" font-size="6.6" text-anchor="end" transform="rotate(-90 111.21 431.1)">Chr. 8</text>
<rect x="115.06" y="418.85" width="8.2" height="6.45" fill="#1b731b" />
<line x1="119.16" y1="425.3" x2="119.16" y2="428.7" stroke="#3a3a3a" stroke-width="0.7" />
<text x="121.46" y="431.1" font-size="6.6" text-anchor="end" transform="rotate(-90 121.46 431.1)">Chr. 9</text>
<rect x="125.31" y="418.85" width="8.2" height="6.45" fill="#e2bd28" />
<rect x="125.31" y="412.4" width="8.2" height="6.45" fill="#b565c6" />
<rect x="125.31" y="399.5" width="8.2" height="12.9" fill="#1b731b" />
<line x1="129.41" y1="425.3" x2="129.41" y2="428.7" stroke="#3a3a3a" stroke-width="0.7" />
<text x="131.71" y="431.1" font-size="6.6" text-anchor="end" transform="rotate(-90 131.71 431.1)">Chr. 10</text>
<rect x="135.55" y="418.85" width="8.2" height="6.45" fill="#b565c6" />
<rect x="135.55" y="412.4" width="8.2" height="6.45" fill="#1b731b" />
<line x1="139.65" y1="425.3" x2="139.65" y2="428.7" stroke="#3a3a3a" stroke-width="0.7" />
<text x="141.95" y="431.1" font-size="6.6" text-anchor="end" transform="rotate(-90 141.95 431.1)">Chr. 11</text>
<rect x="145.79" y="399.5" width="8.2" height="25.8" fill="#e2bd28" />
<rect x="145.79" y="386.6" width="8.2" height="12.9" fill="#b565c6" />
<rect x="145.79" y="380.15" width="8.2" height="6.45" fill="#1b731b" />
<line x1="149.89" y1="425.3" x2="149.89" y2="428.7" stroke="#3a3a3a" stroke-width="0.7" />
<text x="152.19" y="431.1" font-size="6.6" text-anchor="end" transform="rotate(-90 152.19 431.1)">Chr. 12</text>
<rect x="156.04" y="386.6" width="8.2" height="38.7" fill="#1b731b" />
<line x1="160.14" y1="425.3" x2="160.14" y2="428.7" stroke="#3a3a3a" stroke-width="0.7" />
<text x="162.44" y="431.1" font-size="6.6" text-anchor="end" transform="rotate(-90 162.44 431.1)">Chr. 13</text>
<rect x="166.28" y="386.6" width="8.2" height="38.7" fill="#1b731b" />
<line x1="170.38" y1="425.3" x2="170.38" y2="428.7" stroke="#3a3a3a" stroke-width="0.7" />
<text x="172.69" y="431.1" font-size="6.6" text-anchor="end" transform="rotate(-90 172.69 431.1)">Chr. 14</text>
<line x1="180.63" y1="425.3" x2="180.63" y2="428.7" stroke="#3a3a3a" stroke-width="0.7" />
<text x="182.93" y="431.1" font-size="6.6" text-anchor="end" transform="rotate(-90 182.93 431.1)">Chr. 15</text>
<rect x="186.78" y="418.85" width="8.2" height="6.45" fill="#e2bd28" />
<rect x="186.78" y="405.95" width="8.2" height="12.9" fill="#b565c6" />
<rect x="186.78" y="399.5" width="8.2" height="6.45" fill="#1b731b" />
<line x1="190.88" y1="425.3" x2="190.88" y2="428.7" stroke="#3a3a3a" stroke-width="0.7" />
<text x="193.18" y="431.1" font-size="6.6" text-anchor="end" transform="rotate(-90 193.18 431.1)">Chr. 16</text>
<rect x="197.02" y="418.85" width="8.2" height="6.45" fill="#b565c6" />
<rect x="197.02" y="399.5" width="8.2" height="19.35" fill="#1b731b" />
<line x1="201.12" y1="425.3" x2="201.12" y2="428.7" stroke="#3a3a3a" stroke-width="0.7" />
<text x="203.42" y="431.1" font-size="6.6" text-anchor="end" transform="rotate(-90 203.42 431.1)">Chr. 17</text>
<rect x="207.27" y="393.05" width="8.2" height="32.25" fill="#1b731b" />
<line x1="211.37" y1="425.3" x2="211.37" y2="428.7" stroke="#3a3a3a" stroke-width="0.7" />
<text x="213.67" y="431.1" font-size="6.6" text-anchor="end" transform="rotate(-90 213.67 431.1)">Chr. 18</text>
<rect x="217.51" y="380.15" width="8.2" height="45.15" fill="#e2bd28" />
<rect x="217.51" y="367.25" width="8.2" height="12.9" fill="#b565c6" />
<rect x="217.51" y="347.9" width="8.2" height="19.35" fill="#1b731b" />
<line x1="221.61" y1="425.3" x2="221.61" y2="428.7" stroke="#3a3a3a" stroke-width="0.7" />
<text x="223.91" y="431.1" font-size="6.6" text-anchor="end" transform="rotate(-90 223.91 431.1)">Chr. 19</text>
<text x="221.61" y="349" font-size="8.6" text-anchor="middle">*</text>
<rect x="227.75" y="399.5" width="8.2" height="25.8" fill="#b565c6" />
<rect x="227.75" y="393.05" width="8.2" height="6.45" fill="#1b731b" />
<line x1="231.85" y1="425.3" x2="231.85" y2="428.7" stroke="#3a3a3a" stroke-width="0.7" />
<text x="234.15" y="431.1" font-size="6.6" text-anchor="end" transform="rotate(-90 234.15 431.1)">Chr. 20</text>
<line x1="242.1" y1="425.3" x2="242.1" y2="428.7" stroke="#3a3a3a" stroke-width="0.7" />
<text x="244.4" y="431.1" font-size="6.6" text-anchor="end" transform="rotate(-90 244.4 431.1)">Chr. 21</text>
<rect x="248.24" y="418.85" width="8.2" height="6.45" fill="#1b731b" />
<line x1="252.34" y1="425.3" x2="252.34" y2="428.7" stroke="#3a3a3a" stroke-width="0.7" />
<text x="254.64" y="431.1" font-size="6.6" text-anchor="end" transform="rotate(-90 254.64 431.1)">Chr. 22</text>
<rect x="258.49" y="418.85" width="8.2" height="6.45" fill="#e2bd28" />
<rect x="258.49" y="399.5" width="8.2" height="19.35" fill="#b565c6" />
<rect x="258.49" y="373.7" width="8.2" height="25.8" fill="#1b731b" />
<line x1="262.59" y1="425.3" x2="262.59" y2="428.7" stroke="#3a3a3a" stroke-width="0.7" />
<text x="264.89" y="431.1" font-size="6.6" text-anchor="end" transform="rotate(-90 264.89 431.1)">Chr. X</text>
<line x1="32.3" y1="321.8" x2="32.3" y2="425.7" stroke="#3a3a3a" stroke-width="0.9" />
<line x1="32.3" y1="425.3" x2="267.5" y2="425.3" stroke="#3a3a3a" stroke-width="0.8" />
<line x1="29.2" y1="425.3" x2="32.3" y2="425.3" stroke="#3a3a3a" stroke-width="0.6" />
<text x="25.3" y="427.5" font-size="6.2" text-anchor="end">0</text>
<line x1="29.2" y1="412.4" x2="32.3" y2="412.4" stroke="#3a3a3a" stroke-width="0.6" />
<text x="25.3" y="414.6" font-size="6.2" text-anchor="end">2</text>
<line x1="29.2" y1="399.5" x2="32.3" y2="399.5" stroke="#3a3a3a" stroke-width="0.6" />
<text x="25.3" y="401.7" font-size="6.2" text-anchor="end">4</text>
<line x1="29.2" y1="386.6" x2="32.3" y2="386.6" stroke="#3a3a3a" stroke-width="0.6" />
<text x="25.3" y="388.8" font-size="6.2" text-anchor="end">6</text>
<line x1="29.2" y1="373.7" x2="32.3" y2="373.7" stroke="#3a3a3a" stroke-width="0.6" />
<text x="25.3" y="375.9" font-size="6.2" text-anchor="end">8</text>
<line x1="29.2" y1="360.8" x2="32.3" y2="360.8" stroke="#3a3a3a" stroke-width="0.6" />
<text x="25.3" y="363" font-size="6.2" text-anchor="end">10</text>
<line x1="29.2" y1="347.9" x2="32.3" y2="347.9" stroke="#3a3a3a" stroke-width="0.6" />
<text x="25.3" y="350.1" font-size="6.2" text-anchor="end">12</text>
<line x1="29.2" y1="335" x2="32.3" y2="335" stroke="#3a3a3a" stroke-width="0.6" />
<text x="25.3" y="337.2" font-size="6.2" text-anchor="end">14</text>
<line x1="29.2" y1="322.1" x2="32.3" y2="322.1" stroke="#3a3a3a" stroke-width="0.6" />
<text x="25.3" y="324.3" font-size="6.2" text-anchor="end">16</text>
<text x="13.8" y="373.6" font-size="6.6" text-anchor="middle" transform="rotate(-90 13.8 373.6)">Count</text>
<rect x="36.6" y="327.4" width="11.3" height="4" fill="#1b731b" />
<text x="50.8" y="331.5" font-size="6.6">q arm</text>
<rect x="36.6" y="336" width="11.3" height="4" fill="#b565c6" />
<text x="50.8" y="340.1" font-size="6.6">p arm</text>
<rect x="36.6" y="344.6" width="11.3" height="4" fill="#e2bd28" />
<text x="50.8" y="348.7" font-size="6.6">p and q arm</text>
<text x="0.6" y="474.4" font-size="10.5" font-weight="bold" fill="#000">g</text>
<rect x="33.1" y="572.65" width="8.2" height="6.45" fill="#b565c6" />
<rect x="33.1" y="566.2" width="8.2" height="6.45" fill="#1b731b" />
<line x1="37.2" y1="579.1" x2="37.2" y2="582.5" stroke="#3a3a3a" stroke-width="0.7" />
<text x="39.5" y="584.9" font-size="6.6" text-anchor="end" transform="rotate(-90 39.5 584.9)">Chr. 1</text>
<rect x="43.34" y="572.65" width="8.2" height="6.45" fill="#b565c6" />
<rect x="43.34" y="546.85" width="8.2" height="25.8" fill="#1b731b" />
<line x1="47.45" y1="579.1" x2="47.45" y2="582.5" stroke="#3a3a3a" stroke-width="0.7" />
<text x="49.74" y="584.9" font-size="6.6" text-anchor="end" transform="rotate(-90 49.74 584.9)">Chr. 2</text>
<text x="47.45" y="547.95" font-size="8.6" text-anchor="middle">***</text>
<rect x="53.59" y="572.65" width="8.2" height="6.45" fill="#e2bd28" />
<line x1="57.69" y1="579.1" x2="57.69" y2="582.5" stroke="#3a3a3a" stroke-width="0.7" />
<text x="59.99" y="584.9" font-size="6.6" text-anchor="end" transform="rotate(-90 59.99 584.9)">Chr. 3</text>
<rect x="63.84" y="566.2" width="8.2" height="12.9" fill="#1b731b" />
<line x1="67.94" y1="579.1" x2="67.94" y2="582.5" stroke="#3a3a3a" stroke-width="0.7" />
<text x="70.23" y="584.9" font-size="6.6" text-anchor="end" transform="rotate(-90 70.23 584.9)">Chr. 4</text>
<rect x="74.08" y="566.2" width="8.2" height="12.9" fill="#1b731b" />
<line x1="78.18" y1="579.1" x2="78.18" y2="582.5" stroke="#3a3a3a" stroke-width="0.7" />
<text x="80.48" y="584.9" font-size="6.6" text-anchor="end" transform="rotate(-90 80.48 584.9)">Chr. 5</text>
<rect x="84.33" y="566.2" width="8.2" height="12.9" fill="#b565c6" />
<rect x="84.33" y="559.75" width="8.2" height="6.45" fill="#1b731b" />
<line x1="88.42" y1="579.1" x2="88.42" y2="582.5" stroke="#3a3a3a" stroke-width="0.7" />
<text x="90.72" y="584.9" font-size="6.6" text-anchor="end" transform="rotate(-90 90.72 584.9)">Chr. 6</text>
<text x="88.42" y="560.85" font-size="8.6" text-anchor="middle">*</text>
<rect x="94.57" y="566.2" width="8.2" height="12.9" fill="#1b731b" />
<line x1="98.67" y1="579.1" x2="98.67" y2="582.5" stroke="#3a3a3a" stroke-width="0.7" />
<text x="100.97" y="584.9" font-size="6.6" text-anchor="end" transform="rotate(-90 100.97 584.9)">Chr. 7</text>
<rect x="104.81" y="572.65" width="8.2" height="6.45" fill="#1b731b" />
<line x1="108.91" y1="579.1" x2="108.91" y2="582.5" stroke="#3a3a3a" stroke-width="0.7" />
<text x="111.21" y="584.9" font-size="6.6" text-anchor="end" transform="rotate(-90 111.21 584.9)">Chr. 8</text>
<line x1="119.16" y1="579.1" x2="119.16" y2="582.5" stroke="#3a3a3a" stroke-width="0.7" />
<text x="121.46" y="584.9" font-size="6.6" text-anchor="end" transform="rotate(-90 121.46 584.9)">Chr. 9</text>
<rect x="125.31" y="572.65" width="8.2" height="6.45" fill="#e2bd28" />
<rect x="125.31" y="566.2" width="8.2" height="6.45" fill="#b565c6" />
<rect x="125.31" y="533.95" width="8.2" height="32.25" fill="#1b731b" />
<line x1="129.41" y1="579.1" x2="129.41" y2="582.5" stroke="#3a3a3a" stroke-width="0.7" />
<text x="131.71" y="584.9" font-size="6.6" text-anchor="end" transform="rotate(-90 131.71 584.9)">Chr. 10</text>
<text x="129.41" y="535.05" font-size="8.6" text-anchor="middle">***</text>
<rect x="135.55" y="572.65" width="8.2" height="6.45" fill="#1b731b" />
<line x1="139.65" y1="579.1" x2="139.65" y2="582.5" stroke="#3a3a3a" stroke-width="0.7" />
<text x="141.95" y="584.9" font-size="6.6" text-anchor="end" transform="rotate(-90 141.95 584.9)">Chr. 11</text>
<line x1="149.89" y1="579.1" x2="149.89" y2="582.5" stroke="#3a3a3a" stroke-width="0.7" />
<text x="152.19" y="584.9" font-size="6.6" text-anchor="end" transform="rotate(-90 152.19 584.9)">Chr. 12</text>
<line x1="160.14" y1="579.1" x2="160.14" y2="582.5" stroke="#3a3a3a" stroke-width="0.7" />
<text x="162.44" y="584.9" font-size="6.6" text-anchor="end" transform="rotate(-90 162.44 584.9)">Chr. 13</text>
<line x1="170.38" y1="579.1" x2="170.38" y2="582.5" stroke="#3a3a3a" stroke-width="0.7" />
<text x="172.69" y="584.9" font-size="6.6" text-anchor="end" transform="rotate(-90 172.69 584.9)">Chr. 14</text>
<line x1="180.63" y1="579.1" x2="180.63" y2="582.5" stroke="#3a3a3a" stroke-width="0.7" />
<text x="182.93" y="584.9" font-size="6.6" text-anchor="end" transform="rotate(-90 182.93 584.9)">Chr. 15</text>
<line x1="190.88" y1="579.1" x2="190.88" y2="582.5" stroke="#3a3a3a" stroke-width="0.7" />
<text x="193.18" y="584.9" font-size="6.6" text-anchor="end" transform="rotate(-90 193.18 584.9)">Chr. 16</text>
<rect x="197.02" y="572.65" width="8.2" height="6.45" fill="#e2bd28" />
<rect x="197.02" y="566.2" width="8.2" height="6.45" fill="#b565c6" />
<line x1="201.12" y1="579.1" x2="201.12" y2="582.5" stroke="#3a3a3a" stroke-width="0.7" />
<text x="203.42" y="584.9" font-size="6.6" text-anchor="end" transform="rotate(-90 203.42 584.9)">Chr. 17</text>
<line x1="211.37" y1="579.1" x2="211.37" y2="582.5" stroke="#3a3a3a" stroke-width="0.7" />
<text x="213.67" y="584.9" font-size="6.6" text-anchor="end" transform="rotate(-90 213.67 584.9)">Chr. 18</text>
<rect x="217.51" y="566.2" width="8.2" height="12.9" fill="#e2bd28" />
<line x1="221.61" y1="579.1" x2="221.61" y2="582.5" stroke="#3a3a3a" stroke-width="0.7" />
<text x="223.91" y="584.9" font-size="6.6" text-anchor="end" transform="rotate(-90 223.91 584.9)">Chr. 19</text>
<line x1="231.85" y1="579.1" x2="231.85" y2="582.5" stroke="#3a3a3a" stroke-width="0.7" />
<text x="234.15" y="584.9" font-size="6.6" text-anchor="end" transform="rotate(-90 234.15 584.9)">Chr. 20</text>
<line x1="242.1" y1="579.1" x2="242.1" y2="582.5" stroke="#3a3a3a" stroke-width="0.7" />
<text x="244.4" y="584.9" font-size="6.6" text-anchor="end" transform="rotate(-90 244.4 584.9)">Chr. 21</text>
<rect x="248.24" y="572.65" width="8.2" height="6.45" fill="#e2bd28" />
<line x1="252.34" y1="579.1" x2="252.34" y2="582.5" stroke="#3a3a3a" stroke-width="0.7" />
<text x="254.64" y="584.9" font-size="6.6" text-anchor="end" transform="rotate(-90 254.64 584.9)">Chr. 22</text>
<rect x="258.49" y="566.2" width="8.2" height="12.9" fill="#e2bd28" />
<rect x="258.49" y="559.75" width="8.2" height="6.45" fill="#b565c6" />
<rect x="258.49" y="540.4" width="8.2" height="19.35" fill="#1b731b" />
<line x1="262.59" y1="579.1" x2="262.59" y2="582.5" stroke="#3a3a3a" stroke-width="0.7" />
<text x="264.89" y="584.9" font-size="6.6" text-anchor="end" transform="rotate(-90 264.89 584.9)">Chr. X</text>
<text x="262.59" y="541.5" font-size="8.6" text-anchor="middle">***</text>
<line x1="32.3" y1="475.6" x2="32.3" y2="579.5" stroke="#3a3a3a" stroke-width="0.9" />
<line x1="32.3" y1="579.1" x2="267.5" y2="579.1" stroke="#3a3a3a" stroke-width="0.8" />
<line x1="29.2" y1="579.1" x2="32.3" y2="579.1" stroke="#3a3a3a" stroke-width="0.6" />
<text x="25.3" y="581.3" font-size="6.2" text-anchor="end">0</text>
<line x1="29.2" y1="566.2" x2="32.3" y2="566.2" stroke="#3a3a3a" stroke-width="0.6" />
<text x="25.3" y="568.4" font-size="6.2" text-anchor="end">2</text>
<line x1="29.2" y1="553.3" x2="32.3" y2="553.3" stroke="#3a3a3a" stroke-width="0.6" />
<text x="25.3" y="555.5" font-size="6.2" text-anchor="end">4</text>
<line x1="29.2" y1="540.4" x2="32.3" y2="540.4" stroke="#3a3a3a" stroke-width="0.6" />
<text x="25.3" y="542.6" font-size="6.2" text-anchor="end">6</text>
<line x1="29.2" y1="527.5" x2="32.3" y2="527.5" stroke="#3a3a3a" stroke-width="0.6" />
<text x="25.3" y="529.7" font-size="6.2" text-anchor="end">8</text>
<line x1="29.2" y1="514.6" x2="32.3" y2="514.6" stroke="#3a3a3a" stroke-width="0.6" />
<text x="25.3" y="516.8" font-size="6.2" text-anchor="end">10</text>
<line x1="29.2" y1="501.7" x2="32.3" y2="501.7" stroke="#3a3a3a" stroke-width="0.6" />
<text x="25.3" y="503.9" font-size="6.2" text-anchor="end">12</text>
<line x1="29.2" y1="488.8" x2="32.3" y2="488.8" stroke="#3a3a3a" stroke-width="0.6" />
<text x="25.3" y="491" font-size="6.2" text-anchor="end">14</text>
<line x1="29.2" y1="475.9" x2="32.3" y2="475.9" stroke="#3a3a3a" stroke-width="0.6" />
<text x="25.3" y="478.1" font-size="6.2" text-anchor="end">16</text>
<text x="13.8" y="527.4" font-size="6.6" text-anchor="middle" transform="rotate(-90 13.8 527.4)">Count</text>
<rect x="36.6" y="478.4" width="11.3" height="4" fill="#1b731b" />
<text x="50.8" y="482.5" font-size="6.6">q arm</text>
<rect x="36.6" y="487" width="11.3" height="4" fill="#b565c6" />
<text x="50.8" y="491.1" font-size="6.6">p arm</text>
<rect x="36.6" y="495.6" width="11.3" height="4" fill="#e2bd28" />
<text x="50.8" y="499.7" font-size="6.6">p and q arm</text>
<text x="317" y="320.5" font-size="10.5" font-weight="bold" fill="#000">h</text>
<circle cx="343.5" cy="360.2" r="24.1" fill="#fff" stroke="#7db0ae" stroke-width="0.75"/>
<circle cx="324" cy="360.2" r="3.6" fill="url(#ast)" />
<line x1="324" y1="360.2" x2="326.67" y2="360.74" stroke="#f6cf34" stroke-width="0.5" />
<line x1="324" y1="360.2" x2="326.55" y2="362.45" stroke="#f6cf34" stroke-width="0.5" />
<line x1="324" y1="360.2" x2="325.3" y2="364.07" stroke="#f6cf34" stroke-width="0.5" />
<line x1="324" y1="360.2" x2="323.39" y2="363.2" stroke="#f6cf34" stroke-width="0.5" />
<line x1="324" y1="360.2" x2="321.52" y2="363" stroke="#f6cf34" stroke-width="0.5" />
<line x1="324" y1="360.2" x2="321.42" y2="361.06" stroke="#f6cf34" stroke-width="0.5" />
<line x1="324" y1="360.2" x2="320.67" y2="359.52" stroke="#f6cf34" stroke-width="0.5" />
<line x1="324" y1="360.2" x2="320.94" y2="357.5" stroke="#f6cf34" stroke-width="0.5" />
<line x1="324" y1="360.2" x2="323.03" y2="357.3" stroke="#f6cf34" stroke-width="0.5" />
<line x1="324" y1="360.2" x2="324.74" y2="356.53" stroke="#f6cf34" stroke-width="0.5" />
<line x1="324" y1="360.2" x2="325.8" y2="358.16" stroke="#f6cf34" stroke-width="0.5" />
<line x1="324" y1="360.2" x2="327.22" y2="359.12" stroke="#f6cf34" stroke-width="0.5" />
<path d="M324 360.2 Q328.81 355.58 331.22 350.96" stroke="#f6cf34" stroke-width="0.55" fill="none" stroke-linecap="round"/>
<path d="M324 360.2 Q327.58 355.2 328.77 350.2" stroke="#f6cf34" stroke-width="0.55" fill="none" stroke-linecap="round"/>
<path d="M324 360.2 Q326.51 354.51 326.63 348.83" stroke="#f6cf34" stroke-width="0.55" fill="none" stroke-linecap="round"/>
<path d="M324 360.2 Q325.25 354.43 324.1 348.66" stroke="#f6cf34" stroke-width="0.55" fill="none" stroke-linecap="round"/>
<path d="M324 360.2 Q324.26 355.76 322.11 351.32" stroke="#f6cf34" stroke-width="0.55" fill="none" stroke-linecap="round"/>
<path d="M324 360.2 Q328.81 364.82 331.22 369.44" stroke="#f6cf34" stroke-width="0.55" fill="none" stroke-linecap="round"/>
<path d="M324 360.2 Q327.58 365.2 328.77 370.2" stroke="#f6cf34" stroke-width="0.55" fill="none" stroke-linecap="round"/>
<path d="M324 360.2 Q326.51 365.89 326.63 371.57" stroke="#f6cf34" stroke-width="0.55" fill="none" stroke-linecap="round"/>
<path d="M324 360.2 Q325.25 365.97 324.1 371.74" stroke="#f6cf34" stroke-width="0.55" fill="none" stroke-linecap="round"/>
<path d="M324 360.2 Q324.26 364.64 322.11 369.08" stroke="#f6cf34" stroke-width="0.55" fill="none" stroke-linecap="round"/>
<circle cx="363.3" cy="360.2" r="3.6" fill="url(#ast)" />
<line x1="363.3" y1="360.2" x2="365.97" y2="360.74" stroke="#f6cf34" stroke-width="0.5" />
<line x1="363.3" y1="360.2" x2="365.85" y2="362.45" stroke="#f6cf34" stroke-width="0.5" />
<line x1="363.3" y1="360.2" x2="364.6" y2="364.07" stroke="#f6cf34" stroke-width="0.5" />
<line x1="363.3" y1="360.2" x2="362.69" y2="363.2" stroke="#f6cf34" stroke-width="0.5" />
<line x1="363.3" y1="360.2" x2="360.82" y2="363" stroke="#f6cf34" stroke-width="0.5" />
<line x1="363.3" y1="360.2" x2="360.72" y2="361.06" stroke="#f6cf34" stroke-width="0.5" />
<line x1="363.3" y1="360.2" x2="359.97" y2="359.52" stroke="#f6cf34" stroke-width="0.5" />
<line x1="363.3" y1="360.2" x2="360.24" y2="357.5" stroke="#f6cf34" stroke-width="0.5" />
<line x1="363.3" y1="360.2" x2="362.33" y2="357.3" stroke="#f6cf34" stroke-width="0.5" />
<line x1="363.3" y1="360.2" x2="364.04" y2="356.53" stroke="#f6cf34" stroke-width="0.5" />
<line x1="363.3" y1="360.2" x2="365.1" y2="358.16" stroke="#f6cf34" stroke-width="0.5" />
<line x1="363.3" y1="360.2" x2="366.52" y2="359.12" stroke="#f6cf34" stroke-width="0.5" />
<path d="M363.3 360.2 Q358.49 355.58 356.08 350.96" stroke="#f6cf34" stroke-width="0.55" fill="none" stroke-linecap="round"/>
<path d="M363.3 360.2 Q359.72 355.2 358.53 350.2" stroke="#f6cf34" stroke-width="0.55" fill="none" stroke-linecap="round"/>
<path d="M363.3 360.2 Q360.79 354.51 360.67 348.83" stroke="#f6cf34" stroke-width="0.55" fill="none" stroke-linecap="round"/>
<path d="M363.3 360.2 Q362.05 354.43 363.2 348.66" stroke="#f6cf34" stroke-width="0.55" fill="none" stroke-linecap="round"/>
<path d="M363.3 360.2 Q363.04 355.76 365.19 351.32" stroke="#f6cf34" stroke-width="0.55" fill="none" stroke-linecap="round"/>
<path d="M363.3 360.2 Q358.49 364.82 356.08 369.44" stroke="#f6cf34" stroke-width="0.55" fill="none" stroke-linecap="round"/>
<path d="M363.3 360.2 Q359.72 365.2 358.53 370.2" stroke="#f6cf34" stroke-width="0.55" fill="none" stroke-linecap="round"/>
<path d="M363.3 360.2 Q360.79 365.89 360.67 371.57" stroke="#f6cf34" stroke-width="0.55" fill="none" stroke-linecap="round"/>
<path d="M363.3 360.2 Q362.05 365.97 363.2 371.74" stroke="#f6cf34" stroke-width="0.55" fill="none" stroke-linecap="round"/>
<path d="M363.3 360.2 Q363.04 364.64 365.19 369.08" stroke="#f6cf34" stroke-width="0.55" fill="none" stroke-linecap="round"/>
<circle cx="343.7" cy="360.2" r="15.5" fill="url(#nuc)" stroke="#7db0ae" stroke-width="0.7" stroke-dasharray="1.6 1.1"/>
<circle cx="324" cy="360.2" r="2.1" fill="none" stroke="#f6cf34" stroke-width="0.6"/>
<path d="M323.4 359.2 L325 360.2 L323.4 361.2 Z" stroke="none" stroke-width="0.7" fill="#ef8a2a" />
<circle cx="363.3" cy="360.2" r="2.1" fill="none" stroke="#f6cf34" stroke-width="0.6"/>
<path d="M362.7 359.2 L364.3 360.2 L362.7 361.2 Z" stroke="none" stroke-width="0.7" fill="#ef8a2a" />
<g transform="translate(345 351) rotate(-20) scale(0.95)" stroke="#e8904a" stroke-width="1.05" fill="none" stroke-linecap="round"><path d="M-1.8 -3 Q-0.3 -0.5 0 0 Q0.3 -0.5 1.8 -3 M0 0 Q-0.4 1.5 -0.2 3.2 M0 0 Q0.6 1.5 1.4 2.8"/></g>
<g transform="translate(338.2 357.3) rotate(70) scale(0.9)" stroke="#4b5877" stroke-width="1.05" fill="none" stroke-linecap="round"><path d="M-1.9 -3.2 L1.9 3.2 M1.9 -3.2 L-1.9 3.2"/></g>
<g transform="translate(340 365.5) rotate(25) scale(0.95)" stroke="#e8904a" stroke-width="1.05" fill="none" stroke-linecap="round"><path d="M1.5 -3.5 Q0.2 -0.5 0 0 Q-1.6 2 -0.6 3.3 Q0.8 3.5 0.6 1.2 Q0.3 0.2 0 0 M-1.2 -3.2 Q-0.3 -1 0 0"/></g>
<g transform="translate(350.2 363.8) rotate(-15) scale(0.95)" stroke="#4b5877" stroke-width="1.05" fill="none" stroke-linecap="round"><path d="M-1.9 -3.2 L1.9 3.2 M1.9 -3.2 L-1.9 3.2"/></g>
<ellipse cx="413.2" cy="360.2" rx="29.6" ry="24.1" fill="#fff" stroke="#7db0ae" stroke-width="0.75"/>
<circle cx="390.4" cy="360.2" r="3.6" fill="url(#ast)" />
<line x1="390.4" y1="360.2" x2="393.38" y2="360.8" stroke="#f6cf34" stroke-width="0.5" />
<line x1="390.4" y1="360.2" x2="393.25" y2="362.72" stroke="#f6cf34" stroke-width="0.5" />
<line x1="390.4" y1="360.2" x2="391.85" y2="364.52" stroke="#f6cf34" stroke-width="0.5" />
<line x1="390.4" y1="360.2" x2="389.72" y2="363.55" stroke="#f6cf34" stroke-width="0.5" />
<line x1="390.4" y1="360.2" x2="387.63" y2="363.33" stroke="#f6cf34" stroke-width="0.5" />
<line x1="390.4" y1="360.2" x2="387.52" y2="361.17" stroke="#f6cf34" stroke-width="0.5" />
<line x1="390.4" y1="360.2" x2="386.68" y2="359.45" stroke="#f6cf34" stroke-width="0.5" />
<line x1="390.4" y1="360.2" x2="386.98" y2="357.18" stroke="#f6cf34" stroke-width="0.5" />
<line x1="390.4" y1="360.2" x2="389.31" y2="356.96" stroke="#f6cf34" stroke-width="0.5" />
<line x1="390.4" y1="360.2" x2="391.23" y2="356.1" stroke="#f6cf34" stroke-width="0.5" />
<line x1="390.4" y1="360.2" x2="392.41" y2="357.92" stroke="#f6cf34" stroke-width="0.5" />
<line x1="390.4" y1="360.2" x2="394" y2="358.99" stroke="#f6cf34" stroke-width="0.5" />
<path d="M390.4 360.2 Q401.8 342.7 413.2 342.2" stroke="#f6cf34" stroke-width="0.6" fill="none" stroke-linecap="round"/>
<path d="M390.4 360.2 Q401.8 346.85 413.2 346.5" stroke="#f6cf34" stroke-width="0.6" fill="none" stroke-linecap="round"/>
<path d="M390.4 360.2 Q401.8 351.95 413.2 352.7" stroke="#f6cf34" stroke-width="0.6" fill="none" stroke-linecap="round"/>
<path d="M390.4 360.2 Q401.8 357.5 413.2 357.8" stroke="#f6cf34" stroke-width="0.6" fill="none" stroke-linecap="round"/>
<path d="M390.4 360.2 Q401.8 362.55 413.2 363.3" stroke="#f6cf34" stroke-width="0.6" fill="none" stroke-linecap="round"/>
<path d="M390.4 360.2 Q401.8 367.85 413.2 369.5" stroke="#f6cf34" stroke-width="0.6" fill="none" stroke-linecap="round"/>
<path d="M390.4 360.2 Q401.8 373.1 413.2 375" stroke="#f6cf34" stroke-width="0.6" fill="none" stroke-linecap="round"/>
<path d="M390.4 360.2 Q401.8 377.7 413.2 379.2" stroke="#f6cf34" stroke-width="0.6" fill="none" stroke-linecap="round"/>
<path d="M390.4 360.2 Q396.5 345.2 402.6 341.2" stroke="#f6cf34" stroke-width="0.6" fill="none" stroke-linecap="round"/>
<path d="M390.4 360.2 Q397.9 351.35 405.4 349.5" stroke="#f6cf34" stroke-width="0.6" fill="none" stroke-linecap="round"/>
<path d="M390.4 360.2 Q398.1 367.35 405.8 368.5" stroke="#f6cf34" stroke-width="0.6" fill="none" stroke-linecap="round"/>
<circle cx="390.4" cy="360.2" r="2.1" fill="none" stroke="#f6cf34" stroke-width="0.6"/>
<path d="M389.8 359.2 L391.4 360.2 L389.8 361.2 Z" stroke="none" stroke-width="0.7" fill="#ef8a2a" />
<circle cx="436.1" cy="360.2" r="3.6" fill="url(#ast)" />
<line x1="436.1" y1="360.2" x2="439.08" y2="360.8" stroke="#f6cf34" stroke-width="0.5" />
<line x1="436.1" y1="360.2" x2="438.95" y2="362.72" stroke="#f6cf34" stroke-width="0.5" />
<line x1="436.1" y1="360.2" x2="437.55" y2="364.52" stroke="#f6cf34" stroke-width="0.5" />
<line x1="436.1" y1="360.2" x2="435.42" y2="363.55" stroke="#f6cf34" stroke-width="0.5" />
<line x1="436.1" y1="360.2" x2="433.33" y2="363.33" stroke="#f6cf34" stroke-width="0.5" />
<line x1="436.1" y1="360.2" x2="433.22" y2="361.17" stroke="#f6cf34" stroke-width="0.5" />
<line x1="436.1" y1="360.2" x2="432.38" y2="359.45" stroke="#f6cf34" stroke-width="0.5" />
<line x1="436.1" y1="360.2" x2="432.68" y2="357.18" stroke="#f6cf34" stroke-width="0.5" />
<line x1="436.1" y1="360.2" x2="435.01" y2="356.96" stroke="#f6cf34" stroke-width="0.5" />
<line x1="436.1" y1="360.2" x2="436.93" y2="356.1" stroke="#f6cf34" stroke-width="0.5" />
<line x1="436.1" y1="360.2" x2="438.11" y2="357.92" stroke="#f6cf34" stroke-width="0.5" />
<line x1="436.1" y1="360.2" x2="439.7" y2="358.99" stroke="#f6cf34" stroke-width="0.5" />
<path d="M436.1 360.2 Q424.65 342.7 413.2 342.2" stroke="#f6cf34" stroke-width="0.6" fill="none" stroke-linecap="round"/>
<path d="M436.1 360.2 Q424.65 346.85 413.2 346.5" stroke="#f6cf34" stroke-width="0.6" fill="none" stroke-linecap="round"/>
<path d="M436.1 360.2 Q424.65 351.95 413.2 352.7" stroke="#f6cf34" stroke-width="0.6" fill="none" stroke-linecap="round"/>
<path d="M436.1 360.2 Q424.65 357.5 413.2 357.8" stroke="#f6cf34" stroke-width="0.6" fill="none" stroke-linecap="round"/>
<path d="M436.1 360.2 Q424.65 362.55 413.2 363.3" stroke="#f6cf34" stroke-width="0.6" fill="none" stroke-linecap="round"/>
<path d="M436.1 360.2 Q424.65 367.85 413.2 369.5" stroke="#f6cf34" stroke-width="0.6" fill="none" stroke-linecap="round"/>
<path d="M436.1 360.2 Q424.65 373.1 413.2 375" stroke="#f6cf34" stroke-width="0.6" fill="none" stroke-linecap="round"/>
<path d="M436.1 360.2 Q424.65 377.7 413.2 379.2" stroke="#f6cf34" stroke-width="0.6" fill="none" stroke-linecap="round"/>
<path d="M436.1 360.2 Q429.95 345.2 423.8 341.2" stroke="#f6cf34" stroke-width="0.6" fill="none" stroke-linecap="round"/>
<path d="M436.1 360.2 Q428.55 351.35 421 349.5" stroke="#f6cf34" stroke-width="0.6" fill="none" stroke-linecap="round"/>
<path d="M436.1 360.2 Q428.35 367.35 420.6 368.5" stroke="#f6cf34" stroke-width="0.6" fill="none" stroke-linecap="round"/>
<circle cx="436.1" cy="360.2" r="2.1" fill="none" stroke="#f6cf34" stroke-width="0.6"/>
<path d="M435.5 359.2 L437.1 360.2 L435.5 361.2 Z" stroke="none" stroke-width="0.7" fill="#ef8a2a" />
<g transform="translate(413.2 342) rotate(0) scale(1.0)" stroke="#e8904a" stroke-width="1.05" fill="none" stroke-linecap="round"><path d="M-1.9 -3.2 L1.9 3.2 M1.9 -3.2 L-1.9 3.2"/></g>
<g transform="translate(413.2 352.8) rotate(0) scale(1.0)" stroke="#4b5877" stroke-width="1.05" fill="none" stroke-linecap="round"><path d="M-1.9 -3.2 L1.9 3.2 M1.9 -3.2 L-1.9 3.2"/></g>
<g transform="translate(413.2 364.8) rotate(0) scale(0.95)" stroke="#e8904a" stroke-width="1.05" fill="none" stroke-linecap="round"><path d="M1.5 -3.5 Q0.2 -0.5 0 0 Q-1.6 2 -0.6 3.3 Q0.8 3.5 0.6 1.2 Q0.3 0.2 0 0 M-1.2 -3.2 Q-0.3 -1 0 0"/></g>
<g transform="translate(413.2 379) rotate(0) scale(1.0)" stroke="#4b5877" stroke-width="1.05" fill="none" stroke-linecap="round"><path d="M-1.9 -3.2 L1.9 3.2 M1.9 -3.2 L-1.9 3.2"/></g>
<path d="M519.8 360.1 L519.76 361.89 L519.65 363.4 L519.47 364.83 L519.21 366.19 L518.87 367.5 L518.47 368.76 L517.99 369.98 L517.44 371.16 L516.82 372.29 L516.13 373.38 L515.38 374.43 L514.55 375.44 L513.67 376.4 L512.71 377.31 L511.7 378.18 L510.63 378.99 L509.49 379.76 L508.3 380.48 L507.05 381.14 L505.75 381.75 L504.39 382.3 L502.98 382.8 L501.52 383.23 L500.01 383.59 L498.44 383.87 L496.81 384.04 L495.12 384.09 L493.35 384.02 L491.47 383.89 L489.25 383.8 L487.03 383.89 L485.15 384.02 L483.38 384.09 L481.69 384.04 L480.06 383.87 L478.49 383.59 L476.98 383.23 L475.52 382.8 L474.11 382.3 L472.75 381.75 L471.45 381.14 L470.2 380.48 L469.01 379.76 L467.87 378.99 L466.8 378.18 L465.79 377.31 L464.83 376.4 L463.95 375.44 L463.12 374.43 L462.37 373.38 L461.68 372.29 L461.06 371.16 L460.51 369.98 L460.03 368.76 L459.63 367.5 L459.29 366.19 L459.03 364.83 L458.85 363.4 L458.74 361.89 L458.7 360.1 L458.74 358.31 L458.85 356.8 L459.03 355.37 L459.29 354.01 L459.63 352.7 L460.03 351.44 L460.51 350.22 L461.06 349.04 L461.68 347.91 L462.37 346.82 L463.12 345.77 L463.95 344.76 L464.83 343.8 L465.79 342.89 L466.8 342.02 L467.87 341.21 L469.01 340.44 L470.2 339.72 L471.45 339.06 L472.75 338.45 L474.11 337.9 L475.52 337.4 L476.98 336.97 L478.49 336.61 L480.06 336.33 L481.69 336.16 L483.38 336.11 L485.15 336.18 L487.03 336.31 L489.25 336.4 L491.47 336.31 L493.35 336.18 L495.12 336.11 L496.81 336.16 L498.44 336.33 L500.01 336.61 L501.52 336.97 L502.98 337.4 L504.39 337.9 L505.75 338.45 L507.05 339.06 L508.3 339.72 L509.49 340.44 L510.63 341.21 L511.7 342.02 L512.71 342.89 L513.67 343.8 L514.55 344.76 L515.38 345.77 L516.13 346.82 L516.82 347.91 L517.44 349.04 L517.99 350.22 L518.47 351.44 L518.87 352.7 L519.21 354.01 L519.47 355.37 L519.65 356.8 L519.76 358.31 Z" stroke="#7db0ae" stroke-width="0.75" fill="#fff" />
<circle cx="466.2" cy="360.1" r="4.8" fill="url(#ast)" />
<circle cx="466.2" cy="360.1" r="3.6" fill="url(#ast)" />
<line x1="466.2" y1="360.1" x2="469.65" y2="360.8" stroke="#f6cf34" stroke-width="0.5" />
<line x1="466.2" y1="360.1" x2="469.71" y2="362.76" stroke="#f6cf34" stroke-width="0.5" />
<line x1="466.2" y1="360.1" x2="468.61" y2="364.8" stroke="#f6cf34" stroke-width="0.5" />
<line x1="466.2" y1="360.1" x2="466.3" y2="364.06" stroke="#f6cf34" stroke-width="0.5" />
<line x1="466.2" y1="360.1" x2="464.21" y2="364.51" stroke="#f6cf34" stroke-width="0.5" />
<line x1="466.2" y1="360.1" x2="463.5" y2="362.36" stroke="#f6cf34" stroke-width="0.5" />
<line x1="466.2" y1="360.1" x2="461.94" y2="361.18" stroke="#f6cf34" stroke-width="0.5" />
<line x1="466.2" y1="360.1" x2="461.03" y2="359.05" stroke="#f6cf34" stroke-width="0.5" />
<line x1="466.2" y1="360.1" x2="463.04" y2="357.71" stroke="#f6cf34" stroke-width="0.5" />
<line x1="466.2" y1="360.1" x2="463.99" y2="355.79" stroke="#f6cf34" stroke-width="0.5" />
<line x1="466.2" y1="360.1" x2="466.11" y2="356.58" stroke="#f6cf34" stroke-width="0.5" />
<line x1="466.2" y1="360.1" x2="468.01" y2="356.09" stroke="#f6cf34" stroke-width="0.5" />
<line x1="466.2" y1="360.1" x2="470.25" y2="356.71" stroke="#f6cf34" stroke-width="0.5" />
<line x1="466.2" y1="360.1" x2="470.04" y2="359.12" stroke="#f6cf34" stroke-width="0.5" />
<path d="M466.2 360.1 Q473.35 345.55 480.5 342" stroke="#f6cf34" stroke-width="0.6" fill="none" stroke-linecap="round"/>
<path d="M466.2 360.1 Q473.6 353.95 481 353.8" stroke="#f6cf34" stroke-width="0.6" fill="none" stroke-linecap="round"/>
<path d="M466.2 360.1 Q473.4 364.35 480.6 365.6" stroke="#f6cf34" stroke-width="0.6" fill="none" stroke-linecap="round"/>
<path d="M466.2 360.1 Q473.5 373.45 480.8 376.8" stroke="#f6cf34" stroke-width="0.6" fill="none" stroke-linecap="round"/>
<path d="M466.2 360.1 Q470.25 348 474.3 343.9" stroke="#f6cf34" stroke-width="0.6" fill="none" stroke-linecap="round"/>
<path d="M466.2 360.1 Q471.95 351.8 477.7 349.5" stroke="#f6cf34" stroke-width="0.6" fill="none" stroke-linecap="round"/>
<path d="M466.2 360.1 Q472.6 369.15 479 372.2" stroke="#f6cf34" stroke-width="0.6" fill="none" stroke-linecap="round"/>
<path d="M466.2 360.1 Q471.35 367.3 476.5 369.5" stroke="#f6cf34" stroke-width="0.6" fill="none" stroke-linecap="round"/>
<circle cx="466.2" cy="360.1" r="2.1" fill="none" stroke="#f6cf34" stroke-width="0.6"/>
<path d="M465.6 359.1 L467.2 360.1 L465.6 361.1 Z" stroke="none" stroke-width="0.7" fill="#ef8a2a" />
<circle cx="512.2" cy="360.1" r="4.8" fill="url(#ast)" />
<circle cx="512.2" cy="360.1" r="3.6" fill="url(#ast)" />
<line x1="512.2" y1="360.1" x2="515.65" y2="360.8" stroke="#f6cf34" stroke-width="0.5" />
<line x1="512.2" y1="360.1" x2="515.71" y2="362.76" stroke="#f6cf34" stroke-width="0.5" />
<line x1="512.2" y1="360.1" x2="514.61" y2="364.8" stroke="#f6cf34" stroke-width="0.5" />
<line x1="512.2" y1="360.1" x2="512.3" y2="364.06" stroke="#f6cf34" stroke-width="0.5" />
<line x1="512.2" y1="360.1" x2="510.21" y2="364.51" stroke="#f6cf34" stroke-width="0.5" />
<line x1="512.2" y1="360.1" x2="509.5" y2="362.36" stroke="#f6cf34" stroke-width="0.5" />
<line x1="512.2" y1="360.1" x2="507.94" y2="361.18" stroke="#f6cf34" stroke-width="0.5" />
<line x1="512.2" y1="360.1" x2="507.03" y2="359.05" stroke="#f6cf34" stroke-width="0.5" />
<line x1="512.2" y1="360.1" x2="509.04" y2="357.71" stroke="#f6cf34" stroke-width="0.5" />
<line x1="512.2" y1="360.1" x2="509.99" y2="355.79" stroke="#f6cf34" stroke-width="0.5" />
<line x1="512.2" y1="360.1" x2="512.11" y2="356.58" stroke="#f6cf34" stroke-width="0.5" />
<line x1="512.2" y1="360.1" x2="514.01" y2="356.09" stroke="#f6cf34" stroke-width="0.5" />
<line x1="512.2" y1="360.1" x2="516.25" y2="356.71" stroke="#f6cf34" stroke-width="0.5" />
<line x1="512.2" y1="360.1" x2="516.04" y2="359.12" stroke="#f6cf34" stroke-width="0.5" />
<path d="M512.2 360.1 Q505.35 346.3 498.5 343.5" stroke="#f6cf34" stroke-width="0.6" fill="none" stroke-linecap="round"/>
<path d="M512.2 360.1 Q505 354.05 497.8 354" stroke="#f6cf34" stroke-width="0.6" fill="none" stroke-linecap="round"/>
<path d="M512.2 360.1 Q505.35 361.8 498.5 362.5" stroke="#f6cf34" stroke-width="0.6" fill="none" stroke-linecap="round"/>
<path d="M512.2 360.1 Q505.2 373.55 498.2 377" stroke="#f6cf34" stroke-width="0.6" fill="none" stroke-linecap="round"/>
<path d="M512.2 360.1 Q508.15 348 504.1 343.9" stroke="#f6cf34" stroke-width="0.6" fill="none" stroke-linecap="round"/>
<path d="M512.2 360.1 Q506.45 351.8 500.7 349.5" stroke="#f6cf34" stroke-width="0.6" fill="none" stroke-linecap="round"/>
<path d="M512.2 360.1 Q505.8 369.15 499.4 372.2" stroke="#f6cf34" stroke-width="0.6" fill="none" stroke-linecap="round"/>
<path d="M512.2 360.1 Q507.05 367.3 501.9 369.5" stroke="#f6cf34" stroke-width="0.6" fill="none" stroke-linecap="round"/>
<circle cx="512.2" cy="360.1" r="2.1" fill="none" stroke="#f6cf34" stroke-width="0.6"/>
<path d="M511.6 359.1 L513.2 360.1 L511.6 361.1 Z" stroke="none" stroke-width="0.7" fill="#ef8a2a" />
<path d="M481.2 339.5 Q480.2 342.5 482.2 345.5" stroke="#e8904a" stroke-width="0.95" fill="none" stroke-linecap="round"/>
<path d="M497.5 341 Q499.5 344.5 498.5 348" stroke="#e8904a" stroke-width="0.95" fill="none" stroke-linecap="round"/>
<path d="M481.5 350.5 Q480.15 354 481.8 357.5" stroke="#4b5877" stroke-width="0.95" fill="none" stroke-linecap="round"/>
<path d="M497.8 350.5 Q499.2 354 497.6 357.5" stroke="#4b5877" stroke-width="0.95" fill="none" stroke-linecap="round"/>
<path d="M481.5 372.5 Q480.15 376 481.8 379.5" stroke="#4b5877" stroke-width="0.95" fill="none" stroke-linecap="round"/>
<path d="M497.8 373 Q499.2 376.5 497.6 380" stroke="#4b5877" stroke-width="0.95" fill="none" stroke-linecap="round"/>
<path d="M481.0 363.0 Q481.3 366.5 484 366.2 Q492 365 497.6 363.5 Q499 362 497.6 359.0" stroke="#e8904a" stroke-width="0.95" fill="none" stroke-linecap="round"/>
<path d="M585.4 344.8 C580 339 573 335.6 561 335.6 C546 335.6 536.1 347 536.1 360.1 C536.1 373 546 384.6 561 384.6 C573 384.6 580 381.5 585.4 376.3 C590.8 381.5 598 384.6 610 384.6 C625 384.6 635.5 373 635.5 360.1 C635.5 347 625 335.6 610 335.6 C598 335.6 590.8 339 585.4 344.8 Z" stroke="#7db0ae" stroke-width="0.75" fill="#fff" />
<circle cx="541.3" cy="360.1" r="3.6" fill="url(#ast)" />
<line x1="541.3" y1="360.1" x2="543.97" y2="360.64" stroke="#f6cf34" stroke-width="0.5" />
<line x1="541.3" y1="360.1" x2="543.85" y2="362.35" stroke="#f6cf34" stroke-width="0.5" />
<line x1="541.3" y1="360.1" x2="542.6" y2="363.97" stroke="#f6cf34" stroke-width="0.5" />
<line x1="541.3" y1="360.1" x2="540.69" y2="363.1" stroke="#f6cf34" stroke-width="0.5" />
<line x1="541.3" y1="360.1" x2="538.82" y2="362.9" stroke="#f6cf34" stroke-width="0.5" />
<line x1="541.3" y1="360.1" x2="538.72" y2="360.96" stroke="#f6cf34" stroke-width="0.5" />
<line x1="541.3" y1="360.1" x2="537.97" y2="359.42" stroke="#f6cf34" stroke-width="0.5" />
<line x1="541.3" y1="360.1" x2="538.24" y2="357.4" stroke="#f6cf34" stroke-width="0.5" />
<line x1="541.3" y1="360.1" x2="540.33" y2="357.2" stroke="#f6cf34" stroke-width="0.5" />
<line x1="541.3" y1="360.1" x2="542.04" y2="356.43" stroke="#f6cf34" stroke-width="0.5" />
<line x1="541.3" y1="360.1" x2="543.1" y2="358.06" stroke="#f6cf34" stroke-width="0.5" />
<line x1="541.3" y1="360.1" x2="544.52" y2="359.02" stroke="#f6cf34" stroke-width="0.5" />
<path d="M541.3 360.1 Q545.83 355.84 547.96 351.57" stroke="#f6cf34" stroke-width="0.55" fill="none" stroke-linecap="round"/>
<path d="M541.3 360.1 Q544.7 355.49 545.7 350.87" stroke="#f6cf34" stroke-width="0.55" fill="none" stroke-linecap="round"/>
<path d="M541.3 360.1 Q543.71 354.85 543.72 349.6" stroke="#f6cf34" stroke-width="0.55" fill="none" stroke-linecap="round"/>
<path d="M541.3 360.1 Q542.55 354.77 541.39 349.44" stroke="#f6cf34" stroke-width="0.55" fill="none" stroke-linecap="round"/>
<path d="M541.3 360.1 Q541.63 356 539.56 351.91" stroke="#f6cf34" stroke-width="0.55" fill="none" stroke-linecap="round"/>
<path d="M541.3 360.1 Q545.83 364.36 547.96 368.63" stroke="#f6cf34" stroke-width="0.55" fill="none" stroke-linecap="round"/>
<path d="M541.3 360.1 Q544.7 364.71 545.7 369.33" stroke="#f6cf34" stroke-width="0.55" fill="none" stroke-linecap="round"/>
<path d="M541.3 360.1 Q543.71 365.35 543.72 370.6" stroke="#f6cf34" stroke-width="0.55" fill="none" stroke-linecap="round"/>
<path d="M541.3 360.1 Q542.55 365.43 541.39 370.76" stroke="#f6cf34" stroke-width="0.55" fill="none" stroke-linecap="round"/>
<path d="M541.3 360.1 Q541.63 364.2 539.56 368.29" stroke="#f6cf34" stroke-width="0.55" fill="none" stroke-linecap="round"/>
<circle cx="629.9" cy="360.1" r="3.6" fill="url(#ast)" />
<line x1="629.9" y1="360.1" x2="632.57" y2="360.64" stroke="#f6cf34" stroke-width="0.5" />
<line x1="629.9" y1="360.1" x2="632.45" y2="362.35" stroke="#f6cf34" stroke-width="0.5" />
<line x1="629.9" y1="360.1" x2="631.2" y2="363.97" stroke="#f6cf34" stroke-width="0.5" />
<line x1="629.9" y1="360.1" x2="629.29" y2="363.1" stroke="#f6cf34" stroke-width="0.5" />
<line x1="629.9" y1="360.1" x2="627.42" y2="362.9" stroke="#f6cf34" stroke-width="0.5" />
<line x1="629.9" y1="360.1" x2="627.32" y2="360.96" stroke="#f6cf34" stroke-width="0.5" />
<line x1="629.9" y1="360.1" x2="626.57" y2="359.42" stroke="#f6cf34" stroke-width="0.5" />
<line x1="629.9" y1="360.1" x2="626.84" y2="357.4" stroke="#f6cf34" stroke-width="0.5" />
<line x1="629.9" y1="360.1" x2="628.93" y2="357.2" stroke="#f6cf34" stroke-width="0.5" />
<line x1="629.9" y1="360.1" x2="630.64" y2="356.43" stroke="#f6cf34" stroke-width="0.5" />
<line x1="629.9" y1="360.1" x2="631.7" y2="358.06" stroke="#f6cf34" stroke-width="0.5" />
<line x1="629.9" y1="360.1" x2="633.12" y2="359.02" stroke="#f6cf34" stroke-width="0.5" />
<path d="M629.9 360.1 Q625.37 355.84 623.24 351.57" stroke="#f6cf34" stroke-width="0.55" fill="none" stroke-linecap="round"/>
<path d="M629.9 360.1 Q626.5 355.49 625.5 350.87" stroke="#f6cf34" stroke-width="0.55" fill="none" stroke-linecap="round"/>
<path d="M629.9 360.1 Q627.49 354.85 627.48 349.6" stroke="#f6cf34" stroke-width="0.55" fill="none" stroke-linecap="round"/>
<path d="M629.9 360.1 Q628.65 354.77 629.81 349.44" stroke="#f6cf34" stroke-width="0.55" fill="none" stroke-linecap="round"/>
<path d="M629.9 360.1 Q629.57 356 631.64 351.91" stroke="#f6cf34" stroke-width="0.55" fill="none" stroke-linecap="round"/>
<path d="M629.9 360.1 Q625.37 364.36 623.24 368.63" stroke="#f6cf34" stroke-width="0.55" fill="none" stroke-linecap="round"/>
<path d="M629.9 360.1 Q626.5 364.71 625.5 369.33" stroke="#f6cf34" stroke-width="0.55" fill="none" stroke-linecap="round"/>
<path d="M629.9 360.1 Q627.49 365.35 627.48 370.6" stroke="#f6cf34" stroke-width="0.55" fill="none" stroke-linecap="round"/>
<path d="M629.9 360.1 Q628.65 365.43 629.81 370.76" stroke="#f6cf34" stroke-width="0.55" fill="none" stroke-linecap="round"/>
<path d="M629.9 360.1 Q629.57 364.2 631.64 368.29" stroke="#f6cf34" stroke-width="0.55" fill="none" stroke-linecap="round"/>
<circle cx="561.3" cy="359.8" r="15.2" fill="url(#nuc)" stroke="#7db0ae" stroke-width="0.7" stroke-dasharray="1.6 1.1"/>
<circle cx="608.8" cy="359.8" r="15.3" fill="url(#nuc)" stroke="#7db0ae" stroke-width="0.7" stroke-dasharray="1.6 1.1"/>
<circle cx="581.4" cy="350.6" r="3.9" fill="url(#nuc)" stroke="#7db0ae" stroke-width="0.6" stroke-dasharray="1.6 1.1"/>
<circle cx="589.7" cy="369.8" r="3.9" fill="url(#nuc)" stroke="#7db0ae" stroke-width="0.6" stroke-dasharray="1.6 1.1"/>
<circle cx="541.3" cy="360.1" r="2.1" fill="none" stroke="#f6cf34" stroke-width="0.6"/>
<path d="M540.7 359.1 L542.3 360.1 L540.7 361.1 Z" stroke="none" stroke-width="0.7" fill="#ef8a2a" />
<circle cx="629.9" cy="360.1" r="2.1" fill="none" stroke="#f6cf34" stroke-width="0.6"/>
<path d="M629.3 359.1 L630.9 360.1 L629.3 361.1 Z" stroke="none" stroke-width="0.7" fill="#ef8a2a" />
<path d="M556.8 348.5 Q555.65 352 557.5 355.5" stroke="#4b5877" stroke-width="0.95" fill="none" stroke-linecap="round"/>
<path d="M564.5 356.2 Q566.75 357.5 571 358.8" stroke="#e8904a" stroke-width="0.95" fill="none" stroke-linecap="round"/>
<path d="M565 363 Q565.75 365.75 569.5 368.5" stroke="#4b5877" stroke-width="0.95" fill="none" stroke-linecap="round"/>
<path d="M602.5 352 Q600.65 355.25 601.8 358.5" stroke="#4b5877" stroke-width="0.95" fill="none" stroke-linecap="round"/>
<path d="M610.8 349.5 Q612.5 353 611.2 356.5" stroke="#e8904a" stroke-width="0.95" fill="none" stroke-linecap="round"/>
<path d="M615.5 363 Q616 366 613.5 369" stroke="#4b5877" stroke-width="0.95" fill="none" stroke-linecap="round"/>
<path d="M579.8 350.2 Q581.9 350.85 583 351.5" stroke="#e8904a" stroke-width="0.7" fill="none" stroke-linecap="round"/>
<path d="M588.2 368.5 Q590.1 369.75 591 371" stroke="#e8904a" stroke-width="0.7" fill="none" stroke-linecap="round"/>
<text x="319.5" y="432" font-size="10.5" font-weight="bold" fill="#000">i</text>
<rect x="359.2" y="428.2" width="254.1" height="27.2" fill="#fdeadb" />
<rect x="509.8" y="428.2" width="9.4" height="27.2" fill="#fdfbc6" />
<path d="M359.2 441.9 L359.2 436.24 L359.9 436.24 L359.9 435.2 L360.6 435.2 L360.6 436.12 L361.3 436.12 L361.3 434.82 L362 434.82 L362 435.49 L362.7 435.49 L362.7 436.59 L363.4 436.59 L363.4 433.41 L364.1 433.41 L364.1 436.09 L364.8 436.09 L364.8 436.51 L365.5 436.51 L365.5 434.97 L366.2 434.97 L366.2 434.46 L366.9 434.46 L366.9 433.22 L367.6 433.22 L367.6 433.83 L368.3 433.83 L368.3 436.33 L369 436.33 L369 435.6 L369.7 435.6 L369.7 435.85 L370.4 435.85 L370.4 434.11 L371.1 434.11 L371.1 436.08 L371.8 436.08 L371.8 436.14 L372.5 436.14 L372.5 434.63 L373.2 434.63 L373.2 434.92 L373.9 434.92 L373.9 433.85 L374.6 433.85 L374.6 434.78 L375.3 434.78 L375.3 434.57 L376 434.57 L376 435.7 L376.7 435.7 L376.7 435.61 L377.4 435.61 L377.4 434.41 L378.1 434.41 L378.1 434.82 L378.8 434.82 L378.8 434.42 L379.5 434.42 L379.5 435.52 L380.2 435.52 L380.2 434.95 L380.9 434.95 L380.9 435.26 L381.6 435.26 L381.6 435.23 L382.3 435.23 L382.3 436.23 L383 436.23 L383 434.56 L383.7 434.56 L383.7 435.29 L384.4 435.29 L384.4 434.42 L385.1 434.42 L385.1 434.89 L385.8 434.89 L385.8 435.1 L386.5 435.1 L386.5 434.62 L387.2 434.62 L387.2 435.7 L387.9 435.7 L387.9 434.48 L388.6 434.48 L388.6 434.66 L389.3 434.66 L389.3 435.77 L390 435.77 L390 434.67 L390.7 434.67 L390.7 436.45 L391.4 436.45 L391.4 434.9 L392.1 434.9 L392.1 434.14 L392.8 434.14 L392.8 435.96 L393.5 435.96 L393.5 435.41 L394.2 435.41 L394.2 434.62 L394.9 434.62 L394.9 434.96 L395.6 434.96 L395.6 436.05 L396.3 436.05 L396.3 435.44 L397 435.44 L397 436.54 L397.7 436.54 L397.7 434.76 L398.4 434.76 L398.4 434.66 L399.1 434.66 L399.1 435.66 L399.8 435.66 L399.8 434.73 L400.5 434.73 L400.5 435.42 L401.2 435.42 L401.2 433.27 L401.9 433.27 L401.9 433.08 L402.6 433.08 L402.6 435.18 L403.3 435.18 L403.3 435.31 L404 435.31 L404 435.71 L404.7 435.71 L404.7 434.38 L405.4 434.38 L405.4 435.32 L406.1 435.32 L406.1 436.29 L406.8 436.29 L406.8 433.87 L407.5 433.87 L407.5 435.89 L408.2 435.89 L408.2 436.12 L408.9 436.12 L408.9 436.2 L409.6 436.2 L409.6 435.04 L410.3 435.04 L410.3 436.5 L411 436.5 L411 434.68 L411.7 434.68 L411.7 433.75 L412.4 433.75 L412.4 436.46 L413.1 436.46 L413.1 436.21 L413.8 436.21 L413.8 436.04 L414.5 436.04 L414.5 434.98 L415.2 434.98 L415.2 435.92 L415.9 435.92 L415.9 435.95 L416.6 435.95 L416.6 435.39 L417.3 435.39 L417.3 436.38 L418 436.38 L418 435.48 L418.7 435.48 L418.7 434.47 L419.4 434.47 L419.4 435.06 L420.1 435.06 L420.1 433.41 L420.8 433.41 L420.8 434.45 L421.5 434.45 L421.5 435.9 L422.2 435.9 L422.2 436.19 L422.9 436.19 L422.9 434.81 L423.6 434.81 L423.6 435.61 L424.3 435.61 L424.3 436.56 L425 436.56 L425 435.63 L425.7 435.63 L425.7 435.74 L426.4 435.74 L426.4 435.06 L427.1 435.06 L427.1 436.06 L427.8 436.06 L427.8 434.8 L428.5 434.8 L428.5 435.6 L429.2 435.6 L429.2 435.75 L429.9 435.75 L429.9 435.21 L430.6 435.21 L430.6 436.41 L431.3 436.41 L431.3 435.52 L432 435.52 L432 434.64 L432.7 434.64 L432.7 435.22 L433.4 435.22 L433.4 435.13 L434.1 435.13 L434.1 435.06 L434.8 435.06 L434.8 436.06 L435.5 436.06 L435.5 435.75 L436.2 435.75 L436.2 434.79 L436.9 434.79 L436.9 433.67 L437.6 433.67 L437.6 435.91 L438.3 435.91 L438.3 436.28 L439 436.28 L439 436.43 L439.7 436.43 L439.7 434.52 L440.4 434.52 L440.4 433.29 L441.1 433.29 L441.1 435.05 L441.8 435.05 L441.8 435.86 L442.5 435.86 L442.5 435.1 L443.2 435.1 L443.2 434.51 L443.9 434.51 L443.9 436.04 L444.6 436.04 L444.6 436.26 L445.3 436.26 L445.3 436.16 L446 436.16 L446 435.99 L446.7 435.99 L446.7 434.53 L447.4 434.53 L447.4 435.64 L448.1 435.64 L448.1 435.98 L448.8 435.98 L448.8 435.75 L449.5 435.75 L449.5 436.19 L450.2 436.19 L450.2 436.52 L450.9 436.52 L450.9 434.54 L451.6 434.54 L451.6 436.56 L452.3 436.56 L452.3 436.51 L453 436.51 L453 435.06 L453.7 435.06 L453.7 436.58 L454.4 436.58 L454.4 436.39 L455.1 436.39 L455.1 435.6 L455.8 435.6 L455.8 433.89 L456.5 433.89 L456.5 434.79 L457.2 434.79 L457.2 436.49 L457.9 436.49 L457.9 435.71 L458.6 435.71 L458.6 436.1 L459.3 436.1 L459.3 434.74 L460 434.74 L460 433.26 L460.7 433.26 L460.7 436.42 L461.4 436.42 L461.4 434.96 L462.1 434.96 L462.1 434.23 L462.8 434.23 L462.8 435.27 L463.5 435.27 L463.5 435.56 L464.2 435.56 L464.2 435.86 L464.9 435.86 L464.9 435.82 L465.6 435.82 L465.6 435.22 L466.3 435.22 L466.3 435.22 L467 435.22 L467 435.11 L467.7 435.11 L467.7 435.92 L468.4 435.92 L468.4 435.51 L469.1 435.51 L469.1 434.91 L469.8 434.91 L469.8 434.55 L470.5 434.55 L470.5 435.7 L471.2 435.7 L471.2 435 L471.9 435 L471.9 436.43 L472.6 436.43 L472.6 435.28 L473.3 435.28 L473.3 435.43 L474 435.43 L474 436.22 L474.7 436.22 L474.7 435.51 L475.4 435.51 L475.4 434.73 L476.1 434.73 L476.1 434.61 L476.8 434.61 L476.8 436.12 L477.5 436.12 L477.5 434.61 L478.2 434.61 L478.2 434.6 L478.9 434.6 L478.9 435.74 L479.6 435.74 L479.6 434.54 L480.3 434.54 L480.3 436.58 L481 436.58 L481 435.25 L481.7 435.25 L481.7 434.94 L482.4 434.94 L482.4 436.24 L483.1 436.24 L483.1 435.42 L483.8 435.42 L483.8 436.14 L484.5 436.14 L484.5 435.38 L485.2 435.38 L485.2 434.97 L485.9 434.97 L485.9 434.83 L486.6 434.83 L486.6 436.21 L487.3 436.21 L487.3 434.81 L488 434.81 L488 435.3 L488.7 435.3 L488.7 433.73 L489.4 433.73 L489.4 433.91 L490.1 433.91 L490.1 435.45 L490.8 435.45 L490.8 434.89 L491.5 434.89 L491.5 435.67 L492.2 435.67 L492.2 434.9 L492.9 434.9 L492.9 435.17 L493.6 435.17 L493.6 435.65 L494.3 435.65 L494.3 435.52 L495 435.52 L495 435.42 L495.7 435.42 L495.7 436.52 L496.4 436.52 L496.4 435.31 L497.1 435.31 L497.1 434.98 L497.8 434.98 L497.8 434.41 L498.5 434.41 L498.5 434.14 L499.2 434.14 L499.2 435.32 L499.9 435.32 L499.9 434.41 L500.6 434.41 L500.6 436.1 L501.3 436.1 L501.3 434.81 L502 434.81 L502 436.48 L502.7 436.48 L502.7 434.78 L503.4 434.78 L503.4 435.58 L504.1 435.58 L504.1 435.22 L504.8 435.22 L504.8 435.08 L505.5 435.08 L505.5 434.95 L506.2 434.95 L506.2 436.05 L506.9 436.05 L506.9 434.86 L507.6 434.86 L507.6 436.16 L508.3 436.16 L508.3 433.9 L509 433.9 L509 433.21 L509.7 433.21 L509.7 436.02 L510.4 436.02 L510.4 435.95 L511.1 435.95 L511.1 436.14 L511.8 436.14 L511.8 435.03 L512.5 435.03 L512.5 435.09 L513.2 435.09 L513.2 435.17 L513.9 435.17 L513.9 436.04 L514.6 436.04 L514.6 435.07 L515.3 435.07 L515.3 436.33 L516 436.33 L516 433.42 L516.7 433.42 L516.7 435.29 L517.4 435.29 L517.4 435.5 L518.1 435.5 L518.1 435.78 L518.8 435.78 L518.8 435.2 L519.5 435.2 L519.5 435.84 L520.2 435.84 L520.2 435.2 L520.9 435.2 L520.9 435.47 L521.6 435.47 L521.6 433.32 L522.3 433.32 L522.3 435.6 L523 435.6 L523 435.31 L523.7 435.31 L523.7 436.41 L524.4 436.41 L524.4 436.24 L525.1 436.24 L525.1 435.88 L525.8 435.88 L525.8 435.68 L526.5 435.68 L526.5 436.27 L527.2 436.27 L527.2 434.74 L527.9 434.74 L527.9 436.35 L528.6 436.35 L528.6 436.35 L529.3 436.35 L529.3 434.93 L530 434.93 L530 435.06 L530.7 435.06 L530.7 436.41 L531.4 436.41 L531.4 434.79 L532.1 434.79 L532.1 435.33 L532.8 435.33 L532.8 435.46 L533.5 435.46 L533.5 436.58 L534.2 436.58 L534.2 435.9 L534.9 435.9 L534.9 435.81 L535.6 435.81 L535.6 436.52 L536.3 436.52 L536.3 434.64 L537 434.64 L537 435.32 L537.7 435.32 L537.7 432.25 L538.4 432.25 L538.4 434.89 L539.1 434.89 L539.1 435.43 L539.8 435.43 L539.8 435.85 L540.5 435.85 L540.5 435.16 L541.2 435.16 L541.2 434.15 L541.9 434.15 L541.9 436.4 L542.6 436.4 L542.6 434.86 L543.3 434.86 L543.3 436.27 L544 436.27 L544 436.35 L544.7 436.35 L544.7 435.63 L545.4 435.63 L545.4 435.78 L546.1 435.78 L546.1 435.66 L546.8 435.66 L546.8 435.22 L547.5 435.22 L547.5 435.38 L548.2 435.38 L548.2 436.16 L548.9 436.16 L548.9 435.93 L549.6 435.93 L549.6 436.19 L550.3 436.19 L550.3 435.66 L551 435.66 L551 436.53 L551.7 436.53 L551.7 434.69 L552.4 434.69 L552.4 435.13 L553.1 435.13 L553.1 435.17 L553.8 435.17 L553.8 434.98 L554.5 434.98 L554.5 435.77 L555.2 435.77 L555.2 435.29 L555.9 435.29 L555.9 435.08 L556.6 435.08 L556.6 435.88 L557.3 435.88 L557.3 433.11 L558 433.11 L558 434.9 L558.7 434.9 L558.7 434.48 L559.4 434.48 L559.4 436.06 L560.1 436.06 L560.1 435.88 L560.8 435.88 L560.8 434.45 L561.5 434.45 L561.5 435.73 L562.2 435.73 L562.2 436 L562.9 436 L562.9 434.85 L563.6 434.85 L563.6 434.96 L564.3 434.96 L564.3 434.68 L565 434.68 L565 434.79 L565.7 434.79 L565.7 435.5 L566.4 435.5 L566.4 435.47 L567.1 435.47 L567.1 435.16 L567.8 435.16 L567.8 435.14 L568.5 435.14 L568.5 436.32 L569.2 436.32 L569.2 436.08 L569.9 436.08 L569.9 435.6 L570.6 435.6 L570.6 436.49 L571.3 436.49 L571.3 436.36 L572 436.36 L572 435.95 L572.7 435.95 L572.7 435.03 L573.4 435.03 L573.4 435.74 L574.1 435.74 L574.1 436.35 L574.8 436.35 L574.8 435.06 L575.5 435.06 L575.5 434.45 L576.2 434.45 L576.2 435.22 L576.9 435.22 L576.9 435.06 L577.6 435.06 L577.6 436.3 L578.3 436.3 L578.3 434.54 L579 434.54 L579 435.21 L579.7 435.21 L579.7 435.99 L580.4 435.99 L580.4 436.59 L581.1 436.59 L581.1 436.23 L581.8 436.23 L581.8 434.2 L582.5 434.2 L582.5 436.22 L583.2 436.22 L583.2 435.38 L583.9 435.38 L583.9 434.74 L584.6 434.74 L584.6 436.23 L585.3 436.23 L585.3 436.39 L586 436.39 L586 435.92 L586.7 435.92 L586.7 436.12 L587.4 436.12 L587.4 434.86 L588.1 434.86 L588.1 434.96 L588.8 434.96 L588.8 436.06 L589.5 436.06 L589.5 435.93 L590.2 435.93 L590.2 434.68 L590.9 434.68 L590.9 436.42 L591.6 436.42 L591.6 434.58 L592.3 434.58 L592.3 435.08 L593 435.08 L593 436.19 L593.7 436.19 L593.7 434.44 L594.4 434.44 L594.4 432.88 L595.1 432.88 L595.1 435.53 L595.8 435.53 L595.8 436.23 L596.5 436.23 L596.5 436.33 L597.2 436.33 L597.2 434.27 L597.9 434.27 L597.9 436.29 L598.6 436.29 L598.6 432.93 L599.3 432.93 L599.3 434.48 L600 434.48 L600 435.34 L600.7 435.34 L600.7 435.27 L601.4 435.27 L601.4 435.63 L602.1 435.63 L602.1 436.19 L602.8 436.19 L602.8 434.92 L603.5 434.92 L603.5 436.45 L604.2 436.45 L604.2 436.25 L604.9 436.25 L604.9 435.91 L605.6 435.91 L605.6 435.82 L606.3 435.82 L606.3 436.34 L607 436.34 L607 436 L607.7 436 L607.7 436.07 L608.4 436.07 L608.4 435.96 L609.1 435.96 L609.1 435.15 L609.8 435.15 L609.8 434.9 L610.5 434.9 L610.5 435.91 L611.2 435.91 L611.2 434.96 L611.9 434.96 L611.9 434.94 L612.6 434.94 L612.6 434.56 L613.3 434.56 L613.3 441.9 Z" stroke="none" stroke-width="0.7" fill="#f0a262" />
<path d="M410.8 441.9 L410.8 445.77 L411.3 445.77 L411.3 445.38 L411.8 445.38 L411.8 444.2 L412.3 444.2 L412.3 444.66 L412.8 444.66 L412.8 445.09 L413.2 445.09 L413.2 441.9 Z" stroke="none" stroke-width="0.7" fill="#5f8a86" />
<path d="M510.5 441.9 L510.5 443.26 L511 443.26 L511 444.1 L511.5 444.1 L511.5 443.78 L512 443.78 L512 443.32 L512.5 443.32 L512.5 443.2 L513 443.2 L513 443.87 L513.5 443.87 L513.5 443.67 L514 443.67 L514 443.98 L514.5 443.98 L514.5 443.51 L515 443.51 L515 443.85 L515.5 443.85 L515.5 443.27 L516 443.27 L516 444.38 L516.5 444.38 L516.5 443.43 L517 443.43 L517 443.83 L517.5 443.83 L517.5 444.19 L518 444.19 L518 441.9 Z" stroke="none" stroke-width="0.7" fill="#5f8a86" />
<path d="M534 441.9 L534 445.24 L534.5 445.24 L534.5 444.68 L535 444.68 L535 443.58 L535.2 443.58 L535.2 441.9 Z" stroke="none" stroke-width="0.7" fill="#5f8a86" />
<path d="M546.5 441.9 L546.5 443.07 L547 443.07 L547 445.16 L547.5 445.16 L547.5 443.68 L548 443.68 L548 442.87 L548.5 442.87 L548.5 443.51 L549 443.51 L549 441.9 Z" stroke="none" stroke-width="0.7" fill="#5f8a86" />
<path d="M551 441.9 L551 443.6 L551.5 443.6 L551.5 443.41 L552 443.41 L552 443.49 L552.5 443.49 L552.5 443.81 L553 443.81 L553 443.28 L553.5 443.28 L553.5 443.41 L554 443.41 L554 443.18 L554.5 443.18 L554.5 443.76 L555 443.76 L555 442.95 L555.5 442.95 L555.5 443.46 L556 443.46 L556 441.9 Z" stroke="none" stroke-width="0.7" fill="#5f8a86" />
<path d="M561 441.9 L561 443.19 L561.5 443.19 L561.5 443.12 L562 443.12 L562 442.97 L562.5 442.97 L562.5 442.94 L563 442.94 L563 441.9 Z" stroke="none" stroke-width="0.7" fill="#5f8a86" />
<path d="M570.6 441.9 L570.6 445.03 L571.1 445.03 L571.1 445.16 L571.6 445.16 L571.6 445.64 L572.1 445.64 L572.1 445.43 L572.2 445.43 L572.2 441.9 Z" stroke="none" stroke-width="0.7" fill="#5f8a86" />
<path d="M452 441.9 L452 443.2 L452.5 443.2 L452.5 443.22 L453 443.22 L453 441.9 Z" stroke="none" stroke-width="0.7" fill="#5f8a86" />
<path d="M487 441.9 L487 442.92 L487.5 442.92 L487.5 442.79 L488 442.79 L488 441.9 Z" stroke="none" stroke-width="0.7" fill="#5f8a86" />
<path d="M525 441.9 L525 442.93 L525.5 442.93 L525.5 443 L526 443 L526 441.9 Z" stroke="none" stroke-width="0.7" fill="#5f8a86" />
<path d="M590 441.9 L590 443.15 L590.5 443.15 L590.5 443.21 L591 443.21 L591 441.9 Z" stroke="none" stroke-width="0.7" fill="#5f8a86" />
<path d="M440 441.9 L440 442.83 L440.5 442.83 L440.5 442.54 L441 442.54 L441 441.9 Z" stroke="none" stroke-width="0.7" fill="#5f8a86" />
<path d="M470 441.9 L470 443.07 L470.5 443.07 L470.5 442.88 L471 442.88 L471 441.9 Z" stroke="none" stroke-width="0.7" fill="#5f8a86" />
<line x1="359.2" y1="438.5" x2="613.3" y2="438.5" stroke="#a08870" stroke-width="0.6" stroke-dasharray="0.7 1.45"/>
<line x1="359.2" y1="445.4" x2="613.3" y2="445.4" stroke="#8a8a8a" stroke-width="0.6" stroke-dasharray="0.7 1.45"/>
<line x1="359.2" y1="442" x2="613.3" y2="442" stroke="#4a3222" stroke-width="0.8" />
<line x1="359.2" y1="455.3" x2="613.3" y2="455.3" stroke="#a8a8a8" stroke-width="0.9" />
<line x1="359.2" y1="428.2" x2="359.2" y2="455.8" stroke="#555" stroke-width="0.8" />
<text x="354.4" y="444" font-size="6.6" text-anchor="end">Sister A</text>
<rect x="359.2" y="469" width="52.8" height="26.4" fill="#dde5e4" />
<rect x="412" y="469" width="163" height="26.4" fill="#fdfbc6" />
<rect x="575" y="469" width="38.3" height="26.4" fill="#dde5e4" />
<line x1="359.2" y1="479.2" x2="613.3" y2="479.2" stroke="#8a8a8a" stroke-width="0.6" stroke-dasharray="0.7 1.45"/>
<path d="M412 482.4 L412 478.88 L412.6 478.88 L412.6 480.75 L413.2 480.75 L413.2 479 L413.8 479 L413.8 480.11 L414.4 480.11 L414.4 480.34 L415 480.34 L415 480.16 L415.6 480.16 L415.6 478.94 L416.2 478.94 L416.2 478.95 L416.8 478.95 L416.8 480.7 L417.4 480.7 L417.4 479.62 L418 479.62 L418 480.42 L418.6 480.42 L418.6 479.63 L419.2 479.63 L419.2 479.25 L419.8 479.25 L419.8 479.67 L420.4 479.67 L420.4 479.58 L421 479.58 L421 478.89 L421.6 478.89 L421.6 479.24 L422.2 479.24 L422.2 479.5 L422.8 479.5 L422.8 479.15 L423.4 479.15 L423.4 479.26 L424 479.26 L424 480.74 L424.6 480.74 L424.6 479.79 L425.2 479.79 L425.2 479.98 L425.8 479.98 L425.8 478.97 L426.4 478.97 L426.4 480.05 L427 480.05 L427 480.21 L427.6 480.21 L427.6 479.71 L428.2 479.71 L428.2 479.45 L428.8 479.45 L428.8 480.62 L429.4 480.62 L429.4 480.09 L430 480.09 L430 479.99 L430.6 479.99 L430.6 478.9 L431.2 478.9 L431.2 478.03 L431.8 478.03 L431.8 480.46 L432.4 480.46 L432.4 480.1 L433 480.1 L433 480.09 L433.6 480.09 L433.6 480.73 L434.2 480.73 L434.2 479.21 L434.8 479.21 L434.8 480.4 L435.4 480.4 L435.4 480.7 L436 480.7 L436 479.14 L436.6 479.14 L436.6 479.88 L437.2 479.88 L437.2 479.8 L437.8 479.8 L437.8 479.63 L438.4 479.63 L438.4 479.31 L439 479.31 L439 479.35 L439.6 479.35 L439.6 480.09 L440.2 480.09 L440.2 479.16 L440.8 479.16 L440.8 477.81 L441.4 477.81 L441.4 479.53 L442 479.53 L442 480.46 L442.6 480.46 L442.6 479.93 L443.2 479.93 L443.2 480.72 L443.8 480.72 L443.8 479.62 L444.4 479.62 L444.4 480.29 L445 480.29 L445 480.44 L445.6 480.44 L445.6 480.61 L446.2 480.61 L446.2 480.38 L446.8 480.38 L446.8 479.33 L447.4 479.33 L447.4 478.3 L448 478.3 L448 478.66 L448.6 478.66 L448.6 479.82 L449.2 479.82 L449.2 479.3 L449.8 479.3 L449.8 479.87 L450.4 479.87 L450.4 480.34 L451 480.34 L451 480.67 L451.6 480.67 L451.6 480.48 L452.2 480.48 L452.2 478.41 L452.8 478.41 L452.8 478.52 L453.4 478.52 L453.4 480.74 L454 480.74 L454 480.79 L454.6 480.79 L454.6 478.83 L455.2 478.83 L455.2 480.33 L455.8 480.33 L455.8 480.52 L456.4 480.52 L456.4 479.07 L457 479.07 L457 480.78 L457.6 480.78 L457.6 479.52 L458.2 479.52 L458.2 479.19 L458.8 479.19 L458.8 479.7 L459.4 479.7 L459.4 479.1 L460 479.1 L460 480.42 L460.6 480.42 L460.6 480.48 L461.2 480.48 L461.2 479.78 L461.8 479.78 L461.8 479.17 L462.4 479.17 L462.4 480.42 L463 480.42 L463 479.05 L463.6 479.05 L463.6 480.03 L464.2 480.03 L464.2 480.41 L464.8 480.41 L464.8 480.7 L465.4 480.7 L465.4 480.33 L466 480.33 L466 478.86 L466.6 478.86 L466.6 479.68 L467.2 479.68 L467.2 479.6 L467.8 479.6 L467.8 477.18 L468.4 477.18 L468.4 479.43 L469 479.43 L469 479 L469.6 479 L469.6 480.44 L470.2 480.44 L470.2 478.92 L470.8 478.92 L470.8 479.98 L471.4 479.98 L471.4 479.32 L472 479.32 L472 478.86 L472.6 478.86 L472.6 479.35 L473.2 479.35 L473.2 479.2 L473.8 479.2 L473.8 480.16 L474.4 480.16 L474.4 478.29 L475 478.29 L475 479.51 L475.6 479.51 L475.6 480.59 L476.2 480.59 L476.2 480.14 L476.8 480.14 L476.8 479.85 L477.4 479.85 L477.4 480.09 L478 480.09 L478 480.19 L478.6 480.19 L478.6 479.04 L479.2 479.04 L479.2 477.96 L479.8 477.96 L479.8 479.77 L480.4 479.77 L480.4 480.54 L481 480.54 L481 480.07 L481.6 480.07 L481.6 478.81 L482.2 478.81 L482.2 480.57 L482.8 480.57 L482.8 479.2 L483.4 479.2 L483.4 480.66 L484 480.66 L484 480.04 L484.6 480.04 L484.6 479.63 L485.2 479.63 L485.2 478.03 L485.8 478.03 L485.8 479.18 L486.4 479.18 L486.4 480.08 L487 480.08 L487 480.44 L487.6 480.44 L487.6 479.89 L488.2 479.89 L488.2 480.37 L488.8 480.37 L488.8 479.53 L489.4 479.53 L489.4 480.76 L490 480.76 L490 479.63 L490.6 479.63 L490.6 480.32 L491.2 480.32 L491.2 478.93 L491.8 478.93 L491.8 480 L492.4 480 L492.4 480.45 L493 480.45 L493 478.96 L493.6 478.96 L493.6 479.15 L494.2 479.15 L494.2 479.06 L494.8 479.06 L494.8 480.35 L495.4 480.35 L495.4 479.44 L496 479.44 L496 479.6 L496.6 479.6 L496.6 479.69 L497.2 479.69 L497.2 479.2 L497.8 479.2 L497.8 478.84 L498.4 478.84 L498.4 480.34 L499 480.34 L499 480.54 L499.6 480.54 L499.6 480.71 L500.2 480.71 L500.2 480.18 L500.8 480.18 L500.8 480.55 L501.4 480.55 L501.4 479.37 L502 479.37 L502 480.54 L502.6 480.54 L502.6 479.5 L503.2 479.5 L503.2 480.78 L503.8 480.78 L503.8 479.18 L504.4 479.18 L504.4 478.92 L505 478.92 L505 479.66 L505.6 479.66 L505.6 479.85 L506.2 479.85 L506.2 480.63 L506.8 480.63 L506.8 480.29 L507.4 480.29 L507.4 479.9 L508 479.9 L508 479.64 L508.6 479.64 L508.6 480.44 L509.2 480.44 L509.2 480.55 L509.8 480.55 L509.8 479.15 L510.4 479.15 L510.4 478.95 L511 478.95 L511 480.13 L511.6 480.13 L511.6 479.34 L512.2 479.34 L512.2 479.19 L512.8 479.19 L512.8 480.72 L513.4 480.72 L513.4 479.68 L514 479.68 L514 478.99 L514.6 478.99 L514.6 479.78 L515.2 479.78 L515.2 479.42 L515.8 479.42 L515.8 480.48 L516.4 480.48 L516.4 478.96 L517 478.96 L517 478.67 L517.6 478.67 L517.6 479.09 L518.2 479.09 L518.2 480.22 L518.8 480.22 L518.8 479.21 L519.4 479.21 L519.4 480.24 L520 480.24 L520 480.72 L520.6 480.72 L520.6 480.17 L521.2 480.17 L521.2 479.89 L521.8 479.89 L521.8 480.19 L522.4 480.19 L522.4 479.28 L523 479.28 L523 479.54 L523.6 479.54 L523.6 479.47 L524.2 479.47 L524.2 479.03 L524.8 479.03 L524.8 480.36 L525.4 480.36 L525.4 478.04 L526 478.04 L526 480.24 L526.6 480.24 L526.6 477.35 L527.2 477.35 L527.2 479.18 L527.8 479.18 L527.8 479.03 L528.4 479.03 L528.4 480.75 L529 480.75 L529 480.18 L529.6 480.18 L529.6 478.37 L530.2 478.37 L530.2 480.58 L530.8 480.58 L530.8 480.1 L531.4 480.1 L531.4 480.5 L532 480.5 L532 480.32 L532.6 480.32 L532.6 479.84 L533.2 479.84 L533.2 479.27 L533.8 479.27 L533.8 479.64 L534.4 479.64 L534.4 480.33 L535 480.33 L535 480.09 L535.6 480.09 L535.6 479.58 L536.2 479.58 L536.2 480.01 L536.8 480.01 L536.8 480.4 L537.4 480.4 L537.4 480.49 L538 480.49 L538 478.88 L538.6 478.88 L538.6 479.27 L539.2 479.27 L539.2 478.71 L539.8 478.71 L539.8 477.68 L540.4 477.68 L540.4 479.43 L541 479.43 L541 479.83 L541.6 479.83 L541.6 478.63 L542.2 478.63 L542.2 480.32 L542.8 480.32 L542.8 480.71 L543.4 480.71 L543.4 480.69 L544 480.69 L544 480.33 L544.6 480.33 L544.6 479.79 L545.2 479.79 L545.2 480.55 L545.8 480.55 L545.8 479.45 L546.4 479.45 L546.4 479.78 L547 479.78 L547 480.75 L547.6 480.75 L547.6 479.2 L548.2 479.2 L548.2 480.59 L548.8 480.59 L548.8 478.89 L549.4 478.89 L549.4 479.8 L550 479.8 L550 480.02 L550.6 480.02 L550.6 478.61 L551.2 478.61 L551.2 479.6 L551.8 479.6 L551.8 479.08 L552.4 479.08 L552.4 480.27 L553 480.27 L553 480.56 L553.6 480.56 L553.6 479.27 L554.2 479.27 L554.2 478.63 L554.8 478.63 L554.8 478.87 L555.4 478.87 L555.4 479.97 L556 479.97 L556 479.28 L556.6 479.28 L556.6 479.81 L557.2 479.81 L557.2 479.24 L557.8 479.24 L557.8 479.11 L558.4 479.11 L558.4 479.17 L559 479.17 L559 479.75 L559.6 479.75 L559.6 480.63 L560.2 480.63 L560.2 479.83 L560.8 479.83 L560.8 479.43 L561.4 479.43 L561.4 479.2 L562 479.2 L562 479.43 L562.6 479.43 L562.6 478.83 L563.2 478.83 L563.2 479.61 L563.8 479.61 L563.8 479.96 L564.4 479.96 L564.4 480.05 L565 480.05 L565 479.34 L565.6 479.34 L565.6 479.39 L566.2 479.39 L566.2 478.61 L566.8 478.61 L566.8 479.3 L567.4 479.3 L567.4 477.78 L568 477.78 L568 480.24 L568.6 480.24 L568.6 479.06 L569.2 479.06 L569.2 479.47 L569.8 479.47 L569.8 480.38 L570.4 480.38 L570.4 479.56 L571 479.56 L571 480.63 L571.6 480.63 L571.6 478.86 L572.2 478.86 L572.2 478.05 L572.8 478.05 L572.8 479.42 L573.4 479.42 L573.4 479.08 L574 479.08 L574 479.07 L574.6 479.07 L574.6 478.87 L575 478.87 L575 482.4 Z" stroke="none" stroke-width="0.7" fill="#f0a262" />
<path d="M359.2 482.4 L359.2 489.69 L359.8 489.69 L359.8 489.55 L360.4 489.55 L360.4 488.65 L361 488.65 L361 489.27 L361.6 489.27 L361.6 488.83 L362.2 488.83 L362.2 487.65 L362.8 487.65 L362.8 489.51 L363.4 489.51 L363.4 488.16 L364 488.16 L364 488.18 L364.6 488.18 L364.6 487.92 L365.2 487.92 L365.2 487.78 L365.8 487.78 L365.8 489.12 L366.4 489.12 L366.4 488.98 L367 488.98 L367 490.15 L367.6 490.15 L367.6 488.67 L368.2 488.67 L368.2 489.93 L368.8 489.93 L368.8 489.07 L369.4 489.07 L369.4 488.44 L370 488.44 L370 487.2 L370.6 487.2 L370.6 490.71 L371.2 490.71 L371.2 488.89 L371.8 488.89 L371.8 487.85 L372.4 487.85 L372.4 488.02 L373 488.02 L373 488.36 L373.6 488.36 L373.6 489.57 L374.2 489.57 L374.2 488.42 L374.8 488.42 L374.8 489.62 L375.4 489.62 L375.4 487.57 L376 487.57 L376 488.99 L376.6 488.99 L376.6 489.77 L377.2 489.77 L377.2 489.46 L377.8 489.46 L377.8 489.19 L378.4 489.19 L378.4 488.09 L379 488.09 L379 490.02 L379.6 490.02 L379.6 487.65 L380.2 487.65 L380.2 489.03 L380.8 489.03 L380.8 489.21 L381.4 489.21 L381.4 490.03 L382 490.03 L382 491.1 L382.6 491.1 L382.6 487.42 L383.2 487.42 L383.2 488.95 L383.8 488.95 L383.8 487.61 L384.4 487.61 L384.4 487.77 L385 487.77 L385 489.25 L385.6 489.25 L385.6 488.44 L386.2 488.44 L386.2 488.7 L386.8 488.7 L386.8 489.77 L387.4 489.77 L387.4 487.6 L388 487.6 L388 487.45 L388.6 487.45 L388.6 488.29 L389.2 488.29 L389.2 488.55 L389.8 488.55 L389.8 487.19 L390.4 487.19 L390.4 488.34 L391 488.34 L391 489.2 L391.6 489.2 L391.6 488.08 L392.2 488.08 L392.2 488.31 L392.8 488.31 L392.8 488.97 L393.4 488.97 L393.4 489.62 L394 489.62 L394 488.44 L394.6 488.44 L394.6 488.65 L395.2 488.65 L395.2 489.75 L395.8 489.75 L395.8 489.82 L396.4 489.82 L396.4 487.22 L397 487.22 L397 490.46 L397.6 490.46 L397.6 489.04 L398.2 489.04 L398.2 489.37 L398.8 489.37 L398.8 489.71 L399.4 489.71 L399.4 488.54 L400 488.54 L400 487.95 L400.6 487.95 L400.6 488.62 L401.2 488.62 L401.2 489.63 L401.8 489.63 L401.8 488.61 L402.4 488.61 L402.4 489.79 L403 489.79 L403 488.99 L403.6 488.99 L403.6 489.1 L404.2 489.1 L404.2 490.06 L404.8 490.06 L404.8 487.47 L405.4 487.47 L405.4 488.26 L406 488.26 L406 487.4 L406.6 487.4 L406.6 489.78 L407.2 489.78 L407.2 488.59 L407.8 488.59 L407.8 489.88 L408.4 489.88 L408.4 487.6 L409 487.6 L409 490.09 L409.6 490.09 L409.6 488.22 L410.2 488.22 L410.2 489.85 L410.8 489.85 L410.8 487.83 L411.4 487.83 L411.4 488.5 L412 488.5 L412 489.34 L412.6 489.34 L412.6 487.57 L413.2 487.57 L413.2 489.42 L413.8 489.42 L413.8 489.11 L414.4 489.11 L414.4 490.64 L415 490.64 L415 489.97 L415.6 489.97 L415.6 489.67 L416.2 489.67 L416.2 487.64 L416.8 487.64 L416.8 489.46 L417.4 489.46 L417.4 489.66 L418 489.66 L418 489.74 L418.6 489.74 L418.6 489.55 L419.2 489.55 L419.2 487.13 L419.8 487.13 L419.8 488.6 L420.4 488.6 L420.4 487.5 L421 487.5 L421 489.86 L421.6 489.86 L421.6 489.19 L422.2 489.19 L422.2 489.71 L422.8 489.71 L422.8 491.26 L423.4 491.26 L423.4 487.7 L424 487.7 L424 488.56 L424.6 488.56 L424.6 487.83 L425.2 487.83 L425.2 487.25 L425.8 487.25 L425.8 487.49 L426.4 487.49 L426.4 488.04 L427 488.04 L427 489.8 L427.6 489.8 L427.6 489.67 L428.2 489.67 L428.2 488.43 L428.8 488.43 L428.8 489.12 L429.4 489.12 L429.4 487.89 L430 487.89 L430 487.76 L430.6 487.76 L430.6 487.17 L431.2 487.17 L431.2 490.01 L431.8 490.01 L431.8 488.29 L432.4 488.29 L432.4 487.64 L433 487.64 L433 489.48 L433.6 489.48 L433.6 489.52 L434.2 489.52 L434.2 490.09 L434.8 490.09 L434.8 489.22 L435.4 489.22 L435.4 489.98 L436 489.98 L436 489.27 L436.6 489.27 L436.6 489.99 L437.2 489.99 L437.2 488.08 L437.8 488.08 L437.8 489.49 L438.4 489.49 L438.4 487.84 L439 487.84 L439 489.26 L439.6 489.26 L439.6 487.46 L440.2 487.46 L440.2 488.9 L440.8 488.9 L440.8 488.95 L441.4 488.95 L441.4 488.82 L442 488.82 L442 489.59 L442.6 489.59 L442.6 487.34 L443.2 487.34 L443.2 487.48 L443.8 487.48 L443.8 489.14 L444.4 489.14 L444.4 487.13 L445 487.13 L445 487.62 L445.6 487.62 L445.6 488.58 L446.2 488.58 L446.2 489.39 L446.8 489.39 L446.8 488.53 L447.4 488.53 L447.4 487.69 L448 487.69 L448 487.58 L448.6 487.58 L448.6 490.27 L449.2 490.27 L449.2 487.16 L449.8 487.16 L449.8 490.89 L450.4 490.89 L450.4 488.79 L451 488.79 L451 488.04 L451.6 488.04 L451.6 490.04 L452.2 490.04 L452.2 487.33 L452.8 487.33 L452.8 491.19 L453.4 491.19 L453.4 488.66 L454 488.66 L454 488.21 L454.6 488.21 L454.6 487.44 L455.2 487.44 L455.2 488.02 L455.8 488.02 L455.8 487.75 L456.4 487.75 L456.4 488.45 L457 488.45 L457 487.18 L457.6 487.18 L457.6 487.54 L458.2 487.54 L458.2 491.45 L458.8 491.45 L458.8 489.74 L459.4 489.74 L459.4 488.89 L460 488.89 L460 489.88 L460.6 489.88 L460.6 490.17 L461.2 490.17 L461.2 489.83 L461.8 489.83 L461.8 488.7 L462.4 488.7 L462.4 489.93 L463 489.93 L463 490.01 L463.6 490.01 L463.6 488.97 L464.2 488.97 L464.2 490.07 L464.8 490.07 L464.8 489.07 L465.4 489.07 L465.4 489.54 L466 489.54 L466 489.46 L466.6 489.46 L466.6 488.19 L467.2 488.19 L467.2 489.11 L467.8 489.11 L467.8 489.93 L468.4 489.93 L468.4 487.13 L469 487.13 L469 489.1 L469.6 489.1 L469.6 489.55 L470.2 489.55 L470.2 487.68 L470.8 487.68 L470.8 487.79 L471.4 487.79 L471.4 487.19 L472 487.19 L472 489.74 L472.6 489.74 L472.6 487.54 L473.2 487.54 L473.2 489.58 L473.8 489.58 L473.8 489.82 L474.4 489.82 L474.4 490.04 L475 490.04 L475 488.54 L475.6 488.54 L475.6 488.43 L476.2 488.43 L476.2 487.53 L476.8 487.53 L476.8 489.7 L477.4 489.7 L477.4 489.43 L478 489.43 L478 487.61 L478.6 487.61 L478.6 487.94 L479.2 487.94 L479.2 488.85 L479.8 488.85 L479.8 489.08 L480.4 489.08 L480.4 491.66 L481 491.66 L481 488.84 L481.6 488.84 L481.6 489.3 L482.2 489.3 L482.2 487.84 L482.8 487.84 L482.8 487.57 L483.4 487.57 L483.4 488.16 L484 488.16 L484 489.83 L484.6 489.83 L484.6 488.67 L485.2 488.67 L485.2 489.05 L485.8 489.05 L485.8 487.51 L486.4 487.51 L486.4 489.97 L487 489.97 L487 487.45 L487.6 487.45 L487.6 488.49 L488.2 488.49 L488.2 489.26 L488.8 489.26 L488.8 489.89 L489.4 489.89 L489.4 488.3 L490 488.3 L490 487.9 L490.6 487.9 L490.6 487.68 L491.2 487.68 L491.2 489.85 L491.8 489.85 L491.8 489.74 L492.4 489.74 L492.4 489.01 L493 489.01 L493 488.28 L493.6 488.28 L493.6 488.87 L494.2 488.87 L494.2 488.02 L494.8 488.02 L494.8 488.8 L495.4 488.8 L495.4 487.9 L496 487.9 L496 490.08 L496.6 490.08 L496.6 489.69 L497.2 489.69 L497.2 487.52 L497.8 487.52 L497.8 489.27 L498.4 489.27 L498.4 488.69 L499 488.69 L499 489 L499.6 489 L499.6 487.26 L500.2 487.26 L500.2 487.21 L500.8 487.21 L500.8 488.92 L501.4 488.92 L501.4 487.69 L502 487.69 L502 488.36 L502.6 488.36 L502.6 488.77 L503.2 488.77 L503.2 488.37 L503.8 488.37 L503.8 489.89 L504.4 489.89 L504.4 488.38 L505 488.38 L505 489.29 L505.6 489.29 L505.6 487.18 L506.2 487.18 L506.2 488.3 L506.8 488.3 L506.8 487.68 L507.4 487.68 L507.4 488.56 L508 488.56 L508 489.14 L508.6 489.14 L508.6 489.18 L509.2 489.18 L509.2 488.39 L509.8 488.39 L509.8 489.23 L510.4 489.23 L510.4 487.61 L511 487.61 L511 488.26 L511.6 488.26 L511.6 487.2 L512.2 487.2 L512.2 488.18 L512.8 488.18 L512.8 490.05 L513.4 490.05 L513.4 490 L514 490 L514 487.14 L514.6 487.14 L514.6 489.07 L515.2 489.07 L515.2 489.75 L515.8 489.75 L515.8 487.89 L516.4 487.89 L516.4 489.19 L517 489.19 L517 488.74 L517.6 488.74 L517.6 487.5 L518.2 487.5 L518.2 489.2 L518.8 489.2 L518.8 489.02 L519.4 489.02 L519.4 488.86 L520 488.86 L520 489.04 L520.6 489.04 L520.6 489.19 L521.2 489.19 L521.2 492.04 L521.8 492.04 L521.8 488.54 L522.4 488.54 L522.4 489.39 L523 489.39 L523 489.25 L523.6 489.25 L523.6 488.94 L524.2 488.94 L524.2 488.92 L524.8 488.92 L524.8 487.3 L525.4 487.3 L525.4 490.83 L526 490.83 L526 488.08 L526.6 488.08 L526.6 488.94 L527.2 488.94 L527.2 487.19 L527.8 487.19 L527.8 492.23 L528.4 492.23 L528.4 487.14 L529 487.14 L529 487.17 L529.6 487.17 L529.6 487.62 L530.2 487.62 L530.2 488.41 L530.8 488.41 L530.8 489.55 L531.4 489.55 L531.4 487.94 L532 487.94 L532 489.51 L532.6 489.51 L532.6 489.7 L533.2 489.7 L533.2 488.78 L533.8 488.78 L533.8 489.57 L534.4 489.57 L534.4 489.74 L535 489.74 L535 487.36 L535.6 487.36 L535.6 489.2 L536.2 489.2 L536.2 489.34 L536.8 489.34 L536.8 489.84 L537.4 489.84 L537.4 489.88 L538 489.88 L538 488.4 L538.6 488.4 L538.6 488.59 L539.2 488.59 L539.2 489.27 L539.8 489.27 L539.8 488.41 L540.4 488.41 L540.4 490.01 L541 490.01 L541 488.77 L541.6 488.77 L541.6 489.08 L542.2 489.08 L542.2 487.15 L542.8 487.15 L542.8 487.95 L543.4 487.95 L543.4 491.43 L544 491.43 L544 488.58 L544.6 488.58 L544.6 487.31 L545.2 487.31 L545.2 487.35 L545.8 487.35 L545.8 487.51 L546.4 487.51 L546.4 489.07 L547 489.07 L547 487.97 L547.6 487.97 L547.6 488.48 L548.2 488.48 L548.2 488.87 L548.8 488.87 L548.8 489.14 L549.4 489.14 L549.4 490 L550 490 L550 489.1 L550.6 489.1 L550.6 490.07 L551.2 490.07 L551.2 489.23 L551.8 489.23 L551.8 487.71 L552.4 487.71 L552.4 488.4 L553 488.4 L553 487.73 L553.6 487.73 L553.6 488.75 L554.2 488.75 L554.2 490.11 L554.8 490.11 L554.8 489.81 L555.4 489.81 L555.4 490.01 L556 490.01 L556 488.16 L556.6 488.16 L556.6 489.04 L557.2 489.04 L557.2 488.57 L557.8 488.57 L557.8 488.12 L558.4 488.12 L558.4 487.55 L559 487.55 L559 489.77 L559.6 489.77 L559.6 487.79 L560.2 487.79 L560.2 489.96 L560.8 489.96 L560.8 491.28 L561.4 491.28 L561.4 489.68 L562 489.68 L562 489.79 L562.6 489.79 L562.6 489.45 L563.2 489.45 L563.2 488.25 L563.8 488.25 L563.8 488.78 L564.4 488.78 L564.4 487.2 L565 487.2 L565 487.2 L565.6 487.2 L565.6 489.25 L566.2 489.25 L566.2 489.06 L566.8 489.06 L566.8 489.15 L567.4 489.15 L567.4 489.18 L568 489.18 L568 489.64 L568.6 489.64 L568.6 489.96 L569.2 489.96 L569.2 488.66 L569.8 488.66 L569.8 491.97 L570.4 491.97 L570.4 488.6 L571 488.6 L571 487.59 L571.6 487.59 L571.6 488.49 L572.2 488.49 L572.2 490.66 L572.8 490.66 L572.8 490.27 L573.4 490.27 L573.4 487.92 L574 487.92 L574 488.96 L574.6 488.96 L574.6 488.47 L575.2 488.47 L575.2 489.82 L575.8 489.82 L575.8 488.24 L576.4 488.24 L576.4 487.66 L577 487.66 L577 487.36 L577.6 487.36 L577.6 487.41 L578.2 487.41 L578.2 487.43 L578.8 487.43 L578.8 487.6 L579.4 487.6 L579.4 488.59 L580 488.59 L580 487.52 L580.6 487.52 L580.6 487.68 L581.2 487.68 L581.2 489.86 L581.8 489.86 L581.8 489.27 L582.4 489.27 L582.4 489.63 L583 489.63 L583 489.59 L583.6 489.59 L583.6 488.35 L584.2 488.35 L584.2 488.28 L584.8 488.28 L584.8 487.18 L585.4 487.18 L585.4 489.38 L586 489.38 L586 489.72 L586.6 489.72 L586.6 490.02 L587.2 490.02 L587.2 488 L587.8 488 L587.8 489.06 L588.4 489.06 L588.4 488.94 L589 488.94 L589 488.83 L589.6 488.83 L589.6 487.32 L590.2 487.32 L590.2 490.99 L590.8 490.99 L590.8 488.76 L591.4 488.76 L591.4 488.25 L592 488.25 L592 489.53 L592.6 489.53 L592.6 489.27 L593.2 489.27 L593.2 490.92 L593.8 490.92 L593.8 487.14 L594.4 487.14 L594.4 487.16 L595 487.16 L595 488.43 L595.6 488.43 L595.6 487.9 L596.2 487.9 L596.2 488.13 L596.8 488.13 L596.8 489.31 L597.4 489.31 L597.4 488.92 L598 488.92 L598 489.75 L598.6 489.75 L598.6 489.79 L599.2 489.79 L599.2 487.27 L599.8 487.27 L599.8 489.7 L600.4 489.7 L600.4 488.11 L601 488.11 L601 491.34 L601.6 491.34 L601.6 489.22 L602.2 489.22 L602.2 489.04 L602.8 489.04 L602.8 489.05 L603.4 489.05 L603.4 487.49 L604 487.49 L604 488.9 L604.6 488.9 L604.6 489.05 L605.2 489.05 L605.2 487.55 L605.8 487.55 L605.8 487.11 L606.4 487.11 L606.4 487.75 L607 487.75 L607 488.74 L607.6 488.74 L607.6 489.46 L608.2 489.46 L608.2 487.27 L608.8 487.27 L608.8 488.78 L609.4 488.78 L609.4 489.35 L610 489.35 L610 489.56 L610.6 489.56 L610.6 489.7 L611.2 489.7 L611.2 490.02 L611.8 490.02 L611.8 487.6 L612.4 487.6 L612.4 489.94 L613 489.94 L613 488.96 L613.3 488.96 L613.3 482.4 Z" stroke="none" stroke-width="0.7" fill="#5f8a86" />
<line x1="359.2" y1="485.5" x2="613.3" y2="485.5" stroke="#9ab5b2" stroke-width="0.6" stroke-dasharray="0.7 1.45"/>
<line x1="359.2" y1="482.4" x2="613.3" y2="482.4" stroke="#161616" stroke-width="1.2" />
<line x1="359.2" y1="495.3" x2="613.3" y2="495.3" stroke="#a8a8a8" stroke-width="0.9" />
<line x1="359.2" y1="469" x2="359.2" y2="495.8" stroke="#555" stroke-width="0.8" />
<text x="354.4" y="484.5" font-size="6.6" text-anchor="end">Sister B</text>
<line x1="356.4" y1="578.7" x2="612.8" y2="578.7" stroke="#cfcfcf" stroke-width="1.6" />
<line x1="359.5" y1="504.3" x2="359.5" y2="578.7" stroke="#3a3a3a" stroke-width="0.8" />
<line x1="356.4" y1="578.7" x2="359.5" y2="578.7" stroke="#3a3a3a" stroke-width="0.6" />
<text x="352.8" y="580.9" font-size="6.6" text-anchor="end">0.6</text>
<line x1="356.4" y1="562.1" x2="359.5" y2="562.1" stroke="#3a3a3a" stroke-width="0.6" />
<text x="352.8" y="564.3" font-size="6.6" text-anchor="end">0.8</text>
<line x1="356.4" y1="545.5" x2="359.5" y2="545.5" stroke="#3a3a3a" stroke-width="0.6" />
<text x="352.8" y="547.7" font-size="6.6" text-anchor="end">1.0</text>
<line x1="356.4" y1="528.9" x2="359.5" y2="528.9" stroke="#3a3a3a" stroke-width="0.6" />
<text x="352.8" y="531.1" font-size="6.6" text-anchor="end">1.2</text>
<line x1="356.4" y1="512.3" x2="359.5" y2="512.3" stroke="#3a3a3a" stroke-width="0.6" />
<text x="352.8" y="514.5" font-size="6.6" text-anchor="end">1.4</text>
<line x1="372.2" y1="579.5" x2="372.2" y2="582.2" stroke="#777" stroke-width="0.6" />
<text x="372.2" y="590.6" font-size="6.6" text-anchor="middle">0.2</text>
<line x1="421.2" y1="579.5" x2="421.2" y2="582.2" stroke="#777" stroke-width="0.6" />
<text x="421.2" y="590.6" font-size="6.6" text-anchor="middle">0.4</text>
<line x1="470.2" y1="579.5" x2="470.2" y2="582.2" stroke="#777" stroke-width="0.6" />
<text x="470.2" y="590.6" font-size="6.6" text-anchor="middle">0.6</text>
<line x1="519.2" y1="579.5" x2="519.2" y2="582.2" stroke="#777" stroke-width="0.6" />
<text x="519.2" y="590.6" font-size="6.6" text-anchor="middle">0.8</text>
<line x1="568.2" y1="579.5" x2="568.2" y2="582.2" stroke="#777" stroke-width="0.6" />
<text x="568.2" y="590.6" font-size="6.6" text-anchor="middle">1.0</text>
<line x1="356.4" y1="545.5" x2="613.8" y2="545.5" stroke="#999" stroke-width="0.9" stroke-dasharray="3 2"/>
<text x="336.6" y="541.7" font-size="6.6" text-anchor="middle" transform="rotate(-90 336.6 541.7)">Normalized counts</text>
<text x="486" y="600.3" font-size="6.6" text-anchor="middle">Genomic position</text>
<text x="591.8" y="595.4" font-size="6.6">1 × 10<tspan font-size="4.5" dy="-2.5">6</tspan></text>
<circle cx="543.1" cy="571.9" r="1.5" fill="#1f8a1f" />
<text x="547.8" y="574.1" font-size="6.6">Sister A</text>
<circle cx="581.4" cy="571.9" r="1.5" fill="#d070e0" />
<text x="585.5" y="574.1" font-size="6.6">Sister B</text>
<path d="M371.27 547.59h0M372.27 549.1h0M373.33 548.11h0M373.96 552.62h0M374.49 548.74h0M375.28 548.39h0M375.61 547.07h0M375.93 544.36h0M376.34 546.03h0M376.7 544.16h0M377.19 539.97h0M377.47 543.6h0M377.48 542.66h0M378 545.92h0M378.16 549.04h0M378.39 550.63h0M378.47 551.54h0M378.73 553.52h0M379.19 551.41h0M379.28 553.18h0M380.17 555.37h0M380.46 556.06h0M380.87 557.69h0M381.26 559.79h0M381.84 562.4h0M382.15 561.12h0M382.51 560h0M382.68 555.14h0M383.03 557.12h0M383.32 554.08h0M383.49 551.2h0M383.81 551.34h0M383.8 547.81h0M384.35 550.32h0M384.23 548.14h0M384.66 544.03h0M385.86 545.7h0M387.42 541.72h0M388.56 540.79h0M389.15 540.78h0M389.78 542.29h0M390.13 541.15h0M390.58 536.07h0M391.26 534.66h0M391.61 535.03h0M392.36 532.76h0M392.54 537.01h0M393.14 538.66h0M393.9 537.49h0M394.15 539.35h0M394.71 540.94h0M395.13 542.3h0M396.77 540.88h0M397.97 540.83h0M398.8 540h0M400.11 541.86h0M400.82 540.65h0M402.21 542.09h0M403.46 541.29h0M404.7 539.92h0M405.63 542.59h0M406.59 543.08h0M408 545.15h0M409.06 542.75h0M410.11 547.72h0M410.63 546.77h0M411.52 547.37h0M412.13 548.51h0M412.53 548.36h0M412.9 546.1h0M413.54 543.28h0M413.83 544.92h0M414.11 541.42h0M414.75 540.15h0M414.84 539.63h0M415.25 536.91h0M415.2 536.57h0M415.61 535.7h0M415.76 533.25h0M415.65 533.95h0M416.07 531.8h0M415.89 529.1h0M416.18 528.08h0M416.47 529.48h0M416.3 525.82h0M416.76 526.03h0M416.91 523.47h0M416.71 521.93h0M417.36 520.57h0M417.46 519.92h0M417.81 518.62h0M418.38 516.29h0M418.24 518.33h0M418.99 517.25h0M419.73 515.82h0M420.95 511.5h0M421.82 512.81h0M422.71 512.41h0M423.46 512.6h0M424.36 512.39h0M425.51 514.57h0M426.59 514.82h0M427.6 518.81h0M428.17 521.01h0M428.72 521h0M428.84 523.05h0M429.48 522.52h0M430.28 524.8h0M431.12 527.81h0M432.19 526.57h0M432.98 530.02h0M433.56 528.42h0M433.96 524.7h0M434.52 526.03h0M434.8 524.66h0M435.64 523.45h0M436.06 518.83h0M436.91 523.37h0M437.57 521.84h0M438.1 521.56h0M438.59 519.97h0M439.18 516.64h0M439.23 515.8h0M439.68 514.2h0M440.52 516.15h0M440.49 513.31h0M440.96 511.21h0M441.33 511.29h0M441.79 508.78h0M441.95 507.33h0M442.26 506.97h0M442.91 504.92h0M442.94 502.76h0M443.44 503.24h0M444.22 503.64h0M444.81 506h0M445.21 506.28h0M445.82 509.01h0M446.36 510.32h0M446.78 509.79h0M447.22 513.03h0M447.39 513.26h0M447.96 516.52h0M448.62 515.76h0M449 518.86h0M449.08 518.85h0M449.94 519.35h0M451.15 518.69h0M452.15 516.8h0M452.84 517.57h0M453.25 518.87h0M453.93 518.2h0M455.04 518.99h0M455.63 520.15h0M456.96 521.42h0M457.46 525.13h0M457.99 523.84h0M458.74 522.51h0M459.35 520.13h0M459.75 516.55h0M460.21 517.25h0M460.66 514.25h0M461.15 516.43h0M461.28 512.56h0M462.26 516.1h0M462.82 514.81h0M463.55 518.06h0M464.53 518.55h0M465.6 518.23h0M466.86 517.99h0M467.99 518h0M468.9 518.9h0M469.26 519.11h0M469.7 522.88h0M470.15 523.14h0M470.53 524.93h0M471.2 524.13h0M471.76 527.61h0M473.14 527.61h0M473.87 529.42h0M474.44 526.32h0M475.15 526.46h0M475.91 523.78h0M476.8 525.6h0M477.18 525.9h0M477.82 527.87h0M478.48 526.74h0M478.88 527.06h0M479.59 529.91h0M479.73 528.5h0M480.1 528.92h0M480.3 528.52h0M480.76 525.55h0M481.05 525.23h0M481.51 522.75h0M481.64 522.12h0M482.12 519.46h0M482.35 520.49h0M482.51 516.11h0M482.68 516.85h0M483.2 516.54h0M483.58 512.22h0M483.71 513.7h0M484.18 516.99h0M484.98 519.23h0M485.14 520.5h0M485.64 520.06h0M486.31 520.06h0M486.9 522.26h0M487.9 519.32h0M488.94 519.72h0M489.55 517.35h0M490.67 517.04h0M491.82 518.39h0M493.46 518.51h0M494.52 518.3h0M495.34 521.79h0M496.21 523.93h0M497.55 521.81h0M498.52 524.17h0M499.39 526.73h0M500.1 527.34h0M501.23 528.84h0M501.98 529.57h0M503.28 530.18h0M504.02 528.78h0M504.95 530.73h0M506.01 533.05h0M506.63 532.14h0M507.37 535.2h0M507.84 537.46h0M508.78 535.42h0M509.88 536.46h0M510.55 539.86h0M511.65 540.13h0M512.61 538.46h0M513.37 536.01h0M514.18 537.01h0M514.94 534.92h0M515.35 532.79h0M515.53 531.54h0M516.24 528.75h0M516.47 528.25h0M517.02 527.34h0M517.22 526.19h0M517.58 526.44h0M517.74 525.46h0M517.87 521.74h0M518.12 519.77h0M518.71 521.05h0M518.67 517.49h0M519.04 518.52h0M519.49 517.24h0M519.64 513.42h0M519.79 512.31h0M520.11 512.59h0M520.9 509.85h0M522.14 507.53h0M522.63 512.56h0M523.19 511.84h0M523.48 514.1h0M524 517.17h0M524.51 515.74h0M525.08 517.93h0M525.51 520.29h0M525.77 521.82h0M526.66 521.99h0M527.15 523.19h0M527.55 524.82h0M528.4 525.97h0M529.64 527h0M530.53 530.43h0M531.28 525.63h0M531.81 526.34h0M532.02 523.89h0M532.69 521.37h0M533.42 523.61h0M534.58 523.06h0M536.03 519.66h0M537.38 521.32h0M538.11 520.38h0M538.72 517.39h0M539.45 518.44h0M540.18 514.94h0M540.4 516.49h0M540.35 515.99h0M540.6 518.01h0M540.92 520.62h0M541.46 522.14h0M541.59 523.97h0M541.8 524.55h0M542.61 525.61h0M542.9 529.02h0M543.75 528.1h0M544.16 530.1h0M544.85 530.14h0M545.5 529.13h0M546.84 527.9h0M547.63 527.17h0M548.45 526.12h0M549.09 524.89h0M549.45 523.43h0M550.06 523.82h0M550.55 520.64h0M551.29 521.04h0M551.96 518.33h0M552.35 518.57h0M552.63 522.37h0M553.19 520.13h0M553.79 521.84h0M554.33 524.02h0M554.55 524.2h0M555.31 526.56h0M556.07 528.78h0M556.87 529.51h0M557.25 530.79h0M558.26 533.74h0M558.97 530.32h0M560.09 532.82h0M561 527.59h0M561.67 526.78h0M562.69 525.35h0M563.58 526.75h0M564.95 523.64h0M565.94 523.6h0M566.16 526.83h0M566.54 524.5h0M566.54 528.28h0M567.17 527.48h0M567.15 532.06h0M567.37 531.5h0M567.79 534.1h0M568.4 533.36h0M568.62 537.08h0M569.62 537.27h0M570.61 537.42h0M571.31 537.81h0M572.44 539.82h0M573.75 538.51h0M575.54 540.34h0M577.11 539.42h0M578.19 539.4h0M579.51 539.8h0M580.58 543.84h0M581.89 542.01h0M582.62 546.07h0M583.77 547.14h0M584.84 546.26h0M585.8 548.38h0M586.78 546.22h0M587.92 545.71h0M589.63 543.84h0M590.7 542.93h0M591.72 544.26h0M593.07 540.81h0M593.57 544.52h0M594.33 543.08h0M594.69 548.31h0M595.23 547.82h0M595.87 549.95h0M596.51 551.2h0M597.02 549.89h0M597.47 550.7h0M598.43 552.11h0M598.66 556.96h0M598.96 555.29h0M599.12 552.12h0M599.39 552.28h0M599.8 550.13h0M600.09 549.73h0M600.09 547.23h0M600.35 543.8h0M600.76 544.46h0" stroke="#c462d8" stroke-width="1.75" fill="none" stroke-linecap="round"/>
<path d="M370.27 544.64h0M372.25 545.37h0M373.98 546.36h0M376.31 547.22h0M378.13 546.71h0M379.47 547.44h0M380.74 547.85h0M382.16 550.25h0M383.86 551.33h0M385.3 549.22h0M386.5 548.58h0M387.67 547.45h0M388.69 544.92h0M389.5 547.19h0M390.4 547.95h0M391.09 549.25h0M392.02 551.76h0M392.52 552.4h0M393.4 554.2h0M394.36 553.32h0M395.14 551.45h0M396.15 550.2h0M396.63 548.6h0M397.66 546.81h0M397.97 546.2h0M398.79 544.65h0M399.85 542.81h0M401.08 541.04h0M401.76 539.48h0M403.1 538.62h0M404.19 538.31h0M405.41 537.08h0M406.67 538.04h0M407.21 539.82h0M408.53 541.96h0M409.67 542.96h0M411.04 544.54h0M412.42 545.33h0M414.3 546.14h0M414.92 547.82h0M415.26 548.55h0M416.43 550.91h0M416.86 552.82h0M417.72 553.97h0M418.32 554.41h0M419.15 555.65h0M419.88 558.13h0M420.62 558.11h0M420.96 559.77h0M421.81 561.47h0M422.05 562.54h0M422.87 564.43h0M422.97 565.35h0M423.38 566.94h0M424.09 565.41h0M424.17 564.39h0M424.67 563.6h0M425.01 561.44h0M425.74 559.77h0M426.24 558.37h0M426.27 556.77h0M426.75 555.09h0M427.43 554.05h0M428.31 551.8h0M428.49 549.76h0M429.17 547.99h0M431.07 549.82h0M431.72 550.1h0M432.81 552.24h0M433.55 553.44h0M434.2 555.22h0M435.6 553.94h0M436.9 551.63h0M437.39 554.29h0M438.37 555.93h0M438.72 557.12h0M439.51 558.62h0M440.08 559.98h0M440.56 561.72h0M440.92 563.57h0M441.83 563.9h0M443.29 563.75h0M444.58 561.06h0M447.5 562.08h0M448.93 561.88h0M449.88 560.23h0M450.46 559.28h0M450.8 558.26h0M450.83 555.44h0M451.47 553.94h0M451.74 552.56h0M451.99 551.98h0M452.32 550.13h0M452.61 548.12h0M452.8 546.78h0M453.2 545.88h0M453.34 544h0M453.46 541.77h0M454.1 540.87h0M454.58 539.5h0M454.57 537.62h0M455.23 536.31h0M455.21 535.21h0M455.96 532.62h0M456.55 534.71h0M457.39 536.29h0M457.84 538.21h0M458.93 539.33h0M459.14 541.64h0M460.16 543.05h0M460.57 545.1h0M461.37 545.56h0M462.06 547.31h0M462.4 549.77h0M463.39 548.45h0M464.2 547.29h0M465.14 545.01h0M465.77 546.7h0M466.27 548.92h0M466.83 549.08h0M467.11 551.26h0M467.67 552.93h0M468.14 553.46h0M468.5 555.96h0M469.03 557.27h0M472.24 557.08h0M473.49 558.5h0M474.71 560.38h0M475.73 562.28h0M476.6 564.11h0M477.17 562.17h0M477.32 559.92h0M477.8 558.64h0M478.07 556.73h0M478.1 555.16h0M478.79 553.62h0M479.16 552.3h0M479.32 550.68h0M479.66 548.73h0M480.48 548.64h0M481.31 546.98h0M482.31 545.22h0M483.61 546.28h0M485.52 548.86h0M485.81 550.32h0M486.24 550.89h0M486.41 552.85h0M486.77 554.96h0M487.22 556.48h0M487.25 557.53h0M487.89 559.14h0M488.83 560.53h0M489.63 561.93h0M490.65 562.74h0M491.83 561.62h0M492.47 559.69h0M493.41 558.98h0M494.23 557.78h0M494.42 555.49h0M495.11 553.75h0M495.39 551.79h0M495.76 550.94h0M496.5 549.46h0M497.73 548.53h0M499.26 546.02h0M499.95 548.73h0M501.38 550.22h0M502.15 550.94h0M503.8 549.91h0M505.76 549.9h0M508 549.24h0M509.52 548.03h0M510.55 547.6h0M511.43 545.96h0M512.64 544.19h0M513.73 542.37h0M514.07 543.92h0M514.42 545.44h0M515.09 547.27h0M515.52 550.19h0M516.19 551.75h0M516.88 553.11h0M517.34 555h0M517.94 556.26h0M518.26 557.8h0M518.83 559.19h0M519.2 560.22h0M522.17 561.68h0M522.51 559.56h0M523.64 558.01h0M524.12 556.93h0M525.08 554.76h0M525.24 553.28h0M525.46 552.3h0M525.86 550.8h0M526.33 548.06h0M527.07 547.38h0M527.17 545.39h0M527.69 544.01h0M528.01 542.57h0M528.88 540.82h0M529.31 539.56h0M529.51 537.85h0M530.2 535.91h0M530.3 534.37h0M531.29 535.45h0M531.73 537.8h0M532.29 538.11h0M532.89 539.94h0M533.58 542.03h0M533.86 544.05h0M534.58 544.97h0M535.25 547.45h0M535.84 549.14h0M536.28 550.58h0M537.01 551.66h0M537.96 552.73h0M538.27 554.56h0M539.24 555.64h0M540.05 556.55h0M540.43 554.6h0M541.3 554.07h0M541.84 551.26h0M542.56 550.56h0M542.9 547.7h0M543.47 547.09h0M543.76 544.75h0M544.22 543.29h0M544.49 541.96h0M544.83 541.52h0M545.42 539.93h0M545.6 537.84h0M547.2 538.75h0M548.56 541.46h0M549.29 542.83h0M549.62 544.11h0M550.42 545.65h0M550.81 546.42h0M551.16 548.94h0M553.07 546.64h0M554.43 545.37h0M555.3 544.41h0M556.08 542.53h0M556.98 540.82h0M557.83 541.74h0M558.93 543.91h0M559.82 544.96h0M561.19 546.23h0M562.63 545.93h0M563.92 546.17h0M565.42 545.18h0M566.6 543.16h0M567.49 544.87h0M568.78 545.7h0M569.37 547.88h0M570.01 549.48h0M570.8 550.34h0M571.68 552.24h0M572.09 553.59h0M573.07 551.84h0M573.93 550.34h0M574.94 547.99h0M575.82 546.98h0M576.91 546.73h0M578 544.68h0M579.15 543.24h0M580.66 544.79h0M582.93 544.86h0M584.54 543.68h0M586.1 544.29h0M587.58 544.18h0M588.87 542.95h0M590.45 543h0M592.22 542.76h0M593.4 543.97h0M594.9 544.93h0M595.77 545.01h0M597.31 546.58h0M598.94 547.97h0M599.66 549.83h0M600.23 551.99h0M601.22 552.92h0" stroke="#1b861b" stroke-width="1.8" fill="none" stroke-linecap="round"/></svg>
</body></html>
